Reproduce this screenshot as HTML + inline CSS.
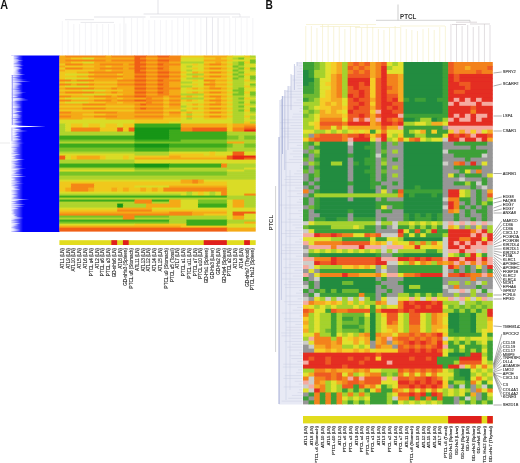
<!DOCTYPE html>
<html><head><meta charset="utf-8"><title>Heatmap figure</title>
<style>html,body{margin:0;padding:0;background:#fff;width:520px;height:463px;overflow:hidden}
svg{display:block;font-family:"Liberation Sans",sans-serif;will-change:transform}</style></head>
<body>
<svg width="520" height="463" viewBox="0 0 520 463" font-family="Liberation Sans, sans-serif">
<text transform="translate(0.2,8.7) scale(0.9,1)" font-size="12" font-weight="bold" fill="#111">A</text>
<text transform="translate(265.6,8.7) scale(0.85,1)" font-size="12" font-weight="bold" fill="#111">B</text>
<line x1="62.29" y1="21.00" x2="62.29" y2="55.50" stroke="#e8e8ee" stroke-width="0.50"/><line x1="68.06" y1="21.00" x2="68.06" y2="55.50" stroke="#e8e8ee" stroke-width="0.50"/><line x1="73.83" y1="24.00" x2="73.83" y2="55.50" stroke="#e8e8ee" stroke-width="0.50"/><line x1="79.61" y1="24.00" x2="79.61" y2="55.50" stroke="#e8e8ee" stroke-width="0.50"/><line x1="85.38" y1="23.00" x2="85.38" y2="55.50" stroke="#e8e8ee" stroke-width="0.50"/><line x1="91.15" y1="23.00" x2="91.15" y2="55.50" stroke="#e8e8ee" stroke-width="0.50"/><line x1="96.93" y1="24.00" x2="96.93" y2="55.50" stroke="#e8e8ee" stroke-width="0.50"/><line x1="102.70" y1="24.00" x2="102.70" y2="55.50" stroke="#e8e8ee" stroke-width="0.50"/><line x1="108.47" y1="24.00" x2="108.47" y2="55.50" stroke="#e8e8ee" stroke-width="0.50"/><line x1="114.25" y1="24.00" x2="114.25" y2="55.50" stroke="#e8e8ee" stroke-width="0.50"/><line x1="120.02" y1="23.50" x2="120.02" y2="55.50" stroke="#e8e8ee" stroke-width="0.50"/><line x1="125.80" y1="23.50" x2="125.80" y2="55.50" stroke="#e8e8ee" stroke-width="0.50"/><line x1="131.57" y1="18.00" x2="131.57" y2="55.50" stroke="#e8e8ee" stroke-width="0.50"/><line x1="137.34" y1="18.00" x2="137.34" y2="55.50" stroke="#e8e8ee" stroke-width="0.50"/><line x1="143.12" y1="18.00" x2="143.12" y2="55.50" stroke="#e8e8ee" stroke-width="0.50"/><line x1="148.89" y1="20.00" x2="148.89" y2="55.50" stroke="#e8e8ee" stroke-width="0.50"/><line x1="154.66" y1="20.00" x2="154.66" y2="55.50" stroke="#e8e8ee" stroke-width="0.50"/><line x1="160.44" y1="20.00" x2="160.44" y2="55.50" stroke="#e8e8ee" stroke-width="0.50"/><line x1="166.21" y1="20.00" x2="166.21" y2="55.50" stroke="#e8e8ee" stroke-width="0.50"/><line x1="171.98" y1="20.00" x2="171.98" y2="55.50" stroke="#e8e8ee" stroke-width="0.50"/><line x1="177.76" y1="18.00" x2="177.76" y2="55.50" stroke="#e8e8ee" stroke-width="0.50"/><line x1="183.53" y1="18.00" x2="183.53" y2="55.50" stroke="#e8e8ee" stroke-width="0.50"/><line x1="189.30" y1="18.00" x2="189.30" y2="55.50" stroke="#e8e8ee" stroke-width="0.50"/><line x1="195.08" y1="18.00" x2="195.08" y2="55.50" stroke="#e8e8ee" stroke-width="0.50"/><line x1="200.85" y1="18.00" x2="200.85" y2="55.50" stroke="#e8e8ee" stroke-width="0.50"/><line x1="206.62" y1="18.00" x2="206.62" y2="55.50" stroke="#e8e8ee" stroke-width="0.50"/><line x1="212.40" y1="18.00" x2="212.40" y2="55.50" stroke="#e8e8ee" stroke-width="0.50"/><line x1="218.17" y1="18.00" x2="218.17" y2="55.50" stroke="#e8e8ee" stroke-width="0.50"/><line x1="223.95" y1="18.00" x2="223.95" y2="55.50" stroke="#e8e8ee" stroke-width="0.50"/><line x1="229.72" y1="18.00" x2="229.72" y2="55.50" stroke="#e8e8ee" stroke-width="0.50"/><line x1="235.49" y1="18.00" x2="235.49" y2="55.50" stroke="#e8e8ee" stroke-width="0.50"/><line x1="241.27" y1="18.00" x2="241.27" y2="55.50" stroke="#e8e8ee" stroke-width="0.50"/><line x1="247.04" y1="18.00" x2="247.04" y2="55.50" stroke="#e8e8ee" stroke-width="0.50"/><line x1="252.81" y1="18.00" x2="252.81" y2="55.50" stroke="#e8e8ee" stroke-width="0.50"/><line x1="158.00" y1="0.00" x2="158.00" y2="14.00" stroke="#d0d0d8" stroke-width="0.60"/><line x1="143.60" y1="14.00" x2="240.00" y2="14.00" stroke="#d0d0d8" stroke-width="0.60"/><line x1="94.00" y1="17.00" x2="145.50" y2="17.00" stroke="#d0d0d8" stroke-width="0.60"/><line x1="65.00" y1="19.70" x2="94.00" y2="19.70" stroke="#d0d0d8" stroke-width="0.50"/><line x1="80.60" y1="22.40" x2="114.00" y2="22.40" stroke="#d0d0d8" stroke-width="0.50"/><line x1="150.00" y1="17.00" x2="230.00" y2="17.00" stroke="#d0d0d8" stroke-width="0.50"/><line x1="232.00" y1="17.00" x2="250.00" y2="17.00" stroke="#d0d0d8" stroke-width="0.50"/><line x1="124.00" y1="17.00" x2="124.00" y2="55.00" stroke="#dcdce2" stroke-width="0.50"/><line x1="206.60" y1="17.00" x2="206.60" y2="55.00" stroke="#dcdce2" stroke-width="0.50"/><line x1="212.50" y1="17.00" x2="212.50" y2="55.00" stroke="#dcdce2" stroke-width="0.50"/><line x1="218.00" y1="18.00" x2="218.00" y2="55.00" stroke="#dcdce2" stroke-width="0.50"/><line x1="240.00" y1="14.00" x2="240.00" y2="17.00" stroke="#d0d0d8" stroke-width="0.50"/>
<rect x="11.2" y="55.5" width="48.4" height="176.5" fill="#0000fa"/>
<defs><linearGradient id="fg" x1="0" x2="1" y1="0" y2="0"><stop offset="0" stop-color="#fff" stop-opacity="0.85"/><stop offset="1" stop-color="#fff" stop-opacity="0"/></linearGradient></defs>
<rect x="11" y="55.5" width="12" height="176.5" fill="url(#fg)"/>
<polygon points="13.10,55.24 19.81,56.00 13.10,56.76" fill="#ffffff" opacity="0.58"/><polygon points="13.10,56.85 19.06,57.64 13.10,58.44" fill="#ffffff" opacity="0.56"/><polygon points="13.10,58.61 19.33,59.16 13.10,59.72" fill="#ffffff" opacity="0.84"/><polygon points="13.10,59.63 23.62,60.31 13.10,60.99" fill="#ffffff" opacity="0.75"/><polygon points="13.10,60.51 18.97,61.79 13.10,63.07" fill="#ffffff" opacity="0.65"/><polygon points="13.10,62.37 21.07,62.96 13.10,63.56" fill="#ffffff" opacity="0.61"/><polygon points="13.10,63.65 21.58,64.66 13.10,65.67" fill="#ffffff" opacity="0.57"/><polygon points="13.10,65.07 24.04,65.73 13.10,66.40" fill="#ffffff" opacity="0.66"/><polygon points="13.10,66.57 21.00,67.43 13.10,68.30" fill="#ffffff" opacity="0.79"/><polygon points="13.10,67.77 22.80,68.73 13.10,69.69" fill="#ffffff" opacity="0.81"/><polygon points="13.10,68.79 19.54,70.07 13.10,71.36" fill="#ffffff" opacity="0.81"/><polygon points="13.10,70.36 18.91,71.25 13.10,72.15" fill="#ffffff" opacity="0.82"/><polygon points="13.10,71.74 21.11,72.94 13.10,74.14" fill="#ffffff" opacity="0.76"/><polygon points="13.10,73.77 25.32,74.64 13.10,75.50" fill="#ffffff" opacity="0.72"/><polygon points="11.30,75.89 20.71,76.43 11.30,76.98" fill="#ffffff" opacity="0.90"/><polygon points="11.30,77.69 18.50,78.42 11.30,79.15" fill="#ffffff" opacity="0.56"/><polygon points="11.30,79.34 27.23,79.97 11.30,80.61" fill="#ffffff" opacity="0.60"/><polygon points="11.30,80.46 30.60,81.27 11.30,82.08" fill="#ffffff" opacity="0.74"/><polygon points="11.30,82.18 21.85,83.33 11.30,84.49" fill="#ffffff" opacity="0.70"/><polygon points="11.30,83.56 22.50,84.76 11.30,85.97" fill="#ffffff" opacity="0.61"/><polygon points="11.30,85.35 19.19,86.04 11.30,86.73" fill="#ffffff" opacity="0.64"/><polygon points="11.30,86.21 18.38,87.05 11.30,87.88" fill="#ffffff" opacity="0.88"/><polygon points="11.30,87.96 20.12,88.87 11.30,89.79" fill="#ffffff" opacity="0.57"/><polygon points="11.30,89.83 21.92,90.95 11.30,92.08" fill="#ffffff" opacity="0.69"/><polygon points="11.30,91.85 26.64,92.43 11.30,93.02" fill="#ffffff" opacity="0.62"/><polygon points="11.30,92.86 23.08,93.63 11.30,94.40" fill="#ffffff" opacity="0.59"/><polygon points="11.30,94.54 21.92,95.06 11.30,95.58" fill="#ffffff" opacity="0.60"/><polygon points="11.30,95.59 18.35,96.37 11.30,97.14" fill="#ffffff" opacity="0.85"/><polygon points="11.30,97.69 25.80,98.56 11.30,99.43" fill="#ffffff" opacity="0.67"/><polygon points="11.30,98.71 28.64,99.88 11.30,101.04" fill="#ffffff" opacity="0.73"/><polygon points="11.30,100.12 15.99,101.05 11.30,101.99" fill="#ffffff" opacity="0.89"/><polygon points="11.30,102.03 17.63,103.09 11.30,104.14" fill="#ffffff" opacity="0.61"/><polygon points="11.30,104.09 21.25,105.01 11.30,105.94" fill="#ffffff" opacity="0.63"/><polygon points="11.30,105.70 21.77,106.99 11.30,108.28" fill="#ffffff" opacity="0.84"/><polygon points="11.30,108.19 19.42,108.88 11.30,109.56" fill="#ffffff" opacity="0.56"/><polygon points="11.30,109.19 17.61,109.91 11.30,110.63" fill="#ffffff" opacity="0.88"/><polygon points="11.30,110.20 22.72,111.45 11.30,112.70" fill="#ffffff" opacity="0.68"/><polygon points="11.30,112.03 17.18,112.71 11.30,113.39" fill="#ffffff" opacity="0.77"/><polygon points="11.30,113.62 19.16,114.79 11.30,115.96" fill="#ffffff" opacity="0.83"/><polygon points="11.30,114.86 22.17,115.89 11.30,116.92" fill="#ffffff" opacity="0.81"/><polygon points="11.30,116.82 21.32,117.47 11.30,118.11" fill="#ffffff" opacity="0.83"/><polygon points="11.30,118.82 18.61,119.63 11.30,120.45" fill="#ffffff" opacity="0.80"/><polygon points="11.30,120.23 16.86,120.84 11.30,121.44" fill="#ffffff" opacity="0.83"/><polygon points="11.30,120.85 22.66,122.01 11.30,123.17" fill="#ffffff" opacity="0.67"/><polygon points="11.30,123.07 15.90,123.67 11.30,124.27" fill="#ffffff" opacity="0.78"/><polygon points="11.30,124.06 18.84,125.30 11.30,126.55" fill="#ffffff" opacity="0.84"/><polygon points="12.50,125.85 17.76,126.56 12.50,127.26" fill="#ffffff" opacity="0.76"/><polygon points="12.50,127.03 16.79,127.87 12.50,128.70" fill="#ffffff" opacity="0.67"/><polygon points="12.50,128.45 21.43,129.42 12.50,130.38" fill="#ffffff" opacity="0.87"/><polygon points="12.50,130.09 27.78,131.02 12.50,131.94" fill="#ffffff" opacity="0.61"/><polygon points="12.50,130.88 17.03,132.02 12.50,133.16" fill="#ffffff" opacity="0.80"/><polygon points="12.50,132.93 19.11,133.69 12.50,134.45" fill="#ffffff" opacity="0.82"/><polygon points="12.50,133.87 17.49,134.82 12.50,135.77" fill="#ffffff" opacity="0.82"/><polygon points="12.50,135.48 20.56,136.43 12.50,137.38" fill="#ffffff" opacity="0.71"/><polygon points="12.50,137.26 19.07,138.16 12.50,139.07" fill="#ffffff" opacity="0.71"/><polygon points="12.50,138.92 21.65,139.80 12.50,140.68" fill="#ffffff" opacity="0.86"/><polygon points="10.70,141.23 18.12,141.93 10.70,142.64" fill="#ffffff" opacity="0.84"/><polygon points="10.70,142.50 24.74,143.10 10.70,143.69" fill="#ffffff" opacity="0.58"/><polygon points="10.70,143.77 20.48,144.90 10.70,146.03" fill="#ffffff" opacity="0.80"/><polygon points="10.70,146.08 20.38,146.69 10.70,147.31" fill="#ffffff" opacity="0.63"/><polygon points="10.70,148.02 17.61,148.84 10.70,149.65" fill="#ffffff" opacity="0.84"/><polygon points="10.70,149.18 17.81,150.03 10.70,150.88" fill="#ffffff" opacity="0.62"/><polygon points="10.70,150.33 14.34,151.41 10.70,152.49" fill="#ffffff" opacity="0.70"/><polygon points="10.70,151.67 18.57,152.43 10.70,153.20" fill="#ffffff" opacity="0.57"/><polygon points="10.70,153.49 21.00,154.62 10.70,155.75" fill="#ffffff" opacity="0.64"/><polygon points="10.70,154.54 16.09,155.66 10.70,156.79" fill="#ffffff" opacity="0.70"/><polygon points="10.70,156.60 16.01,157.76 10.70,158.91" fill="#ffffff" opacity="0.87"/><polygon points="10.70,158.38 24.96,159.44 10.70,160.50" fill="#ffffff" opacity="0.70"/><polygon points="10.70,159.28 18.64,160.53 10.70,161.78" fill="#ffffff" opacity="0.58"/><polygon points="10.70,162.00 20.24,162.56 10.70,163.11" fill="#ffffff" opacity="0.67"/><polygon points="10.70,162.98 16.08,164.22 10.70,165.46" fill="#ffffff" opacity="0.73"/><polygon points="10.70,164.92 22.54,165.51 10.70,166.09" fill="#ffffff" opacity="0.66"/><polygon points="10.70,165.76 16.23,166.87 10.70,167.98" fill="#ffffff" opacity="0.61"/><polygon points="10.70,167.77 26.35,168.29 10.70,168.80" fill="#ffffff" opacity="0.74"/><polygon points="10.70,168.64 20.74,169.52 10.70,170.40" fill="#ffffff" opacity="0.84"/><polygon points="10.70,170.14 20.04,171.03 10.70,171.93" fill="#ffffff" opacity="0.73"/><polygon points="10.70,171.57 16.60,172.86 10.70,174.15" fill="#ffffff" opacity="0.80"/><polygon points="10.70,173.80 23.41,174.62 10.70,175.45" fill="#ffffff" opacity="0.57"/><polygon points="10.70,175.81 26.39,176.51 10.70,177.22" fill="#ffffff" opacity="0.85"/><polygon points="10.70,177.59 15.90,178.32 10.70,179.04" fill="#ffffff" opacity="0.71"/><polygon points="10.70,178.65 16.04,179.51 10.70,180.36" fill="#ffffff" opacity="0.89"/><polygon points="10.70,180.47 20.96,181.16 10.70,181.86" fill="#ffffff" opacity="0.67"/><polygon points="10.70,181.36 17.52,182.16 10.70,182.97" fill="#ffffff" opacity="0.62"/><polygon points="10.70,183.27 24.45,183.77 10.70,184.27" fill="#ffffff" opacity="0.56"/><polygon points="10.70,184.05 15.83,184.80 10.70,185.54" fill="#ffffff" opacity="0.74"/><polygon points="10.70,185.67 19.21,186.70 10.70,187.72" fill="#ffffff" opacity="0.69"/><polygon points="10.70,186.80 15.25,188.09 10.70,189.38" fill="#ffffff" opacity="0.78"/><polygon points="10.70,187.97 20.44,189.14 10.70,190.31" fill="#ffffff" opacity="0.81"/><polygon points="10.70,190.50 17.87,191.12 10.70,191.73" fill="#ffffff" opacity="0.84"/><polygon points="10.70,191.92 18.29,193.08 10.70,194.24" fill="#ffffff" opacity="0.79"/><polygon points="10.70,194.23 14.42,194.91 10.70,195.60" fill="#ffffff" opacity="0.68"/><polygon points="10.70,194.87 18.11,196.04 10.70,197.21" fill="#ffffff" opacity="0.77"/><polygon points="10.70,196.96 14.22,197.86 10.70,198.75" fill="#ffffff" opacity="0.81"/><polygon points="10.70,198.53 29.24,199.46 10.70,200.39" fill="#ffffff" opacity="0.64"/><polygon points="10.70,199.84 19.31,200.55 10.70,201.26" fill="#ffffff" opacity="0.81"/><polygon points="10.70,201.82 16.88,202.72 10.70,203.61" fill="#ffffff" opacity="0.79"/><polygon points="10.70,203.65 25.58,204.64 10.70,205.63" fill="#ffffff" opacity="0.64"/><polygon points="10.70,205.79 24.54,206.53 10.70,207.28" fill="#ffffff" opacity="0.64"/><polygon points="10.70,207.28 18.93,208.34 10.70,209.39" fill="#ffffff" opacity="0.73"/><polygon points="10.70,209.02 15.03,209.90 10.70,210.77" fill="#ffffff" opacity="0.62"/><polygon points="10.70,210.82 14.32,212.07 10.70,213.32" fill="#ffffff" opacity="0.84"/><polygon points="10.70,213.37 16.08,214.23 10.70,215.09" fill="#ffffff" opacity="0.88"/><polygon points="10.70,214.52 15.19,215.48 10.70,216.45" fill="#ffffff" opacity="0.88"/><polygon points="10.70,215.49 17.76,216.64 10.70,217.80" fill="#ffffff" opacity="0.80"/><polygon points="10.70,216.70 23.62,217.92 10.70,219.14" fill="#ffffff" opacity="0.72"/><polygon points="10.70,218.72 15.18,219.46 10.70,220.20" fill="#ffffff" opacity="0.66"/><polygon points="10.70,220.97 19.46,221.47 10.70,221.97" fill="#ffffff" opacity="0.59"/><polygon points="10.70,222.51 20.51,223.58 10.70,224.65" fill="#ffffff" opacity="0.68"/><polygon points="10.70,223.75 18.32,225.05 10.70,226.35" fill="#ffffff" opacity="0.70"/><polygon points="10.70,225.84 14.91,226.38 10.70,226.92" fill="#ffffff" opacity="0.65"/><polygon points="10.70,227.81 16.06,228.51 10.70,229.21" fill="#ffffff" opacity="0.62"/><polygon points="10.70,228.69 20.39,229.95 10.70,231.22" fill="#ffffff" opacity="0.77"/>
<rect x="0" y="55" width="10.8" height="178" fill="#fff"/>
<rect x="10.8" y="55.5" width="2.8" height="19.5" fill="#fff"/>
<polygon points="11,125.6 46,126.5 11,127.5" fill="#fff"/>
<line x1="12.4" y1="75" x2="12.4" y2="125" stroke="#8a8af5" stroke-width="0.8"/>
<line x1="0" y1="143" x2="10" y2="143" stroke="#ddd" stroke-width="0.6"/>
<defs><filter id="bl" x="-2%" y="-2%" width="104%" height="104%"><feGaussianBlur stdDeviation="0.55"/></filter></defs>
<g filter="url(#bl)"><rect x="59.40" y="55.50" width="6.37" height="2.60" fill="#f5aa19"/>
<rect x="65.17" y="55.50" width="41.01" height="2.60" fill="#f58714"/>
<rect x="105.59" y="55.50" width="6.37" height="2.60" fill="#f5aa19"/>
<rect x="111.36" y="55.50" width="23.69" height="2.60" fill="#f58714"/>
<rect x="134.46" y="55.50" width="12.15" height="2.60" fill="#f05f14"/>
<rect x="146.00" y="55.50" width="12.15" height="2.60" fill="#f58714"/>
<rect x="157.55" y="55.50" width="12.15" height="2.60" fill="#f05f14"/>
<rect x="169.10" y="55.50" width="12.15" height="2.60" fill="#f58714"/>
<rect x="180.64" y="55.50" width="23.69" height="2.60" fill="#f0c81e"/>
<rect x="203.74" y="55.50" width="23.69" height="2.60" fill="#f5aa19"/>
<rect x="226.83" y="55.50" width="6.37" height="2.60" fill="#f0c81e"/>
<rect x="232.61" y="55.50" width="12.15" height="2.60" fill="#dadc28"/>
<rect x="244.15" y="55.50" width="6.37" height="2.60" fill="#f0c81e"/>
<rect x="249.93" y="55.50" width="5.77" height="2.60" fill="#afd42d"/>
<rect x="59.40" y="57.50" width="12.15" height="2.60" fill="#f5aa19"/>
<rect x="70.95" y="57.50" width="12.15" height="2.60" fill="#f0c81e"/>
<rect x="82.49" y="57.50" width="12.15" height="2.60" fill="#dadc28"/>
<rect x="94.04" y="57.50" width="41.01" height="2.60" fill="#f5aa19"/>
<rect x="134.46" y="57.50" width="6.37" height="2.60" fill="#f05f14"/>
<rect x="140.23" y="57.50" width="6.37" height="2.60" fill="#f58714"/>
<rect x="146.00" y="57.50" width="12.15" height="2.60" fill="#f5aa19"/>
<rect x="157.55" y="57.50" width="23.69" height="2.60" fill="#f58714"/>
<rect x="180.64" y="57.50" width="23.69" height="2.60" fill="#dadc28"/>
<rect x="203.74" y="57.50" width="12.15" height="2.60" fill="#f0c81e"/>
<rect x="215.29" y="57.50" width="6.37" height="2.60" fill="#f5aa19"/>
<rect x="221.06" y="57.50" width="6.37" height="2.60" fill="#f0c81e"/>
<rect x="226.83" y="57.50" width="6.37" height="2.60" fill="#dadc28"/>
<rect x="232.61" y="57.50" width="6.37" height="2.60" fill="#afd42d"/>
<rect x="238.38" y="57.50" width="6.37" height="2.60" fill="#78c328"/>
<rect x="244.15" y="57.50" width="11.55" height="2.60" fill="#dadc28"/>
<rect x="59.40" y="59.50" width="6.37" height="2.60" fill="#f5aa19"/>
<rect x="65.17" y="59.50" width="41.01" height="2.60" fill="#f58714"/>
<rect x="105.59" y="59.50" width="6.37" height="2.60" fill="#f5aa19"/>
<rect x="111.36" y="59.50" width="23.69" height="2.60" fill="#f58714"/>
<rect x="134.46" y="59.50" width="12.15" height="2.60" fill="#f05f14"/>
<rect x="146.00" y="59.50" width="12.15" height="2.60" fill="#f58714"/>
<rect x="157.55" y="59.50" width="12.15" height="2.60" fill="#f05f14"/>
<rect x="169.10" y="59.50" width="12.15" height="2.60" fill="#f58714"/>
<rect x="180.64" y="59.50" width="23.69" height="2.60" fill="#dadc28"/>
<rect x="203.74" y="59.50" width="23.69" height="2.60" fill="#f5aa19"/>
<rect x="226.83" y="59.50" width="6.37" height="2.60" fill="#f0c81e"/>
<rect x="232.61" y="59.50" width="17.92" height="2.60" fill="#dadc28"/>
<rect x="249.93" y="59.50" width="5.77" height="2.60" fill="#78c328"/>
<rect x="59.40" y="61.50" width="12.15" height="2.60" fill="#f5aa19"/>
<rect x="70.95" y="61.50" width="12.15" height="2.60" fill="#f0c81e"/>
<rect x="82.49" y="61.50" width="12.15" height="2.60" fill="#dadc28"/>
<rect x="94.04" y="61.50" width="41.01" height="2.60" fill="#f5aa19"/>
<rect x="134.46" y="61.50" width="6.37" height="2.60" fill="#f05f14"/>
<rect x="140.23" y="61.50" width="6.37" height="2.60" fill="#f58714"/>
<rect x="146.00" y="61.50" width="12.15" height="2.60" fill="#f5aa19"/>
<rect x="157.55" y="61.50" width="12.15" height="2.60" fill="#f58714"/>
<rect x="169.10" y="61.50" width="12.15" height="2.60" fill="#f5aa19"/>
<rect x="180.64" y="61.50" width="23.69" height="2.60" fill="#afd42d"/>
<rect x="203.74" y="61.50" width="12.15" height="2.60" fill="#f0c81e"/>
<rect x="215.29" y="61.50" width="6.37" height="2.60" fill="#f5aa19"/>
<rect x="221.06" y="61.50" width="6.37" height="2.60" fill="#f0c81e"/>
<rect x="226.83" y="61.50" width="6.37" height="2.60" fill="#dadc28"/>
<rect x="232.61" y="61.50" width="6.37" height="2.60" fill="#afd42d"/>
<rect x="238.38" y="61.50" width="6.37" height="2.60" fill="#78c328"/>
<rect x="244.15" y="61.50" width="6.37" height="2.60" fill="#f0c81e"/>
<rect x="249.93" y="61.50" width="5.77" height="2.60" fill="#78c328"/>
<rect x="59.40" y="63.50" width="6.37" height="2.60" fill="#f0c81e"/>
<rect x="65.17" y="63.50" width="17.92" height="2.60" fill="#f58714"/>
<rect x="82.49" y="63.50" width="17.92" height="2.60" fill="#f5aa19"/>
<rect x="99.81" y="63.50" width="23.69" height="2.60" fill="#f58714"/>
<rect x="122.91" y="63.50" width="6.37" height="2.60" fill="#f5aa19"/>
<rect x="128.68" y="63.50" width="6.37" height="2.60" fill="#f58714"/>
<rect x="134.46" y="63.50" width="12.15" height="2.60" fill="#f05f14"/>
<rect x="146.00" y="63.50" width="12.15" height="2.60" fill="#f58714"/>
<rect x="157.55" y="63.50" width="6.37" height="2.60" fill="#f05f14"/>
<rect x="163.32" y="63.50" width="17.92" height="2.60" fill="#f58714"/>
<rect x="180.64" y="63.50" width="12.15" height="2.60" fill="#dadc28"/>
<rect x="192.19" y="63.50" width="6.37" height="2.60" fill="#f0c81e"/>
<rect x="197.96" y="63.50" width="6.37" height="2.60" fill="#dadc28"/>
<rect x="203.74" y="63.50" width="6.37" height="2.60" fill="#f5aa19"/>
<rect x="209.51" y="63.50" width="12.15" height="2.60" fill="#f58714"/>
<rect x="221.06" y="63.50" width="6.37" height="2.60" fill="#f5aa19"/>
<rect x="226.83" y="63.50" width="6.37" height="2.60" fill="#f0c81e"/>
<rect x="232.61" y="63.50" width="6.37" height="2.60" fill="#afd42d"/>
<rect x="238.38" y="63.50" width="6.37" height="2.60" fill="#78c328"/>
<rect x="244.15" y="63.50" width="11.55" height="2.60" fill="#dadc28"/>
<rect x="59.40" y="65.51" width="6.37" height="2.60" fill="#f5aa19"/>
<rect x="65.17" y="65.51" width="29.47" height="2.60" fill="#f0c81e"/>
<rect x="94.04" y="65.51" width="12.15" height="2.60" fill="#f5aa19"/>
<rect x="105.59" y="65.51" width="6.37" height="2.60" fill="#f0c81e"/>
<rect x="111.36" y="65.51" width="23.69" height="2.60" fill="#f5aa19"/>
<rect x="134.46" y="65.51" width="6.37" height="2.60" fill="#f05f14"/>
<rect x="140.23" y="65.51" width="6.37" height="2.60" fill="#f58714"/>
<rect x="146.00" y="65.51" width="12.15" height="2.60" fill="#f5aa19"/>
<rect x="157.55" y="65.51" width="12.15" height="2.60" fill="#f58714"/>
<rect x="169.10" y="65.51" width="12.15" height="2.60" fill="#f5aa19"/>
<rect x="180.64" y="65.51" width="6.37" height="2.60" fill="#dadc28"/>
<rect x="186.42" y="65.51" width="6.37" height="2.60" fill="#afd42d"/>
<rect x="192.19" y="65.51" width="12.15" height="2.60" fill="#dadc28"/>
<rect x="203.74" y="65.51" width="23.69" height="2.60" fill="#f0c81e"/>
<rect x="226.83" y="65.51" width="6.37" height="2.60" fill="#dadc28"/>
<rect x="232.61" y="65.51" width="6.37" height="2.60" fill="#78c328"/>
<rect x="238.38" y="65.51" width="6.37" height="2.60" fill="#afd42d"/>
<rect x="244.15" y="65.51" width="11.55" height="2.60" fill="#dadc28"/>
<rect x="59.40" y="67.51" width="6.37" height="2.60" fill="#f0c81e"/>
<rect x="65.17" y="67.51" width="17.92" height="2.60" fill="#f58714"/>
<rect x="82.49" y="67.51" width="17.92" height="2.60" fill="#f5aa19"/>
<rect x="99.81" y="67.51" width="23.69" height="2.60" fill="#f58714"/>
<rect x="122.91" y="67.51" width="6.37" height="2.60" fill="#f5aa19"/>
<rect x="128.68" y="67.51" width="6.37" height="2.60" fill="#f58714"/>
<rect x="134.46" y="67.51" width="12.15" height="2.60" fill="#f05f14"/>
<rect x="146.00" y="67.51" width="12.15" height="2.60" fill="#f58714"/>
<rect x="157.55" y="67.51" width="6.37" height="2.60" fill="#f05f14"/>
<rect x="163.32" y="67.51" width="6.37" height="2.60" fill="#f58714"/>
<rect x="169.10" y="67.51" width="12.15" height="2.60" fill="#f5aa19"/>
<rect x="180.64" y="67.51" width="12.15" height="2.60" fill="#dadc28"/>
<rect x="192.19" y="67.51" width="6.37" height="2.60" fill="#f0c81e"/>
<rect x="197.96" y="67.51" width="6.37" height="2.60" fill="#dadc28"/>
<rect x="203.74" y="67.51" width="6.37" height="2.60" fill="#f5aa19"/>
<rect x="209.51" y="67.51" width="12.15" height="2.60" fill="#f58714"/>
<rect x="221.06" y="67.51" width="6.37" height="2.60" fill="#f5aa19"/>
<rect x="226.83" y="67.51" width="6.37" height="2.60" fill="#f0c81e"/>
<rect x="232.61" y="67.51" width="6.37" height="2.60" fill="#afd42d"/>
<rect x="238.38" y="67.51" width="6.37" height="2.60" fill="#78c328"/>
<rect x="244.15" y="67.51" width="6.37" height="2.60" fill="#f0c81e"/>
<rect x="249.93" y="67.51" width="5.77" height="2.60" fill="#78c328"/>
<rect x="59.40" y="69.51" width="6.37" height="2.60" fill="#f5aa19"/>
<rect x="65.17" y="69.51" width="29.47" height="2.60" fill="#f0c81e"/>
<rect x="94.04" y="69.51" width="12.15" height="2.60" fill="#f5aa19"/>
<rect x="105.59" y="69.51" width="6.37" height="2.60" fill="#f0c81e"/>
<rect x="111.36" y="69.51" width="23.69" height="2.60" fill="#f5aa19"/>
<rect x="134.46" y="69.51" width="6.37" height="2.60" fill="#f05f14"/>
<rect x="140.23" y="69.51" width="6.37" height="2.60" fill="#f58714"/>
<rect x="146.00" y="69.51" width="12.15" height="2.60" fill="#f5aa19"/>
<rect x="157.55" y="69.51" width="12.15" height="2.60" fill="#f58714"/>
<rect x="169.10" y="69.51" width="12.15" height="2.60" fill="#f5aa19"/>
<rect x="180.64" y="69.51" width="6.37" height="2.60" fill="#dadc28"/>
<rect x="186.42" y="69.51" width="6.37" height="2.60" fill="#afd42d"/>
<rect x="192.19" y="69.51" width="12.15" height="2.60" fill="#dadc28"/>
<rect x="203.74" y="69.51" width="23.69" height="2.60" fill="#f0c81e"/>
<rect x="226.83" y="69.51" width="6.37" height="2.60" fill="#dadc28"/>
<rect x="232.61" y="69.51" width="6.37" height="2.60" fill="#78c328"/>
<rect x="238.38" y="69.51" width="6.37" height="2.60" fill="#afd42d"/>
<rect x="244.15" y="69.51" width="6.37" height="2.60" fill="#dadc28"/>
<rect x="249.93" y="69.51" width="5.77" height="2.60" fill="#afd42d"/>
<rect x="59.40" y="71.51" width="17.92" height="2.60" fill="#f0c81e"/>
<rect x="76.72" y="71.51" width="12.15" height="2.60" fill="#f5aa19"/>
<rect x="88.27" y="71.51" width="35.24" height="2.60" fill="#f58714"/>
<rect x="122.91" y="71.51" width="12.15" height="2.60" fill="#f5aa19"/>
<rect x="134.46" y="71.51" width="12.15" height="2.60" fill="#f05f14"/>
<rect x="146.00" y="71.51" width="12.15" height="2.60" fill="#f58714"/>
<rect x="157.55" y="71.51" width="12.15" height="2.60" fill="#f05f14"/>
<rect x="169.10" y="71.51" width="12.15" height="2.60" fill="#f58714"/>
<rect x="180.64" y="71.51" width="6.37" height="2.60" fill="#f0c81e"/>
<rect x="186.42" y="71.51" width="6.37" height="2.60" fill="#dadc28"/>
<rect x="192.19" y="71.51" width="6.37" height="2.60" fill="#f5aa19"/>
<rect x="197.96" y="71.51" width="6.37" height="2.60" fill="#f0c81e"/>
<rect x="203.74" y="71.51" width="6.37" height="2.60" fill="#f5aa19"/>
<rect x="209.51" y="71.51" width="12.15" height="2.60" fill="#f58714"/>
<rect x="221.06" y="71.51" width="6.37" height="2.60" fill="#f5aa19"/>
<rect x="226.83" y="71.51" width="6.37" height="2.60" fill="#f0c81e"/>
<rect x="232.61" y="71.51" width="6.37" height="2.60" fill="#afd42d"/>
<rect x="238.38" y="71.51" width="6.37" height="2.60" fill="#78c328"/>
<rect x="244.15" y="71.51" width="11.55" height="2.60" fill="#dadc28"/>
<rect x="59.40" y="73.51" width="6.37" height="2.60" fill="#f0c81e"/>
<rect x="65.17" y="73.51" width="23.69" height="2.60" fill="#dadc28"/>
<rect x="88.27" y="73.51" width="6.37" height="2.60" fill="#f0c81e"/>
<rect x="94.04" y="73.51" width="23.69" height="2.60" fill="#f5aa19"/>
<rect x="117.14" y="73.51" width="6.37" height="2.60" fill="#f0c81e"/>
<rect x="122.91" y="73.51" width="12.15" height="2.60" fill="#f5aa19"/>
<rect x="134.46" y="73.51" width="12.15" height="2.60" fill="#f58714"/>
<rect x="146.00" y="73.51" width="12.15" height="2.60" fill="#f5aa19"/>
<rect x="157.55" y="73.51" width="12.15" height="2.60" fill="#f58714"/>
<rect x="169.10" y="73.51" width="12.15" height="2.60" fill="#f5aa19"/>
<rect x="180.64" y="73.51" width="6.37" height="2.60" fill="#dadc28"/>
<rect x="186.42" y="73.51" width="17.92" height="2.60" fill="#afd42d"/>
<rect x="203.74" y="73.51" width="23.69" height="2.60" fill="#f0c81e"/>
<rect x="226.83" y="73.51" width="6.37" height="2.60" fill="#dadc28"/>
<rect x="232.61" y="73.51" width="6.37" height="2.60" fill="#78c328"/>
<rect x="238.38" y="73.51" width="6.37" height="2.60" fill="#afd42d"/>
<rect x="244.15" y="73.51" width="6.37" height="2.60" fill="#f0c81e"/>
<rect x="249.93" y="73.51" width="5.77" height="2.60" fill="#dadc28"/>
<rect x="59.40" y="75.51" width="17.92" height="2.60" fill="#f0c81e"/>
<rect x="76.72" y="75.51" width="12.15" height="2.60" fill="#f5aa19"/>
<rect x="88.27" y="75.51" width="35.24" height="2.60" fill="#f58714"/>
<rect x="122.91" y="75.51" width="12.15" height="2.60" fill="#f5aa19"/>
<rect x="134.46" y="75.51" width="12.15" height="2.60" fill="#f05f14"/>
<rect x="146.00" y="75.51" width="12.15" height="2.60" fill="#f58714"/>
<rect x="157.55" y="75.51" width="12.15" height="2.60" fill="#f05f14"/>
<rect x="169.10" y="75.51" width="12.15" height="2.60" fill="#f58714"/>
<rect x="180.64" y="75.51" width="6.37" height="2.60" fill="#f0c81e"/>
<rect x="186.42" y="75.51" width="6.37" height="2.60" fill="#dadc28"/>
<rect x="192.19" y="75.51" width="6.37" height="2.60" fill="#f5aa19"/>
<rect x="197.96" y="75.51" width="6.37" height="2.60" fill="#f0c81e"/>
<rect x="203.74" y="75.51" width="6.37" height="2.60" fill="#f5aa19"/>
<rect x="209.51" y="75.51" width="12.15" height="2.60" fill="#f58714"/>
<rect x="221.06" y="75.51" width="6.37" height="2.60" fill="#f5aa19"/>
<rect x="226.83" y="75.51" width="6.37" height="2.60" fill="#f0c81e"/>
<rect x="232.61" y="75.51" width="6.37" height="2.60" fill="#afd42d"/>
<rect x="238.38" y="75.51" width="6.37" height="2.60" fill="#78c328"/>
<rect x="244.15" y="75.51" width="6.37" height="2.60" fill="#dadc28"/>
<rect x="249.93" y="75.51" width="5.77" height="2.60" fill="#78c328"/>
<rect x="59.40" y="77.51" width="6.37" height="2.60" fill="#f0c81e"/>
<rect x="65.17" y="77.51" width="23.69" height="2.60" fill="#dadc28"/>
<rect x="88.27" y="77.51" width="6.37" height="2.60" fill="#f0c81e"/>
<rect x="94.04" y="77.51" width="23.69" height="2.60" fill="#f5aa19"/>
<rect x="117.14" y="77.51" width="6.37" height="2.60" fill="#f0c81e"/>
<rect x="122.91" y="77.51" width="12.15" height="2.60" fill="#f5aa19"/>
<rect x="134.46" y="77.51" width="12.15" height="2.60" fill="#f58714"/>
<rect x="146.00" y="77.51" width="12.15" height="2.60" fill="#f5aa19"/>
<rect x="157.55" y="77.51" width="12.15" height="2.60" fill="#f58714"/>
<rect x="169.10" y="77.51" width="12.15" height="2.60" fill="#f5aa19"/>
<rect x="180.64" y="77.51" width="6.37" height="2.60" fill="#dadc28"/>
<rect x="186.42" y="77.51" width="17.92" height="2.60" fill="#afd42d"/>
<rect x="203.74" y="77.51" width="23.69" height="2.60" fill="#f0c81e"/>
<rect x="226.83" y="77.51" width="6.37" height="2.60" fill="#dadc28"/>
<rect x="232.61" y="77.51" width="6.37" height="2.60" fill="#78c328"/>
<rect x="238.38" y="77.51" width="6.37" height="2.60" fill="#afd42d"/>
<rect x="244.15" y="77.51" width="6.37" height="2.60" fill="#dadc28"/>
<rect x="249.93" y="77.51" width="5.77" height="2.60" fill="#78c328"/>
<rect x="59.40" y="79.51" width="12.15" height="2.60" fill="#f58714"/>
<rect x="70.95" y="79.51" width="6.37" height="2.60" fill="#f5aa19"/>
<rect x="76.72" y="79.51" width="17.92" height="2.60" fill="#f58714"/>
<rect x="94.04" y="79.51" width="23.69" height="2.60" fill="#f5aa19"/>
<rect x="117.14" y="79.51" width="17.92" height="2.60" fill="#f58714"/>
<rect x="134.46" y="79.51" width="12.15" height="2.60" fill="#f05f14"/>
<rect x="146.00" y="79.51" width="12.15" height="2.60" fill="#f58714"/>
<rect x="157.55" y="79.51" width="6.37" height="2.60" fill="#f05f14"/>
<rect x="163.32" y="79.51" width="17.92" height="2.60" fill="#f58714"/>
<rect x="180.64" y="79.51" width="12.15" height="2.60" fill="#dadc28"/>
<rect x="192.19" y="79.51" width="6.37" height="2.60" fill="#f0c81e"/>
<rect x="197.96" y="79.51" width="6.37" height="2.60" fill="#dadc28"/>
<rect x="203.74" y="79.51" width="12.15" height="2.60" fill="#f58714"/>
<rect x="215.29" y="79.51" width="12.15" height="2.60" fill="#f5aa19"/>
<rect x="226.83" y="79.51" width="6.37" height="2.60" fill="#f0c81e"/>
<rect x="232.61" y="79.51" width="12.15" height="2.60" fill="#afd42d"/>
<rect x="244.15" y="79.51" width="6.37" height="2.60" fill="#f0c81e"/>
<rect x="249.93" y="79.51" width="5.77" height="2.60" fill="#afd42d"/>
<rect x="59.40" y="81.51" width="6.37" height="2.60" fill="#f0c81e"/>
<rect x="65.17" y="81.51" width="23.69" height="2.60" fill="#dadc28"/>
<rect x="88.27" y="81.51" width="29.47" height="2.60" fill="#f0c81e"/>
<rect x="117.14" y="81.51" width="17.92" height="2.60" fill="#f5aa19"/>
<rect x="134.46" y="81.51" width="12.15" height="2.60" fill="#f58714"/>
<rect x="146.00" y="81.51" width="12.15" height="2.60" fill="#f5aa19"/>
<rect x="157.55" y="81.51" width="12.15" height="2.60" fill="#f58714"/>
<rect x="169.10" y="81.51" width="12.15" height="2.60" fill="#f5aa19"/>
<rect x="180.64" y="81.51" width="12.15" height="2.60" fill="#afd42d"/>
<rect x="192.19" y="81.51" width="12.15" height="2.60" fill="#dadc28"/>
<rect x="203.74" y="81.51" width="6.37" height="2.60" fill="#f0c81e"/>
<rect x="209.51" y="81.51" width="6.37" height="2.60" fill="#f5aa19"/>
<rect x="215.29" y="81.51" width="12.15" height="2.60" fill="#f0c81e"/>
<rect x="226.83" y="81.51" width="6.37" height="2.60" fill="#dadc28"/>
<rect x="232.61" y="81.51" width="12.15" height="2.60" fill="#afd42d"/>
<rect x="244.15" y="81.51" width="11.55" height="2.60" fill="#dadc28"/>
<rect x="59.40" y="83.52" width="12.15" height="2.60" fill="#f58714"/>
<rect x="70.95" y="83.52" width="6.37" height="2.60" fill="#f5aa19"/>
<rect x="76.72" y="83.52" width="17.92" height="2.60" fill="#f58714"/>
<rect x="94.04" y="83.52" width="23.69" height="2.60" fill="#f5aa19"/>
<rect x="117.14" y="83.52" width="17.92" height="2.60" fill="#f58714"/>
<rect x="134.46" y="83.52" width="12.15" height="2.60" fill="#f05f14"/>
<rect x="146.00" y="83.52" width="12.15" height="2.60" fill="#f58714"/>
<rect x="157.55" y="83.52" width="6.37" height="2.60" fill="#f05f14"/>
<rect x="163.32" y="83.52" width="6.37" height="2.60" fill="#f58714"/>
<rect x="169.10" y="83.52" width="12.15" height="2.60" fill="#f5aa19"/>
<rect x="180.64" y="83.52" width="12.15" height="2.60" fill="#dadc28"/>
<rect x="192.19" y="83.52" width="6.37" height="2.60" fill="#f0c81e"/>
<rect x="197.96" y="83.52" width="6.37" height="2.60" fill="#dadc28"/>
<rect x="203.74" y="83.52" width="12.15" height="2.60" fill="#f58714"/>
<rect x="215.29" y="83.52" width="12.15" height="2.60" fill="#f5aa19"/>
<rect x="226.83" y="83.52" width="6.37" height="2.60" fill="#f0c81e"/>
<rect x="232.61" y="83.52" width="12.15" height="2.60" fill="#afd42d"/>
<rect x="244.15" y="83.52" width="6.37" height="2.60" fill="#dadc28"/>
<rect x="249.93" y="83.52" width="5.77" height="2.60" fill="#78c328"/>
<rect x="59.40" y="85.52" width="6.37" height="2.60" fill="#f0c81e"/>
<rect x="65.17" y="85.52" width="23.69" height="2.60" fill="#dadc28"/>
<rect x="88.27" y="85.52" width="29.47" height="2.60" fill="#f0c81e"/>
<rect x="117.14" y="85.52" width="17.92" height="2.60" fill="#f5aa19"/>
<rect x="134.46" y="85.52" width="12.15" height="2.60" fill="#f58714"/>
<rect x="146.00" y="85.52" width="12.15" height="2.60" fill="#f5aa19"/>
<rect x="157.55" y="85.52" width="12.15" height="2.60" fill="#f58714"/>
<rect x="169.10" y="85.52" width="12.15" height="2.60" fill="#f5aa19"/>
<rect x="180.64" y="85.52" width="12.15" height="2.60" fill="#afd42d"/>
<rect x="192.19" y="85.52" width="12.15" height="2.60" fill="#dadc28"/>
<rect x="203.74" y="85.52" width="6.37" height="2.60" fill="#f0c81e"/>
<rect x="209.51" y="85.52" width="6.37" height="2.60" fill="#f5aa19"/>
<rect x="215.29" y="85.52" width="12.15" height="2.60" fill="#f0c81e"/>
<rect x="226.83" y="85.52" width="6.37" height="2.60" fill="#dadc28"/>
<rect x="232.61" y="85.52" width="12.15" height="2.60" fill="#afd42d"/>
<rect x="244.15" y="85.52" width="6.37" height="2.60" fill="#f0c81e"/>
<rect x="249.93" y="85.52" width="5.77" height="2.60" fill="#afd42d"/>
<rect x="59.40" y="87.52" width="6.37" height="2.60" fill="#f5aa19"/>
<rect x="65.17" y="87.52" width="29.47" height="2.60" fill="#f58714"/>
<rect x="94.04" y="87.52" width="17.92" height="2.60" fill="#f5aa19"/>
<rect x="111.36" y="87.52" width="6.37" height="2.60" fill="#f58714"/>
<rect x="117.14" y="87.52" width="17.92" height="2.60" fill="#f5aa19"/>
<rect x="134.46" y="87.52" width="12.15" height="2.60" fill="#f05f14"/>
<rect x="146.00" y="87.52" width="12.15" height="2.60" fill="#f58714"/>
<rect x="157.55" y="87.52" width="6.37" height="2.60" fill="#f05f14"/>
<rect x="163.32" y="87.52" width="17.92" height="2.60" fill="#f58714"/>
<rect x="180.64" y="87.52" width="6.37" height="2.60" fill="#dadc28"/>
<rect x="186.42" y="87.52" width="6.37" height="2.60" fill="#f0c81e"/>
<rect x="192.19" y="87.52" width="6.37" height="2.60" fill="#f5aa19"/>
<rect x="197.96" y="87.52" width="6.37" height="2.60" fill="#f0c81e"/>
<rect x="203.74" y="87.52" width="6.37" height="2.60" fill="#f5aa19"/>
<rect x="209.51" y="87.52" width="12.15" height="2.60" fill="#f58714"/>
<rect x="221.06" y="87.52" width="6.37" height="2.60" fill="#f5aa19"/>
<rect x="226.83" y="87.52" width="6.37" height="2.60" fill="#f0c81e"/>
<rect x="232.61" y="87.52" width="6.37" height="2.60" fill="#afd42d"/>
<rect x="238.38" y="87.52" width="6.37" height="2.60" fill="#78c328"/>
<rect x="244.15" y="87.52" width="11.55" height="2.60" fill="#dadc28"/>
<rect x="59.40" y="89.52" width="23.69" height="2.60" fill="#f0c81e"/>
<rect x="82.49" y="89.52" width="23.69" height="2.60" fill="#dadc28"/>
<rect x="105.59" y="89.52" width="17.92" height="2.60" fill="#f0c81e"/>
<rect x="122.91" y="89.52" width="12.15" height="2.60" fill="#f5aa19"/>
<rect x="134.46" y="89.52" width="12.15" height="2.60" fill="#f58714"/>
<rect x="146.00" y="89.52" width="12.15" height="2.60" fill="#f5aa19"/>
<rect x="157.55" y="89.52" width="12.15" height="2.60" fill="#f58714"/>
<rect x="169.10" y="89.52" width="12.15" height="2.60" fill="#f5aa19"/>
<rect x="180.64" y="89.52" width="23.69" height="2.60" fill="#dadc28"/>
<rect x="203.74" y="89.52" width="23.69" height="2.60" fill="#f0c81e"/>
<rect x="226.83" y="89.52" width="6.37" height="2.60" fill="#dadc28"/>
<rect x="232.61" y="89.52" width="12.15" height="2.60" fill="#78c328"/>
<rect x="244.15" y="89.52" width="11.55" height="2.60" fill="#dadc28"/>
<rect x="59.40" y="91.52" width="6.37" height="2.60" fill="#f5aa19"/>
<rect x="65.17" y="91.52" width="29.47" height="2.60" fill="#f58714"/>
<rect x="94.04" y="91.52" width="17.92" height="2.60" fill="#f5aa19"/>
<rect x="111.36" y="91.52" width="6.37" height="2.60" fill="#f58714"/>
<rect x="117.14" y="91.52" width="17.92" height="2.60" fill="#f5aa19"/>
<rect x="134.46" y="91.52" width="12.15" height="2.60" fill="#f05f14"/>
<rect x="146.00" y="91.52" width="12.15" height="2.60" fill="#f58714"/>
<rect x="157.55" y="91.52" width="6.37" height="2.60" fill="#f05f14"/>
<rect x="163.32" y="91.52" width="6.37" height="2.60" fill="#f58714"/>
<rect x="169.10" y="91.52" width="12.15" height="2.60" fill="#f5aa19"/>
<rect x="180.64" y="91.52" width="6.37" height="2.60" fill="#dadc28"/>
<rect x="186.42" y="91.52" width="6.37" height="2.60" fill="#f0c81e"/>
<rect x="192.19" y="91.52" width="6.37" height="2.60" fill="#f5aa19"/>
<rect x="197.96" y="91.52" width="6.37" height="2.60" fill="#f0c81e"/>
<rect x="203.74" y="91.52" width="6.37" height="2.60" fill="#f5aa19"/>
<rect x="209.51" y="91.52" width="12.15" height="2.60" fill="#f58714"/>
<rect x="221.06" y="91.52" width="6.37" height="2.60" fill="#f5aa19"/>
<rect x="226.83" y="91.52" width="6.37" height="2.60" fill="#f0c81e"/>
<rect x="232.61" y="91.52" width="6.37" height="2.60" fill="#afd42d"/>
<rect x="238.38" y="91.52" width="6.37" height="2.60" fill="#78c328"/>
<rect x="244.15" y="91.52" width="6.37" height="2.60" fill="#f0c81e"/>
<rect x="249.93" y="91.52" width="5.77" height="2.60" fill="#78c328"/>
<rect x="59.40" y="93.52" width="23.69" height="2.60" fill="#f0c81e"/>
<rect x="82.49" y="93.52" width="23.69" height="2.60" fill="#dadc28"/>
<rect x="105.59" y="93.52" width="17.92" height="2.60" fill="#f0c81e"/>
<rect x="122.91" y="93.52" width="12.15" height="2.60" fill="#f5aa19"/>
<rect x="134.46" y="93.52" width="12.15" height="2.60" fill="#f58714"/>
<rect x="146.00" y="93.52" width="12.15" height="2.60" fill="#f5aa19"/>
<rect x="157.55" y="93.52" width="12.15" height="2.60" fill="#f58714"/>
<rect x="169.10" y="93.52" width="12.15" height="2.60" fill="#f5aa19"/>
<rect x="180.64" y="93.52" width="23.69" height="2.60" fill="#afd42d"/>
<rect x="203.74" y="93.52" width="23.69" height="2.60" fill="#f0c81e"/>
<rect x="226.83" y="93.52" width="6.37" height="2.60" fill="#dadc28"/>
<rect x="232.61" y="93.52" width="12.15" height="2.60" fill="#78c328"/>
<rect x="244.15" y="93.52" width="6.37" height="2.60" fill="#dadc28"/>
<rect x="249.93" y="93.52" width="5.77" height="2.60" fill="#78c328"/>
<rect x="59.40" y="95.52" width="12.15" height="2.60" fill="#f58714"/>
<rect x="70.95" y="95.52" width="23.69" height="2.60" fill="#f5aa19"/>
<rect x="94.04" y="95.52" width="17.92" height="2.60" fill="#f58714"/>
<rect x="111.36" y="95.52" width="6.37" height="2.60" fill="#f5aa19"/>
<rect x="117.14" y="95.52" width="17.92" height="2.60" fill="#f58714"/>
<rect x="134.46" y="95.52" width="12.15" height="2.60" fill="#f05f14"/>
<rect x="146.00" y="95.52" width="17.92" height="2.60" fill="#f58714"/>
<rect x="163.32" y="95.52" width="6.37" height="2.60" fill="#f5aa19"/>
<rect x="169.10" y="95.52" width="12.15" height="2.60" fill="#f58714"/>
<rect x="180.64" y="95.52" width="6.37" height="2.60" fill="#f0c81e"/>
<rect x="186.42" y="95.52" width="6.37" height="2.60" fill="#f5aa19"/>
<rect x="192.19" y="95.52" width="6.37" height="2.60" fill="#f0c81e"/>
<rect x="197.96" y="95.52" width="6.37" height="2.60" fill="#dadc28"/>
<rect x="203.74" y="95.52" width="6.37" height="2.60" fill="#f5aa19"/>
<rect x="209.51" y="95.52" width="12.15" height="2.60" fill="#f58714"/>
<rect x="221.06" y="95.52" width="6.37" height="2.60" fill="#f5aa19"/>
<rect x="226.83" y="95.52" width="6.37" height="2.60" fill="#f0c81e"/>
<rect x="232.61" y="95.52" width="12.15" height="2.60" fill="#afd42d"/>
<rect x="244.15" y="95.52" width="6.37" height="2.60" fill="#dadc28"/>
<rect x="249.93" y="95.52" width="5.77" height="2.60" fill="#afd42d"/>
<rect x="59.40" y="97.52" width="6.37" height="2.60" fill="#f0c81e"/>
<rect x="65.17" y="97.52" width="23.69" height="2.60" fill="#dadc28"/>
<rect x="88.27" y="97.52" width="17.92" height="2.60" fill="#f0c81e"/>
<rect x="105.59" y="97.52" width="12.15" height="2.60" fill="#f5aa19"/>
<rect x="117.14" y="97.52" width="6.37" height="2.60" fill="#f0c81e"/>
<rect x="122.91" y="97.52" width="23.69" height="2.60" fill="#f5aa19"/>
<rect x="146.00" y="97.52" width="6.37" height="2.60" fill="#f58714"/>
<rect x="151.78" y="97.52" width="12.15" height="2.60" fill="#f5aa19"/>
<rect x="163.32" y="97.52" width="6.37" height="2.60" fill="#f0c81e"/>
<rect x="169.10" y="97.52" width="12.15" height="2.60" fill="#f5aa19"/>
<rect x="180.64" y="97.52" width="23.69" height="2.60" fill="#afd42d"/>
<rect x="203.74" y="97.52" width="12.15" height="2.60" fill="#f0c81e"/>
<rect x="215.29" y="97.52" width="6.37" height="2.60" fill="#f5aa19"/>
<rect x="221.06" y="97.52" width="6.37" height="2.60" fill="#f0c81e"/>
<rect x="226.83" y="97.52" width="6.37" height="2.60" fill="#dadc28"/>
<rect x="232.61" y="97.52" width="6.37" height="2.60" fill="#afd42d"/>
<rect x="238.38" y="97.52" width="6.37" height="2.60" fill="#78c328"/>
<rect x="244.15" y="97.52" width="6.37" height="2.60" fill="#f0c81e"/>
<rect x="249.93" y="97.52" width="5.77" height="2.60" fill="#dadc28"/>
<rect x="59.40" y="99.53" width="12.15" height="2.60" fill="#f58714"/>
<rect x="70.95" y="99.53" width="23.69" height="2.60" fill="#f5aa19"/>
<rect x="94.04" y="99.53" width="17.92" height="2.60" fill="#f58714"/>
<rect x="111.36" y="99.53" width="6.37" height="2.60" fill="#f5aa19"/>
<rect x="117.14" y="99.53" width="17.92" height="2.60" fill="#f58714"/>
<rect x="134.46" y="99.53" width="12.15" height="2.60" fill="#f05f14"/>
<rect x="146.00" y="99.53" width="17.92" height="2.60" fill="#f58714"/>
<rect x="163.32" y="99.53" width="6.37" height="2.60" fill="#f5aa19"/>
<rect x="169.10" y="99.53" width="12.15" height="2.60" fill="#f58714"/>
<rect x="180.64" y="99.53" width="6.37" height="2.60" fill="#f0c81e"/>
<rect x="186.42" y="99.53" width="6.37" height="2.60" fill="#f5aa19"/>
<rect x="192.19" y="99.53" width="6.37" height="2.60" fill="#f0c81e"/>
<rect x="197.96" y="99.53" width="6.37" height="2.60" fill="#dadc28"/>
<rect x="203.74" y="99.53" width="6.37" height="2.60" fill="#f5aa19"/>
<rect x="209.51" y="99.53" width="12.15" height="2.60" fill="#f58714"/>
<rect x="221.06" y="99.53" width="6.37" height="2.60" fill="#f5aa19"/>
<rect x="226.83" y="99.53" width="6.37" height="2.60" fill="#f0c81e"/>
<rect x="232.61" y="99.53" width="12.15" height="2.60" fill="#afd42d"/>
<rect x="244.15" y="99.53" width="6.37" height="2.60" fill="#dadc28"/>
<rect x="249.93" y="99.53" width="5.77" height="2.60" fill="#afd42d"/>
<rect x="59.40" y="101.53" width="6.37" height="2.60" fill="#f0c81e"/>
<rect x="65.17" y="101.53" width="23.69" height="2.60" fill="#dadc28"/>
<rect x="88.27" y="101.53" width="17.92" height="2.60" fill="#f0c81e"/>
<rect x="105.59" y="101.53" width="12.15" height="2.60" fill="#f5aa19"/>
<rect x="117.14" y="101.53" width="6.37" height="2.60" fill="#f0c81e"/>
<rect x="122.91" y="101.53" width="23.69" height="2.60" fill="#f5aa19"/>
<rect x="146.00" y="101.53" width="6.37" height="2.60" fill="#f58714"/>
<rect x="151.78" y="101.53" width="12.15" height="2.60" fill="#f5aa19"/>
<rect x="163.32" y="101.53" width="6.37" height="2.60" fill="#f0c81e"/>
<rect x="169.10" y="101.53" width="12.15" height="2.60" fill="#f5aa19"/>
<rect x="180.64" y="101.53" width="23.69" height="2.60" fill="#dadc28"/>
<rect x="203.74" y="101.53" width="12.15" height="2.60" fill="#f0c81e"/>
<rect x="215.29" y="101.53" width="6.37" height="2.60" fill="#f5aa19"/>
<rect x="221.06" y="101.53" width="6.37" height="2.60" fill="#f0c81e"/>
<rect x="226.83" y="101.53" width="6.37" height="2.60" fill="#dadc28"/>
<rect x="232.61" y="101.53" width="6.37" height="2.60" fill="#afd42d"/>
<rect x="238.38" y="101.53" width="6.37" height="2.60" fill="#78c328"/>
<rect x="244.15" y="101.53" width="6.37" height="2.60" fill="#dadc28"/>
<rect x="249.93" y="101.53" width="5.77" height="2.60" fill="#78c328"/>
<rect x="59.40" y="103.53" width="23.69" height="2.60" fill="#f5aa19"/>
<rect x="82.49" y="103.53" width="23.69" height="2.60" fill="#f58714"/>
<rect x="105.59" y="103.53" width="29.47" height="2.60" fill="#f5aa19"/>
<rect x="134.46" y="103.53" width="6.37" height="2.60" fill="#f58714"/>
<rect x="140.23" y="103.53" width="6.37" height="2.60" fill="#f05f14"/>
<rect x="146.00" y="103.53" width="17.92" height="2.60" fill="#f58714"/>
<rect x="163.32" y="103.53" width="6.37" height="2.60" fill="#f5aa19"/>
<rect x="169.10" y="103.53" width="12.15" height="2.60" fill="#f58714"/>
<rect x="180.64" y="103.53" width="6.37" height="2.60" fill="#dadc28"/>
<rect x="186.42" y="103.53" width="6.37" height="2.60" fill="#f0c81e"/>
<rect x="192.19" y="103.53" width="6.37" height="2.60" fill="#f5aa19"/>
<rect x="197.96" y="103.53" width="6.37" height="2.60" fill="#f0c81e"/>
<rect x="203.74" y="103.53" width="6.37" height="2.60" fill="#f5aa19"/>
<rect x="209.51" y="103.53" width="12.15" height="2.60" fill="#f58714"/>
<rect x="221.06" y="103.53" width="6.37" height="2.60" fill="#f5aa19"/>
<rect x="226.83" y="103.53" width="6.37" height="2.60" fill="#f0c81e"/>
<rect x="232.61" y="103.53" width="12.15" height="2.60" fill="#afd42d"/>
<rect x="244.15" y="103.53" width="6.37" height="2.60" fill="#f0c81e"/>
<rect x="249.93" y="103.53" width="5.77" height="2.60" fill="#afd42d"/>
<rect x="59.40" y="105.53" width="75.66" height="2.60" fill="#f0c81e"/>
<rect x="134.46" y="105.53" width="29.47" height="2.60" fill="#f5aa19"/>
<rect x="163.32" y="105.53" width="6.37" height="2.60" fill="#f0c81e"/>
<rect x="169.10" y="105.53" width="12.15" height="2.60" fill="#f5aa19"/>
<rect x="180.64" y="105.53" width="6.37" height="2.60" fill="#afd42d"/>
<rect x="186.42" y="105.53" width="17.92" height="2.60" fill="#dadc28"/>
<rect x="203.74" y="105.53" width="23.69" height="2.60" fill="#f0c81e"/>
<rect x="226.83" y="105.53" width="6.37" height="2.60" fill="#dadc28"/>
<rect x="232.61" y="105.53" width="6.37" height="2.60" fill="#afd42d"/>
<rect x="238.38" y="105.53" width="6.37" height="2.60" fill="#78c328"/>
<rect x="244.15" y="105.53" width="11.55" height="2.60" fill="#dadc28"/>
<rect x="59.40" y="107.53" width="23.69" height="2.60" fill="#f5aa19"/>
<rect x="82.49" y="107.53" width="23.69" height="2.60" fill="#f58714"/>
<rect x="105.59" y="107.53" width="29.47" height="2.60" fill="#f5aa19"/>
<rect x="134.46" y="107.53" width="6.37" height="2.60" fill="#f58714"/>
<rect x="140.23" y="107.53" width="6.37" height="2.60" fill="#f05f14"/>
<rect x="146.00" y="107.53" width="17.92" height="2.60" fill="#f58714"/>
<rect x="163.32" y="107.53" width="17.92" height="2.60" fill="#f5aa19"/>
<rect x="180.64" y="107.53" width="6.37" height="2.60" fill="#dadc28"/>
<rect x="186.42" y="107.53" width="6.37" height="2.60" fill="#f0c81e"/>
<rect x="192.19" y="107.53" width="6.37" height="2.60" fill="#f5aa19"/>
<rect x="197.96" y="107.53" width="6.37" height="2.60" fill="#f0c81e"/>
<rect x="203.74" y="107.53" width="6.37" height="2.60" fill="#f5aa19"/>
<rect x="209.51" y="107.53" width="12.15" height="2.60" fill="#f58714"/>
<rect x="221.06" y="107.53" width="6.37" height="2.60" fill="#f5aa19"/>
<rect x="226.83" y="107.53" width="6.37" height="2.60" fill="#f0c81e"/>
<rect x="232.61" y="107.53" width="12.15" height="2.60" fill="#afd42d"/>
<rect x="244.15" y="107.53" width="6.37" height="2.60" fill="#dadc28"/>
<rect x="249.93" y="107.53" width="5.77" height="2.60" fill="#78c328"/>
<rect x="59.40" y="109.53" width="75.66" height="2.60" fill="#f0c81e"/>
<rect x="134.46" y="109.53" width="29.47" height="2.60" fill="#f5aa19"/>
<rect x="163.32" y="109.53" width="17.92" height="2.60" fill="#f0c81e"/>
<rect x="180.64" y="109.53" width="6.37" height="2.60" fill="#afd42d"/>
<rect x="186.42" y="109.53" width="17.92" height="2.60" fill="#dadc28"/>
<rect x="203.74" y="109.53" width="23.69" height="2.60" fill="#f0c81e"/>
<rect x="226.83" y="109.53" width="6.37" height="2.60" fill="#dadc28"/>
<rect x="232.61" y="109.53" width="6.37" height="2.60" fill="#afd42d"/>
<rect x="238.38" y="109.53" width="6.37" height="2.60" fill="#78c328"/>
<rect x="244.15" y="109.53" width="6.37" height="2.60" fill="#f0c81e"/>
<rect x="249.93" y="109.53" width="5.77" height="2.60" fill="#78c328"/>
<rect x="59.40" y="111.53" width="12.15" height="2.60" fill="#f58714"/>
<rect x="70.95" y="111.53" width="23.69" height="2.60" fill="#f5aa19"/>
<rect x="94.04" y="111.53" width="23.69" height="2.60" fill="#f58714"/>
<rect x="117.14" y="111.53" width="17.92" height="2.60" fill="#f5aa19"/>
<rect x="134.46" y="111.53" width="29.47" height="2.60" fill="#f58714"/>
<rect x="163.32" y="111.53" width="6.37" height="2.60" fill="#f5aa19"/>
<rect x="169.10" y="111.53" width="12.15" height="2.60" fill="#f58714"/>
<rect x="180.64" y="111.53" width="6.37" height="2.60" fill="#f0c81e"/>
<rect x="186.42" y="111.53" width="6.37" height="2.60" fill="#f5aa19"/>
<rect x="192.19" y="111.53" width="12.15" height="2.60" fill="#f0c81e"/>
<rect x="203.74" y="111.53" width="6.37" height="2.60" fill="#f5aa19"/>
<rect x="209.51" y="111.53" width="12.15" height="2.60" fill="#f58714"/>
<rect x="221.06" y="111.53" width="6.37" height="2.60" fill="#f5aa19"/>
<rect x="226.83" y="111.53" width="6.37" height="2.60" fill="#f0c81e"/>
<rect x="232.61" y="111.53" width="12.15" height="2.60" fill="#afd42d"/>
<rect x="244.15" y="111.53" width="6.37" height="2.60" fill="#dadc28"/>
<rect x="249.93" y="111.53" width="5.77" height="2.60" fill="#afd42d"/>
<rect x="59.40" y="113.53" width="23.69" height="2.60" fill="#f5aa19"/>
<rect x="82.49" y="113.53" width="23.69" height="2.60" fill="#f0c81e"/>
<rect x="105.59" y="113.53" width="58.34" height="2.60" fill="#f5aa19"/>
<rect x="163.32" y="113.53" width="6.37" height="2.60" fill="#f0c81e"/>
<rect x="169.10" y="113.53" width="12.15" height="2.60" fill="#f5aa19"/>
<rect x="180.64" y="113.53" width="6.37" height="2.60" fill="#dadc28"/>
<rect x="186.42" y="113.53" width="6.37" height="2.60" fill="#afd42d"/>
<rect x="192.19" y="113.53" width="12.15" height="2.60" fill="#dadc28"/>
<rect x="203.74" y="113.53" width="23.69" height="2.60" fill="#f0c81e"/>
<rect x="226.83" y="113.53" width="6.37" height="2.60" fill="#dadc28"/>
<rect x="232.61" y="113.53" width="12.15" height="2.60" fill="#afd42d"/>
<rect x="244.15" y="113.53" width="11.55" height="2.60" fill="#dadc28"/>
<rect x="59.40" y="115.53" width="12.15" height="2.60" fill="#f58714"/>
<rect x="70.95" y="115.53" width="23.69" height="2.60" fill="#f5aa19"/>
<rect x="94.04" y="115.53" width="23.69" height="2.60" fill="#f58714"/>
<rect x="117.14" y="115.53" width="17.92" height="2.60" fill="#f5aa19"/>
<rect x="134.46" y="115.53" width="29.47" height="2.60" fill="#f58714"/>
<rect x="163.32" y="115.53" width="17.92" height="2.60" fill="#f5aa19"/>
<rect x="180.64" y="115.53" width="6.37" height="2.60" fill="#f0c81e"/>
<rect x="186.42" y="115.53" width="6.37" height="2.60" fill="#f5aa19"/>
<rect x="192.19" y="115.53" width="12.15" height="2.60" fill="#f0c81e"/>
<rect x="203.74" y="115.53" width="6.37" height="2.60" fill="#f5aa19"/>
<rect x="209.51" y="115.53" width="12.15" height="2.60" fill="#f58714"/>
<rect x="221.06" y="115.53" width="6.37" height="2.60" fill="#f5aa19"/>
<rect x="226.83" y="115.53" width="6.37" height="2.60" fill="#f0c81e"/>
<rect x="232.61" y="115.53" width="12.15" height="2.60" fill="#afd42d"/>
<rect x="244.15" y="115.53" width="6.37" height="2.60" fill="#f0c81e"/>
<rect x="249.93" y="115.53" width="5.77" height="2.60" fill="#afd42d"/>
<rect x="59.40" y="117.54" width="23.69" height="2.60" fill="#f5aa19"/>
<rect x="82.49" y="117.54" width="23.69" height="2.60" fill="#f0c81e"/>
<rect x="105.59" y="117.54" width="58.34" height="2.60" fill="#f5aa19"/>
<rect x="163.32" y="117.54" width="17.92" height="2.60" fill="#f0c81e"/>
<rect x="180.64" y="117.54" width="6.37" height="2.60" fill="#dadc28"/>
<rect x="186.42" y="117.54" width="6.37" height="2.60" fill="#afd42d"/>
<rect x="192.19" y="117.54" width="12.15" height="2.60" fill="#dadc28"/>
<rect x="203.74" y="117.54" width="23.69" height="2.60" fill="#f0c81e"/>
<rect x="226.83" y="117.54" width="6.37" height="2.60" fill="#dadc28"/>
<rect x="232.61" y="117.54" width="12.15" height="2.60" fill="#afd42d"/>
<rect x="244.15" y="117.54" width="6.37" height="2.60" fill="#dadc28"/>
<rect x="249.93" y="117.54" width="5.77" height="2.60" fill="#afd42d"/>
<rect x="59.40" y="119.54" width="75.66" height="2.60" fill="#dadc28"/>
<rect x="134.46" y="119.54" width="46.79" height="2.60" fill="#f0c81e"/>
<rect x="180.64" y="119.54" width="52.56" height="2.60" fill="#dadc28"/>
<rect x="232.61" y="119.54" width="12.15" height="2.60" fill="#afd42d"/>
<rect x="244.15" y="119.54" width="11.55" height="2.60" fill="#dadc28"/>
<rect x="59.40" y="121.54" width="75.66" height="2.60" fill="#dadc28"/>
<rect x="134.46" y="121.54" width="35.24" height="2.60" fill="#f0c81e"/>
<rect x="169.10" y="121.54" width="64.11" height="2.60" fill="#dadc28"/>
<rect x="232.61" y="121.54" width="12.15" height="2.60" fill="#afd42d"/>
<rect x="244.15" y="121.54" width="6.37" height="2.60" fill="#f0c81e"/>
<rect x="249.93" y="121.54" width="5.77" height="2.60" fill="#afd42d"/>
<rect x="59.40" y="123.54" width="6.37" height="2.60" fill="#afd42d"/>
<rect x="65.17" y="123.54" width="6.37" height="2.60" fill="#dadc28"/>
<rect x="70.95" y="123.54" width="12.15" height="2.60" fill="#f0c81e"/>
<rect x="82.49" y="123.54" width="6.37" height="2.60" fill="#dadc28"/>
<rect x="88.27" y="123.54" width="12.15" height="2.60" fill="#f0c81e"/>
<rect x="99.81" y="123.54" width="6.37" height="2.60" fill="#dadc28"/>
<rect x="105.59" y="123.54" width="12.15" height="2.60" fill="#f0c81e"/>
<rect x="117.14" y="123.54" width="6.37" height="2.60" fill="#dadc28"/>
<rect x="122.91" y="123.54" width="12.15" height="2.60" fill="#f0c81e"/>
<rect x="134.46" y="123.54" width="46.79" height="2.60" fill="#3caa1e"/>
<rect x="180.64" y="123.54" width="46.79" height="2.60" fill="#f5aa19"/>
<rect x="226.83" y="123.54" width="6.37" height="2.60" fill="#f0c81e"/>
<rect x="232.61" y="123.54" width="23.09" height="2.60" fill="#f5aa19"/>
<rect x="59.40" y="125.54" width="6.37" height="2.60" fill="#afd42d"/>
<rect x="65.17" y="125.54" width="6.37" height="2.60" fill="#dadc28"/>
<rect x="70.95" y="125.54" width="12.15" height="2.60" fill="#f0c81e"/>
<rect x="82.49" y="125.54" width="6.37" height="2.60" fill="#dadc28"/>
<rect x="88.27" y="125.54" width="12.15" height="2.60" fill="#f0c81e"/>
<rect x="99.81" y="125.54" width="6.37" height="2.60" fill="#dadc28"/>
<rect x="105.59" y="125.54" width="12.15" height="2.60" fill="#f0c81e"/>
<rect x="117.14" y="125.54" width="6.37" height="2.60" fill="#dadc28"/>
<rect x="122.91" y="125.54" width="12.15" height="2.60" fill="#f0c81e"/>
<rect x="134.46" y="125.54" width="46.79" height="2.60" fill="#3caa1e"/>
<rect x="180.64" y="125.54" width="46.79" height="2.60" fill="#f5aa19"/>
<rect x="226.83" y="125.54" width="6.37" height="2.60" fill="#f0c81e"/>
<rect x="232.61" y="125.54" width="12.15" height="2.60" fill="#f5aa19"/>
<rect x="244.15" y="125.54" width="11.55" height="2.60" fill="#f58714"/>
<rect x="59.40" y="127.54" width="6.37" height="2.60" fill="#afd42d"/>
<rect x="65.17" y="127.54" width="6.37" height="2.60" fill="#dadc28"/>
<rect x="70.95" y="127.54" width="29.47" height="2.60" fill="#f58714"/>
<rect x="99.81" y="127.54" width="17.92" height="2.60" fill="#f0c81e"/>
<rect x="117.14" y="127.54" width="6.37" height="2.60" fill="#f05f14"/>
<rect x="122.91" y="127.54" width="6.37" height="2.60" fill="#f0c81e"/>
<rect x="128.68" y="127.54" width="6.37" height="2.60" fill="#f05f14"/>
<rect x="134.46" y="127.54" width="46.79" height="2.60" fill="#199619"/>
<rect x="180.64" y="127.54" width="12.15" height="2.60" fill="#f58714"/>
<rect x="192.19" y="127.54" width="35.24" height="2.60" fill="#f05f14"/>
<rect x="226.83" y="127.54" width="6.37" height="2.60" fill="#f0c81e"/>
<rect x="232.61" y="127.54" width="12.15" height="2.60" fill="#f58714"/>
<rect x="244.15" y="127.54" width="11.55" height="2.60" fill="#f05f14"/>
<rect x="59.40" y="129.54" width="6.37" height="2.60" fill="#afd42d"/>
<rect x="65.17" y="129.54" width="6.37" height="2.60" fill="#dadc28"/>
<rect x="70.95" y="129.54" width="29.47" height="2.60" fill="#f58714"/>
<rect x="99.81" y="129.54" width="17.92" height="2.60" fill="#f0c81e"/>
<rect x="117.14" y="129.54" width="6.37" height="2.60" fill="#f05f14"/>
<rect x="122.91" y="129.54" width="6.37" height="2.60" fill="#f0c81e"/>
<rect x="128.68" y="129.54" width="6.37" height="2.60" fill="#f05f14"/>
<rect x="134.46" y="129.54" width="35.24" height="2.60" fill="#199619"/>
<rect x="169.10" y="129.54" width="12.15" height="2.60" fill="#3caa1e"/>
<rect x="180.64" y="129.54" width="12.15" height="2.60" fill="#f58714"/>
<rect x="192.19" y="129.54" width="35.24" height="2.60" fill="#f05f14"/>
<rect x="226.83" y="129.54" width="6.37" height="2.60" fill="#f0c81e"/>
<rect x="232.61" y="129.54" width="12.15" height="2.60" fill="#f58714"/>
<rect x="244.15" y="129.54" width="11.55" height="2.60" fill="#e62819"/>
<rect x="59.40" y="131.54" width="75.66" height="2.60" fill="#afd42d"/>
<rect x="134.46" y="131.54" width="35.24" height="2.60" fill="#199619"/>
<rect x="169.10" y="131.54" width="58.34" height="2.60" fill="#3caa1e"/>
<rect x="226.83" y="131.54" width="28.87" height="2.60" fill="#afd42d"/>
<rect x="59.40" y="133.54" width="75.66" height="2.60" fill="#afd42d"/>
<rect x="134.46" y="133.54" width="35.24" height="2.60" fill="#199619"/>
<rect x="169.10" y="133.54" width="58.34" height="2.60" fill="#3caa1e"/>
<rect x="226.83" y="133.54" width="28.87" height="2.60" fill="#afd42d"/>
<rect x="59.40" y="135.55" width="75.66" height="2.60" fill="#3caa1e"/>
<rect x="134.46" y="135.55" width="35.24" height="2.60" fill="#199619"/>
<rect x="169.10" y="135.55" width="58.34" height="2.60" fill="#3caa1e"/>
<rect x="226.83" y="135.55" width="12.15" height="2.60" fill="#78c328"/>
<rect x="238.38" y="135.55" width="6.37" height="2.60" fill="#afd42d"/>
<rect x="244.15" y="135.55" width="11.55" height="2.60" fill="#78c328"/>
<rect x="59.40" y="137.55" width="75.66" height="2.60" fill="#3caa1e"/>
<rect x="134.46" y="137.55" width="35.24" height="2.60" fill="#199619"/>
<rect x="169.10" y="137.55" width="58.34" height="2.60" fill="#3caa1e"/>
<rect x="226.83" y="137.55" width="12.15" height="2.60" fill="#78c328"/>
<rect x="238.38" y="137.55" width="6.37" height="2.60" fill="#afd42d"/>
<rect x="244.15" y="137.55" width="11.55" height="2.60" fill="#78c328"/>
<rect x="59.40" y="139.55" width="75.66" height="2.60" fill="#78c328"/>
<rect x="134.46" y="139.55" width="46.79" height="2.60" fill="#3caa1e"/>
<rect x="180.64" y="139.55" width="46.79" height="2.60" fill="#78c328"/>
<rect x="226.83" y="139.55" width="28.87" height="2.60" fill="#afd42d"/>
<rect x="59.40" y="141.55" width="75.66" height="2.60" fill="#afd42d"/>
<rect x="134.46" y="141.55" width="92.98" height="2.60" fill="#78c328"/>
<rect x="226.83" y="141.55" width="17.92" height="2.60" fill="#f5aa19"/>
<rect x="244.15" y="141.55" width="11.55" height="2.60" fill="#afd42d"/>
<rect x="59.40" y="143.55" width="75.66" height="2.60" fill="#3caa1e"/>
<rect x="134.46" y="143.55" width="35.24" height="2.60" fill="#199619"/>
<rect x="169.10" y="143.55" width="58.34" height="2.60" fill="#3caa1e"/>
<rect x="226.83" y="143.55" width="6.37" height="2.60" fill="#78c328"/>
<rect x="232.61" y="143.55" width="12.15" height="2.60" fill="#afd42d"/>
<rect x="244.15" y="143.55" width="11.55" height="2.60" fill="#78c328"/>
<rect x="59.40" y="145.55" width="75.66" height="2.60" fill="#3caa1e"/>
<rect x="134.46" y="145.55" width="35.24" height="2.60" fill="#199619"/>
<rect x="169.10" y="145.55" width="58.34" height="2.60" fill="#3caa1e"/>
<rect x="226.83" y="145.55" width="6.37" height="2.60" fill="#78c328"/>
<rect x="232.61" y="145.55" width="12.15" height="2.60" fill="#afd42d"/>
<rect x="244.15" y="145.55" width="11.55" height="2.60" fill="#78c328"/>
<rect x="59.40" y="147.55" width="75.66" height="2.60" fill="#78c328"/>
<rect x="134.46" y="147.55" width="35.24" height="2.60" fill="#3caa1e"/>
<rect x="169.10" y="147.55" width="58.34" height="2.60" fill="#78c328"/>
<rect x="226.83" y="147.55" width="28.87" height="2.60" fill="#afd42d"/>
<rect x="59.40" y="149.55" width="75.66" height="2.60" fill="#78c328"/>
<rect x="134.46" y="149.55" width="35.24" height="2.60" fill="#3caa1e"/>
<rect x="169.10" y="149.55" width="58.34" height="2.60" fill="#78c328"/>
<rect x="226.83" y="149.55" width="28.87" height="2.60" fill="#afd42d"/>
<rect x="59.40" y="151.55" width="110.30" height="2.60" fill="#afd42d"/>
<rect x="169.10" y="151.55" width="41.01" height="2.60" fill="#dadc28"/>
<rect x="209.51" y="151.55" width="6.37" height="2.60" fill="#f0c81e"/>
<rect x="215.29" y="151.55" width="17.92" height="2.60" fill="#dadc28"/>
<rect x="232.61" y="151.55" width="12.15" height="2.60" fill="#f05f14"/>
<rect x="244.15" y="151.55" width="11.55" height="2.60" fill="#dadc28"/>
<rect x="59.40" y="153.56" width="75.66" height="2.60" fill="#dadc28"/>
<rect x="134.46" y="153.56" width="35.24" height="2.60" fill="#afd42d"/>
<rect x="169.10" y="153.56" width="35.24" height="2.60" fill="#f0c81e"/>
<rect x="203.74" y="153.56" width="6.37" height="2.60" fill="#dadc28"/>
<rect x="209.51" y="153.56" width="6.37" height="2.60" fill="#f0c81e"/>
<rect x="215.29" y="153.56" width="17.92" height="2.60" fill="#dadc28"/>
<rect x="232.61" y="153.56" width="12.15" height="2.60" fill="#f05f14"/>
<rect x="244.15" y="153.56" width="11.55" height="2.60" fill="#dadc28"/>
<rect x="59.40" y="155.56" width="6.37" height="2.60" fill="#f05f14"/>
<rect x="65.17" y="155.56" width="6.37" height="2.60" fill="#dadc28"/>
<rect x="70.95" y="155.56" width="6.37" height="2.60" fill="#f0c81e"/>
<rect x="76.72" y="155.56" width="23.69" height="2.60" fill="#f5aa19"/>
<rect x="99.81" y="155.56" width="6.37" height="2.60" fill="#f0c81e"/>
<rect x="105.59" y="155.56" width="17.92" height="2.60" fill="#dadc28"/>
<rect x="122.91" y="155.56" width="6.37" height="2.60" fill="#f0c81e"/>
<rect x="128.68" y="155.56" width="6.37" height="2.60" fill="#dadc28"/>
<rect x="134.46" y="155.56" width="35.24" height="2.60" fill="#f0c81e"/>
<rect x="169.10" y="155.56" width="12.15" height="2.60" fill="#f5aa19"/>
<rect x="180.64" y="155.56" width="46.79" height="2.60" fill="#f0c81e"/>
<rect x="226.83" y="155.56" width="6.37" height="2.60" fill="#f05f14"/>
<rect x="232.61" y="155.56" width="23.09" height="2.60" fill="#e62819"/>
<rect x="59.40" y="157.56" width="6.37" height="2.60" fill="#f05f14"/>
<rect x="65.17" y="157.56" width="6.37" height="2.60" fill="#dadc28"/>
<rect x="70.95" y="157.56" width="6.37" height="2.60" fill="#f0c81e"/>
<rect x="76.72" y="157.56" width="23.69" height="2.60" fill="#f5aa19"/>
<rect x="99.81" y="157.56" width="6.37" height="2.60" fill="#f0c81e"/>
<rect x="105.59" y="157.56" width="17.92" height="2.60" fill="#dadc28"/>
<rect x="122.91" y="157.56" width="6.37" height="2.60" fill="#f0c81e"/>
<rect x="128.68" y="157.56" width="6.37" height="2.60" fill="#dadc28"/>
<rect x="134.46" y="157.56" width="92.98" height="2.60" fill="#f5aa19"/>
<rect x="226.83" y="157.56" width="6.37" height="2.60" fill="#f05f14"/>
<rect x="232.61" y="157.56" width="12.15" height="2.60" fill="#e62819"/>
<rect x="244.15" y="157.56" width="11.55" height="2.60" fill="#f05f14"/>
<rect x="59.40" y="159.56" width="75.66" height="2.60" fill="#afd42d"/>
<rect x="134.46" y="159.56" width="121.24" height="2.60" fill="#dadc28"/>
<rect x="59.40" y="161.56" width="75.66" height="2.60" fill="#afd42d"/>
<rect x="134.46" y="161.56" width="121.24" height="2.60" fill="#dadc28"/>
<rect x="59.40" y="163.56" width="75.66" height="2.60" fill="#3caa1e"/>
<rect x="134.46" y="163.56" width="35.24" height="2.60" fill="#199619"/>
<rect x="169.10" y="163.56" width="52.56" height="2.60" fill="#3caa1e"/>
<rect x="221.06" y="163.56" width="6.37" height="2.60" fill="#f58714"/>
<rect x="226.83" y="163.56" width="28.87" height="2.60" fill="#afd42d"/>
<rect x="59.40" y="165.56" width="75.66" height="2.60" fill="#3caa1e"/>
<rect x="134.46" y="165.56" width="35.24" height="2.60" fill="#199619"/>
<rect x="169.10" y="165.56" width="52.56" height="2.60" fill="#3caa1e"/>
<rect x="221.06" y="165.56" width="6.37" height="2.60" fill="#f58714"/>
<rect x="226.83" y="165.56" width="28.87" height="2.60" fill="#afd42d"/>
<rect x="59.40" y="167.56" width="75.66" height="2.60" fill="#afd42d"/>
<rect x="134.46" y="167.56" width="35.24" height="2.60" fill="#78c328"/>
<rect x="169.10" y="167.56" width="75.66" height="2.60" fill="#afd42d"/>
<rect x="244.15" y="167.56" width="11.55" height="2.60" fill="#dadc28"/>
<rect x="59.40" y="169.56" width="75.66" height="2.60" fill="#dadc28"/>
<rect x="134.46" y="169.56" width="92.98" height="2.60" fill="#afd42d"/>
<rect x="226.83" y="169.56" width="17.92" height="2.60" fill="#dadc28"/>
<rect x="244.15" y="169.56" width="11.55" height="2.60" fill="#afd42d"/>
<rect x="59.40" y="171.57" width="168.03" height="2.60" fill="#78c328"/>
<rect x="226.83" y="171.57" width="28.87" height="2.60" fill="#afd42d"/>
<rect x="59.40" y="173.57" width="168.03" height="2.60" fill="#78c328"/>
<rect x="226.83" y="173.57" width="28.87" height="2.60" fill="#afd42d"/>
<rect x="59.40" y="175.57" width="196.30" height="2.60" fill="#afd42d"/>
<rect x="59.40" y="177.57" width="196.30" height="2.60" fill="#afd42d"/>
<rect x="59.40" y="179.57" width="121.84" height="2.60" fill="#dadc28"/>
<rect x="180.64" y="179.57" width="12.15" height="2.60" fill="#f5aa19"/>
<rect x="192.19" y="179.57" width="6.37" height="2.60" fill="#f58714"/>
<rect x="197.96" y="179.57" width="6.37" height="2.60" fill="#f5aa19"/>
<rect x="203.74" y="179.57" width="51.96" height="2.60" fill="#dadc28"/>
<rect x="59.40" y="181.57" width="121.84" height="2.60" fill="#f0c81e"/>
<rect x="180.64" y="181.57" width="12.15" height="2.60" fill="#f5aa19"/>
<rect x="192.19" y="181.57" width="6.37" height="2.60" fill="#f58714"/>
<rect x="197.96" y="181.57" width="6.37" height="2.60" fill="#f5aa19"/>
<rect x="203.74" y="181.57" width="23.69" height="2.60" fill="#f0c81e"/>
<rect x="226.83" y="181.57" width="28.87" height="2.60" fill="#dadc28"/>
<rect x="59.40" y="183.57" width="12.15" height="2.60" fill="#f0c81e"/>
<rect x="70.95" y="183.57" width="23.69" height="2.60" fill="#f58714"/>
<rect x="94.04" y="183.57" width="133.39" height="2.60" fill="#f0c81e"/>
<rect x="226.83" y="183.57" width="28.87" height="2.60" fill="#dadc28"/>
<rect x="59.40" y="185.57" width="12.15" height="2.60" fill="#f0c81e"/>
<rect x="70.95" y="185.57" width="23.69" height="2.60" fill="#f58714"/>
<rect x="94.04" y="185.57" width="41.01" height="2.60" fill="#f0c81e"/>
<rect x="134.46" y="185.57" width="35.24" height="2.60" fill="#dadc28"/>
<rect x="169.10" y="185.57" width="58.34" height="2.60" fill="#f5aa19"/>
<rect x="226.83" y="185.57" width="28.87" height="2.60" fill="#dadc28"/>
<rect x="59.40" y="187.57" width="6.37" height="2.60" fill="#f0c81e"/>
<rect x="65.17" y="187.57" width="6.37" height="2.60" fill="#f5aa19"/>
<rect x="70.95" y="187.57" width="17.92" height="2.60" fill="#f58714"/>
<rect x="88.27" y="187.57" width="6.37" height="2.60" fill="#f5aa19"/>
<rect x="94.04" y="187.57" width="17.92" height="2.60" fill="#f0c81e"/>
<rect x="111.36" y="187.57" width="6.37" height="2.60" fill="#f5aa19"/>
<rect x="117.14" y="187.57" width="6.37" height="2.60" fill="#f0c81e"/>
<rect x="122.91" y="187.57" width="6.37" height="2.60" fill="#f5aa19"/>
<rect x="128.68" y="187.57" width="12.15" height="2.60" fill="#f0c81e"/>
<rect x="140.23" y="187.57" width="6.37" height="2.60" fill="#f5aa19"/>
<rect x="146.00" y="187.57" width="6.37" height="2.60" fill="#f0c81e"/>
<rect x="151.78" y="187.57" width="6.37" height="2.60" fill="#f5aa19"/>
<rect x="157.55" y="187.57" width="6.37" height="2.60" fill="#f0c81e"/>
<rect x="163.32" y="187.57" width="64.11" height="2.60" fill="#f58714"/>
<rect x="226.83" y="187.57" width="28.87" height="2.60" fill="#dadc28"/>
<rect x="59.40" y="189.58" width="6.37" height="2.60" fill="#f0c81e"/>
<rect x="65.17" y="189.58" width="6.37" height="2.60" fill="#f5aa19"/>
<rect x="70.95" y="189.58" width="17.92" height="2.60" fill="#f58714"/>
<rect x="88.27" y="189.58" width="6.37" height="2.60" fill="#f5aa19"/>
<rect x="94.04" y="189.58" width="17.92" height="2.60" fill="#f0c81e"/>
<rect x="111.36" y="189.58" width="6.37" height="2.60" fill="#f5aa19"/>
<rect x="117.14" y="189.58" width="6.37" height="2.60" fill="#f0c81e"/>
<rect x="122.91" y="189.58" width="6.37" height="2.60" fill="#f5aa19"/>
<rect x="128.68" y="189.58" width="12.15" height="2.60" fill="#f0c81e"/>
<rect x="140.23" y="189.58" width="6.37" height="2.60" fill="#f5aa19"/>
<rect x="146.00" y="189.58" width="6.37" height="2.60" fill="#f0c81e"/>
<rect x="151.78" y="189.58" width="6.37" height="2.60" fill="#f5aa19"/>
<rect x="157.55" y="189.58" width="6.37" height="2.60" fill="#f0c81e"/>
<rect x="163.32" y="189.58" width="64.11" height="2.60" fill="#f58714"/>
<rect x="226.83" y="189.58" width="28.87" height="2.60" fill="#dadc28"/>
<rect x="59.40" y="191.58" width="127.62" height="2.60" fill="#dadc28"/>
<rect x="186.42" y="191.58" width="6.37" height="2.60" fill="#afd42d"/>
<rect x="192.19" y="191.58" width="6.37" height="2.60" fill="#dadc28"/>
<rect x="197.96" y="191.58" width="6.37" height="2.60" fill="#f0c81e"/>
<rect x="203.74" y="191.58" width="6.37" height="2.60" fill="#dadc28"/>
<rect x="209.51" y="191.58" width="6.37" height="2.60" fill="#afd42d"/>
<rect x="215.29" y="191.58" width="6.37" height="2.60" fill="#dadc28"/>
<rect x="221.06" y="191.58" width="6.37" height="2.60" fill="#f58714"/>
<rect x="226.83" y="191.58" width="28.87" height="2.60" fill="#dadc28"/>
<rect x="59.40" y="193.58" width="121.84" height="2.60" fill="#afd42d"/>
<rect x="180.64" y="193.58" width="6.37" height="2.60" fill="#dadc28"/>
<rect x="186.42" y="193.58" width="6.37" height="2.60" fill="#afd42d"/>
<rect x="192.19" y="193.58" width="6.37" height="2.60" fill="#dadc28"/>
<rect x="197.96" y="193.58" width="6.37" height="2.60" fill="#f0c81e"/>
<rect x="203.74" y="193.58" width="6.37" height="2.60" fill="#dadc28"/>
<rect x="209.51" y="193.58" width="6.37" height="2.60" fill="#afd42d"/>
<rect x="215.29" y="193.58" width="6.37" height="2.60" fill="#dadc28"/>
<rect x="221.06" y="193.58" width="6.37" height="2.60" fill="#f58714"/>
<rect x="226.83" y="193.58" width="17.92" height="2.60" fill="#dadc28"/>
<rect x="244.15" y="193.58" width="11.55" height="2.60" fill="#f58714"/>
<rect x="59.40" y="195.58" width="168.03" height="2.60" fill="#3caa1e"/>
<rect x="226.83" y="195.58" width="28.87" height="2.60" fill="#afd42d"/>
<rect x="59.40" y="197.58" width="196.30" height="2.60" fill="#afd42d"/>
<rect x="59.40" y="199.58" width="75.66" height="2.60" fill="#3caa1e"/>
<rect x="134.46" y="199.58" width="17.92" height="2.60" fill="#f58714"/>
<rect x="151.78" y="199.58" width="17.92" height="2.60" fill="#3caa1e"/>
<rect x="169.10" y="199.58" width="12.15" height="2.60" fill="#f5aa19"/>
<rect x="180.64" y="199.58" width="17.92" height="2.60" fill="#dadc28"/>
<rect x="197.96" y="199.58" width="29.47" height="2.60" fill="#78c328"/>
<rect x="226.83" y="199.58" width="6.37" height="2.60" fill="#dadc28"/>
<rect x="232.61" y="199.58" width="12.15" height="2.60" fill="#f5aa19"/>
<rect x="244.15" y="199.58" width="11.55" height="2.60" fill="#afd42d"/>
<rect x="59.40" y="201.58" width="75.66" height="2.60" fill="#afd42d"/>
<rect x="134.46" y="201.58" width="17.92" height="2.60" fill="#f58714"/>
<rect x="151.78" y="201.58" width="17.92" height="2.60" fill="#afd42d"/>
<rect x="169.10" y="201.58" width="12.15" height="2.60" fill="#f5aa19"/>
<rect x="180.64" y="201.58" width="17.92" height="2.60" fill="#dadc28"/>
<rect x="197.96" y="201.58" width="29.47" height="2.60" fill="#78c328"/>
<rect x="226.83" y="201.58" width="6.37" height="2.60" fill="#dadc28"/>
<rect x="232.61" y="201.58" width="12.15" height="2.60" fill="#f5aa19"/>
<rect x="244.15" y="201.58" width="11.55" height="2.60" fill="#afd42d"/>
<rect x="59.40" y="203.58" width="58.34" height="2.60" fill="#afd42d"/>
<rect x="117.14" y="203.58" width="6.37" height="2.60" fill="#199619"/>
<rect x="122.91" y="203.58" width="23.69" height="2.60" fill="#afd42d"/>
<rect x="146.00" y="203.58" width="35.24" height="2.60" fill="#f5aa19"/>
<rect x="180.64" y="203.58" width="17.92" height="2.60" fill="#dadc28"/>
<rect x="197.96" y="203.58" width="29.47" height="2.60" fill="#3caa1e"/>
<rect x="226.83" y="203.58" width="6.37" height="2.60" fill="#dadc28"/>
<rect x="232.61" y="203.58" width="12.15" height="2.60" fill="#f5aa19"/>
<rect x="244.15" y="203.58" width="11.55" height="2.60" fill="#afd42d"/>
<rect x="59.40" y="205.59" width="58.34" height="2.60" fill="#afd42d"/>
<rect x="117.14" y="205.59" width="6.37" height="2.60" fill="#199619"/>
<rect x="122.91" y="205.59" width="23.69" height="2.60" fill="#afd42d"/>
<rect x="146.00" y="205.59" width="35.24" height="2.60" fill="#f5aa19"/>
<rect x="180.64" y="205.59" width="17.92" height="2.60" fill="#dadc28"/>
<rect x="197.96" y="205.59" width="29.47" height="2.60" fill="#3caa1e"/>
<rect x="226.83" y="205.59" width="6.37" height="2.60" fill="#dadc28"/>
<rect x="232.61" y="205.59" width="12.15" height="2.60" fill="#f5aa19"/>
<rect x="244.15" y="205.59" width="11.55" height="2.60" fill="#afd42d"/>
<rect x="59.40" y="207.59" width="58.34" height="2.60" fill="#dadc28"/>
<rect x="117.14" y="207.59" width="35.24" height="2.60" fill="#f5aa19"/>
<rect x="151.78" y="207.59" width="103.92" height="2.60" fill="#dadc28"/>
<rect x="59.40" y="209.59" width="58.34" height="2.60" fill="#f0c81e"/>
<rect x="117.14" y="209.59" width="35.24" height="2.60" fill="#f58714"/>
<rect x="151.78" y="209.59" width="75.66" height="2.60" fill="#f0c81e"/>
<rect x="226.83" y="209.59" width="28.87" height="2.60" fill="#dadc28"/>
<rect x="59.40" y="211.59" width="110.30" height="2.60" fill="#f5aa19"/>
<rect x="169.10" y="211.59" width="23.69" height="2.60" fill="#f58714"/>
<rect x="192.19" y="211.59" width="35.24" height="2.60" fill="#f5aa19"/>
<rect x="226.83" y="211.59" width="6.37" height="2.60" fill="#dadc28"/>
<rect x="232.61" y="211.59" width="23.09" height="2.60" fill="#f05f14"/>
<rect x="59.40" y="213.59" width="133.39" height="2.60" fill="#f58714"/>
<rect x="192.19" y="213.59" width="12.15" height="2.60" fill="#f5aa19"/>
<rect x="203.74" y="213.59" width="23.69" height="2.60" fill="#f0c81e"/>
<rect x="226.83" y="213.59" width="6.37" height="2.60" fill="#dadc28"/>
<rect x="232.61" y="213.59" width="12.15" height="2.60" fill="#f05f14"/>
<rect x="244.15" y="213.59" width="11.55" height="2.60" fill="#dadc28"/>
<rect x="59.40" y="215.59" width="64.11" height="2.60" fill="#78c328"/>
<rect x="122.91" y="215.59" width="12.15" height="2.60" fill="#f58714"/>
<rect x="134.46" y="215.59" width="35.24" height="2.60" fill="#78c328"/>
<rect x="169.10" y="215.59" width="58.34" height="2.60" fill="#afd42d"/>
<rect x="226.83" y="215.59" width="6.37" height="2.60" fill="#dadc28"/>
<rect x="232.61" y="215.59" width="12.15" height="2.60" fill="#f5aa19"/>
<rect x="244.15" y="215.59" width="11.55" height="2.60" fill="#dadc28"/>
<rect x="59.40" y="217.59" width="64.11" height="2.60" fill="#afd42d"/>
<rect x="122.91" y="217.59" width="12.15" height="2.60" fill="#f58714"/>
<rect x="134.46" y="217.59" width="92.98" height="2.60" fill="#afd42d"/>
<rect x="226.83" y="217.59" width="6.37" height="2.60" fill="#dadc28"/>
<rect x="232.61" y="217.59" width="12.15" height="2.60" fill="#f5aa19"/>
<rect x="244.15" y="217.59" width="11.55" height="2.60" fill="#dadc28"/>
<rect x="59.40" y="219.59" width="110.30" height="2.60" fill="#3caa1e"/>
<rect x="169.10" y="219.59" width="17.92" height="2.60" fill="#afd42d"/>
<rect x="186.42" y="219.59" width="41.01" height="2.60" fill="#3caa1e"/>
<rect x="226.83" y="219.59" width="28.87" height="2.60" fill="#afd42d"/>
<rect x="59.40" y="221.59" width="110.30" height="2.60" fill="#78c328"/>
<rect x="169.10" y="221.59" width="17.92" height="2.60" fill="#afd42d"/>
<rect x="186.42" y="221.59" width="41.01" height="2.60" fill="#3caa1e"/>
<rect x="226.83" y="221.59" width="17.92" height="2.60" fill="#afd42d"/>
<rect x="244.15" y="221.59" width="11.55" height="2.60" fill="#f5aa19"/>
<rect x="59.40" y="223.60" width="75.66" height="2.60" fill="#dadc28"/>
<rect x="134.46" y="223.60" width="52.56" height="2.60" fill="#f0c81e"/>
<rect x="186.42" y="223.60" width="41.01" height="2.60" fill="#3caa1e"/>
<rect x="226.83" y="223.60" width="28.87" height="2.60" fill="#dadc28"/>
<rect x="59.40" y="225.60" width="121.84" height="2.60" fill="#f5aa19"/>
<rect x="180.64" y="225.60" width="46.79" height="2.60" fill="#f0c81e"/>
<rect x="226.83" y="225.60" width="28.87" height="2.60" fill="#dadc28"/>
<rect x="59.40" y="227.60" width="168.03" height="2.60" fill="#f05f14"/>
<rect x="226.83" y="227.60" width="28.87" height="2.60" fill="#f5aa19"/>
<rect x="59.40" y="229.60" width="168.03" height="2.00" fill="#f05f14"/>
<rect x="226.83" y="229.60" width="28.87" height="2.00" fill="#f5aa19"/></g>
<rect x="59.40" y="240.2" width="196.30" height="4.8" fill="#e2dc1e"/>
<rect x="111.36" y="240.2" width="5.77" height="4.8" fill="#e0201c"/>
<rect x="122.91" y="240.2" width="5.77" height="4.8" fill="#e0201c"/>
<rect x="203.74" y="240.2" width="23.09" height="4.8" fill="#e0201c"/>
<rect x="244.15" y="240.2" width="5.77" height="4.8" fill="#e0201c"/>
<text transform="translate(63.89,248) rotate(-90)" text-anchor="end" font-size="4.6" fill="#111" stroke="#333" stroke-width="0.12">ATL1 (LN)</text>
<text transform="translate(69.66,248) rotate(-90)" text-anchor="end" font-size="4.6" fill="#111" stroke="#333" stroke-width="0.12">ATL9 (LN)</text>
<text transform="translate(75.43,248) rotate(-90)" text-anchor="end" font-size="4.6" fill="#111" stroke="#333" stroke-width="0.12">ATL10 (LN)</text>
<text transform="translate(81.21,248) rotate(-90)" text-anchor="end" font-size="4.6" fill="#111" stroke="#333" stroke-width="0.12">ATL5 (LN)</text>
<text transform="translate(86.98,248) rotate(-90)" text-anchor="end" font-size="4.6" fill="#111" stroke="#333" stroke-width="0.12">ATL6 (LN)</text>
<text transform="translate(92.75,248) rotate(-90)" text-anchor="end" font-size="4.6" fill="#111" stroke="#333" stroke-width="0.12">PTCL u4 (LN)</text>
<text transform="translate(98.53,248) rotate(-90)" text-anchor="end" font-size="4.6" fill="#111" stroke="#333" stroke-width="0.12">ATL2 (LN)</text>
<text transform="translate(104.30,248) rotate(-90)" text-anchor="end" font-size="4.6" fill="#111" stroke="#333" stroke-width="0.12">PTCL u6 (LN)</text>
<text transform="translate(110.07,248) rotate(-90)" text-anchor="end" font-size="4.6" fill="#111" stroke="#333" stroke-width="0.12">PTCL u3 (LN)</text>
<text transform="translate(115.85,248) rotate(-90)" text-anchor="end" font-size="4.6" fill="#111" stroke="#333" stroke-width="0.12">GD-nHs6 (LN)</text>
<text transform="translate(121.62,248) rotate(-90)" text-anchor="end" font-size="4.6" fill="#111" stroke="#333" stroke-width="0.12">ATL8 (LN)</text>
<text transform="translate(127.40,248) rotate(-90)" text-anchor="end" font-size="4.6" fill="#111" stroke="#333" stroke-width="0.12">GD-nHs3 (Spleen)</text>
<text transform="translate(133.17,248) rotate(-90)" text-anchor="end" font-size="4.6" fill="#111" stroke="#333" stroke-width="0.12">PTCL u8 (Stomach)</text>
<text transform="translate(138.94,248) rotate(-90)" text-anchor="end" font-size="4.6" fill="#111" stroke="#333" stroke-width="0.12">ATL11 (LN)</text>
<text transform="translate(144.72,248) rotate(-90)" text-anchor="end" font-size="4.6" fill="#111" stroke="#333" stroke-width="0.12">ATL13 (LN)</text>
<text transform="translate(150.49,248) rotate(-90)" text-anchor="end" font-size="4.6" fill="#111" stroke="#333" stroke-width="0.12">ATL12 (LN)</text>
<text transform="translate(156.26,248) rotate(-90)" text-anchor="end" font-size="4.6" fill="#111" stroke="#333" stroke-width="0.12">ATL14 (LN)</text>
<text transform="translate(162.04,248) rotate(-90)" text-anchor="end" font-size="4.6" fill="#111" stroke="#333" stroke-width="0.12">ATL15 (LN)</text>
<text transform="translate(167.81,248) rotate(-90)" text-anchor="end" font-size="4.6" fill="#111" stroke="#333" stroke-width="0.12">PTCL u9 (Stomach)</text>
<text transform="translate(173.58,248) rotate(-90)" text-anchor="end" font-size="4.6" fill="#111" stroke="#333" stroke-width="0.12">PTCL u5 (Tonsil)</text>
<text transform="translate(179.36,248) rotate(-90)" text-anchor="end" font-size="4.6" fill="#111" stroke="#333" stroke-width="0.12">ATL7 (LN)</text>
<text transform="translate(185.13,248) rotate(-90)" text-anchor="end" font-size="4.6" fill="#111" stroke="#333" stroke-width="0.12">PTCL u1 (LN)</text>
<text transform="translate(190.90,248) rotate(-90)" text-anchor="end" font-size="4.6" fill="#111" stroke="#333" stroke-width="0.12">PTCL u11 (LN)</text>
<text transform="translate(196.68,248) rotate(-90)" text-anchor="end" font-size="4.6" fill="#111" stroke="#333" stroke-width="0.12">PTCL u7 (LN)</text>
<text transform="translate(202.45,248) rotate(-90)" text-anchor="end" font-size="4.6" fill="#111" stroke="#333" stroke-width="0.12">PTCL u10 (LN)</text>
<text transform="translate(208.22,248) rotate(-90)" text-anchor="end" font-size="4.6" fill="#111" stroke="#333" stroke-width="0.12">GD-Hs1 (Spleen)</text>
<text transform="translate(214.00,248) rotate(-90)" text-anchor="end" font-size="4.6" fill="#111" stroke="#333" stroke-width="0.12">GD-Hs3 (Liver)</text>
<text transform="translate(219.77,248) rotate(-90)" text-anchor="end" font-size="4.6" fill="#111" stroke="#333" stroke-width="0.12">GD-Hs2 (LN)</text>
<text transform="translate(225.55,248) rotate(-90)" text-anchor="end" font-size="4.6" fill="#111" stroke="#333" stroke-width="0.12">GD-Hs4 (Spleen)</text>
<text transform="translate(231.32,248) rotate(-90)" text-anchor="end" font-size="4.6" fill="#111" stroke="#333" stroke-width="0.12">PTCL u2 (LN)</text>
<text transform="translate(237.09,248) rotate(-90)" text-anchor="end" font-size="4.6" fill="#111" stroke="#333" stroke-width="0.12">ATL3 (LN)</text>
<text transform="translate(242.87,248) rotate(-90)" text-anchor="end" font-size="4.6" fill="#111" stroke="#333" stroke-width="0.12">ATL4 (LN)</text>
<text transform="translate(248.64,248) rotate(-90)" text-anchor="end" font-size="4.6" fill="#111" stroke="#333" stroke-width="0.12">GD-nHs7 (Thyroid)</text>
<text transform="translate(254.41,248) rotate(-90)" text-anchor="end" font-size="4.6" fill="#111" stroke="#333" stroke-width="0.12">PTCL Hs12 (Spleen)</text>
<line x1="305.79" y1="26.00" x2="305.79" y2="62.00" stroke="#f3edc0" stroke-width="0.60"/><line x1="311.37" y1="26.00" x2="311.37" y2="62.00" stroke="#f3edc0" stroke-width="0.60"/><line x1="316.96" y1="28.00" x2="316.96" y2="62.00" stroke="#f3edc0" stroke-width="0.60"/><line x1="322.54" y1="24.00" x2="322.54" y2="62.00" stroke="#f3edc0" stroke-width="0.60"/><line x1="328.12" y1="25.00" x2="328.12" y2="62.00" stroke="#f3edc0" stroke-width="0.60"/><line x1="333.70" y1="26.00" x2="333.70" y2="62.00" stroke="#f3edc0" stroke-width="0.60"/><line x1="339.29" y1="27.00" x2="339.29" y2="62.00" stroke="#f3edc0" stroke-width="0.60"/><line x1="344.87" y1="29.00" x2="344.87" y2="62.00" stroke="#f3edc0" stroke-width="0.60"/><line x1="350.45" y1="26.00" x2="350.45" y2="62.00" stroke="#f3edc0" stroke-width="0.60"/><line x1="356.03" y1="27.00" x2="356.03" y2="62.00" stroke="#f3edc0" stroke-width="0.60"/><line x1="361.61" y1="28.00" x2="361.61" y2="62.00" stroke="#f3edc0" stroke-width="0.60"/><line x1="367.20" y1="25.00" x2="367.20" y2="62.00" stroke="#f3edc0" stroke-width="0.60"/><line x1="372.78" y1="27.00" x2="372.78" y2="62.00" stroke="#f3edc0" stroke-width="0.60"/><line x1="378.36" y1="29.00" x2="378.36" y2="62.00" stroke="#f3edc0" stroke-width="0.60"/><line x1="383.94" y1="30.00" x2="383.94" y2="62.00" stroke="#f3edc0" stroke-width="0.60"/><line x1="389.53" y1="28.00" x2="389.53" y2="62.00" stroke="#f3edc0" stroke-width="0.60"/><line x1="395.11" y1="26.00" x2="395.11" y2="62.00" stroke="#f3edc0" stroke-width="0.60"/><line x1="400.69" y1="27.00" x2="400.69" y2="62.00" stroke="#f3edc0" stroke-width="0.60"/><line x1="406.27" y1="29.00" x2="406.27" y2="62.00" stroke="#f3edc0" stroke-width="0.60"/><line x1="411.86" y1="30.00" x2="411.86" y2="62.00" stroke="#f3edc0" stroke-width="0.60"/><line x1="417.44" y1="31.00" x2="417.44" y2="62.00" stroke="#f3edc0" stroke-width="0.60"/><line x1="423.02" y1="29.00" x2="423.02" y2="62.00" stroke="#f3edc0" stroke-width="0.60"/><line x1="428.60" y1="28.00" x2="428.60" y2="62.00" stroke="#f3edc0" stroke-width="0.60"/><line x1="434.19" y1="30.00" x2="434.19" y2="62.00" stroke="#f3edc0" stroke-width="0.60"/><line x1="439.77" y1="27.00" x2="439.77" y2="62.00" stroke="#f3edc0" stroke-width="0.60"/><line x1="445.35" y1="26.00" x2="445.35" y2="62.00" stroke="#f3edc0" stroke-width="0.60"/><line x1="450.93" y1="24.00" x2="450.93" y2="62.00" stroke="#cfc8cc" stroke-width="0.60"/><line x1="456.51" y1="24.00" x2="456.51" y2="62.00" stroke="#cfc8cc" stroke-width="0.60"/><line x1="462.10" y1="26.00" x2="462.10" y2="62.00" stroke="#cfc8cc" stroke-width="0.60"/><line x1="467.68" y1="25.00" x2="467.68" y2="62.00" stroke="#cfc8cc" stroke-width="0.60"/><line x1="473.26" y1="27.00" x2="473.26" y2="62.00" stroke="#cfc8cc" stroke-width="0.60"/><line x1="478.84" y1="26.00" x2="478.84" y2="62.00" stroke="#cfc8cc" stroke-width="0.60"/><line x1="484.43" y1="24.00" x2="484.43" y2="62.00" stroke="#cfc8cc" stroke-width="0.60"/><line x1="490.01" y1="25.00" x2="490.01" y2="62.00" stroke="#cfc8cc" stroke-width="0.60"/><line x1="398.00" y1="4.50" x2="398.00" y2="20.30" stroke="#b8b8b8" stroke-width="0.70"/><line x1="376.00" y1="20.30" x2="470.00" y2="20.30" stroke="#c0c0c0" stroke-width="0.70"/><line x1="306.00" y1="24.50" x2="376.00" y2="24.50" stroke="#f3edc0" stroke-width="0.60"/><line x1="456.00" y1="22.20" x2="477.00" y2="22.20" stroke="#c8c0c4" stroke-width="0.60"/><line x1="452.00" y1="24.50" x2="466.00" y2="24.50" stroke="#c8c0c4" stroke-width="0.60"/><line x1="470.00" y1="24.00" x2="490.00" y2="24.00" stroke="#c8c0c4" stroke-width="0.60"/><line x1="470.00" y1="20.30" x2="470.00" y2="22.20" stroke="#c0c0c0" stroke-width="0.60"/><line x1="320.00" y1="26.50" x2="360.00" y2="26.50" stroke="#f3edc0" stroke-width="0.60"/><line x1="355.00" y1="27.50" x2="400.00" y2="27.50" stroke="#f3edc0" stroke-width="0.60"/><line x1="400.00" y1="26.00" x2="445.00" y2="26.00" stroke="#f3edc0" stroke-width="0.60"/>
<text transform="translate(400,19.4) scale(0.9,1)" font-size="6.9" font-weight="bold" fill="#333">PTCL</text>
<polygon points="302.6,62 297,62 297,66 294.4,66 294.4,75 291,75 291,86 288,86 288,90 284.8,90 284.8,96 281.4,96 281.4,100 279.0,100 279.0,404.4 302.6,404.4" fill="#e8eaf5"/>
<line x1="298.36" y1="63.00" x2="302.50" y2="63.00" stroke="#c9cee3" stroke-width="0.45"/><line x1="298.68" y1="65.84" x2="302.50" y2="65.84" stroke="#c9cee3" stroke-width="0.45"/><line x1="299.58" y1="68.68" x2="302.50" y2="68.68" stroke="#c9cee3" stroke-width="0.45"/><line x1="297.01" y1="71.53" x2="302.50" y2="71.53" stroke="#c9cee3" stroke-width="0.45"/><line x1="297.24" y1="74.37" x2="302.50" y2="74.37" stroke="#c9cee3" stroke-width="0.45"/><line x1="296.29" y1="77.21" x2="302.50" y2="77.21" stroke="#c9cee3" stroke-width="0.45"/><line x1="292.66" y1="80.05" x2="302.50" y2="80.05" stroke="#c9cee3" stroke-width="0.45"/><line x1="295.61" y1="82.89" x2="302.50" y2="82.89" stroke="#c9cee3" stroke-width="0.45"/><line x1="296.67" y1="85.73" x2="302.50" y2="85.73" stroke="#c9cee3" stroke-width="0.45"/><line x1="297.52" y1="88.58" x2="302.50" y2="88.58" stroke="#c9cee3" stroke-width="0.45"/><line x1="286.23" y1="91.42" x2="302.50" y2="91.42" stroke="#c9cee3" stroke-width="0.45"/><line x1="289.41" y1="94.26" x2="302.50" y2="94.26" stroke="#c9cee3" stroke-width="0.45"/><line x1="283.09" y1="97.10" x2="302.50" y2="97.10" stroke="#c9cee3" stroke-width="0.45"/><line x1="296.46" y1="99.94" x2="302.50" y2="99.94" stroke="#c9cee3" stroke-width="0.45"/><line x1="293.75" y1="102.78" x2="302.50" y2="102.78" stroke="#c9cee3" stroke-width="0.45"/><line x1="280.45" y1="105.62" x2="302.50" y2="105.62" stroke="#c9cee3" stroke-width="0.45"/><line x1="299.64" y1="108.47" x2="302.50" y2="108.47" stroke="#c9cee3" stroke-width="0.45"/><line x1="299.28" y1="111.31" x2="302.50" y2="111.31" stroke="#c9cee3" stroke-width="0.45"/><line x1="292.94" y1="114.15" x2="302.50" y2="114.15" stroke="#c9cee3" stroke-width="0.45"/><line x1="292.16" y1="116.99" x2="302.50" y2="116.99" stroke="#c9cee3" stroke-width="0.45"/><line x1="282.81" y1="119.83" x2="302.50" y2="119.83" stroke="#c9cee3" stroke-width="0.45"/><line x1="279.91" y1="122.67" x2="302.50" y2="122.67" stroke="#c9cee3" stroke-width="0.45"/><line x1="290.38" y1="125.52" x2="302.50" y2="125.52" stroke="#c9cee3" stroke-width="0.45"/><line x1="280.81" y1="128.36" x2="302.50" y2="128.36" stroke="#c9cee3" stroke-width="0.45"/><line x1="283.48" y1="131.20" x2="302.50" y2="131.20" stroke="#c9cee3" stroke-width="0.45"/><line x1="284.54" y1="134.04" x2="302.50" y2="134.04" stroke="#c9cee3" stroke-width="0.45"/><line x1="280.21" y1="136.88" x2="302.50" y2="136.88" stroke="#c9cee3" stroke-width="0.45"/><line x1="289.06" y1="139.72" x2="302.50" y2="139.72" stroke="#c9cee3" stroke-width="0.45"/><line x1="288.59" y1="142.57" x2="302.50" y2="142.57" stroke="#c9cee3" stroke-width="0.45"/><line x1="296.79" y1="145.41" x2="302.50" y2="145.41" stroke="#c9cee3" stroke-width="0.45"/><line x1="290.19" y1="148.25" x2="302.50" y2="148.25" stroke="#c9cee3" stroke-width="0.45"/><line x1="292.66" y1="151.09" x2="302.50" y2="151.09" stroke="#c9cee3" stroke-width="0.45"/><line x1="289.80" y1="153.93" x2="302.50" y2="153.93" stroke="#c9cee3" stroke-width="0.45"/><line x1="293.11" y1="156.78" x2="302.50" y2="156.78" stroke="#c9cee3" stroke-width="0.45"/><line x1="288.93" y1="159.62" x2="302.50" y2="159.62" stroke="#c9cee3" stroke-width="0.45"/><line x1="285.27" y1="162.46" x2="302.50" y2="162.46" stroke="#c9cee3" stroke-width="0.45"/><line x1="299.95" y1="165.30" x2="302.50" y2="165.30" stroke="#c9cee3" stroke-width="0.45"/><line x1="299.91" y1="168.14" x2="302.50" y2="168.14" stroke="#c9cee3" stroke-width="0.45"/><line x1="296.74" y1="170.98" x2="302.50" y2="170.98" stroke="#c9cee3" stroke-width="0.45"/><line x1="294.04" y1="173.82" x2="302.50" y2="173.82" stroke="#c9cee3" stroke-width="0.45"/><line x1="286.03" y1="176.67" x2="302.50" y2="176.67" stroke="#c9cee3" stroke-width="0.45"/><line x1="284.29" y1="179.51" x2="302.50" y2="179.51" stroke="#c9cee3" stroke-width="0.45"/><line x1="285.50" y1="182.35" x2="302.50" y2="182.35" stroke="#c9cee3" stroke-width="0.45"/><line x1="281.03" y1="185.19" x2="302.50" y2="185.19" stroke="#c9cee3" stroke-width="0.45"/><line x1="295.23" y1="188.03" x2="302.50" y2="188.03" stroke="#c9cee3" stroke-width="0.45"/><line x1="287.77" y1="190.88" x2="302.50" y2="190.88" stroke="#c9cee3" stroke-width="0.45"/><line x1="296.87" y1="193.72" x2="302.50" y2="193.72" stroke="#c9cee3" stroke-width="0.45"/><line x1="287.48" y1="196.56" x2="302.50" y2="196.56" stroke="#c9cee3" stroke-width="0.45"/><line x1="299.14" y1="199.40" x2="302.50" y2="199.40" stroke="#c9cee3" stroke-width="0.45"/><line x1="296.89" y1="202.24" x2="302.50" y2="202.24" stroke="#c9cee3" stroke-width="0.45"/><line x1="279.61" y1="205.08" x2="302.50" y2="205.08" stroke="#c9cee3" stroke-width="0.45"/><line x1="283.88" y1="207.93" x2="302.50" y2="207.93" stroke="#c9cee3" stroke-width="0.45"/><line x1="298.17" y1="210.77" x2="302.50" y2="210.77" stroke="#c9cee3" stroke-width="0.45"/><line x1="289.19" y1="213.61" x2="302.50" y2="213.61" stroke="#c9cee3" stroke-width="0.45"/><line x1="299.60" y1="216.45" x2="302.50" y2="216.45" stroke="#c9cee3" stroke-width="0.45"/><line x1="287.71" y1="219.29" x2="302.50" y2="219.29" stroke="#c9cee3" stroke-width="0.45"/><line x1="281.09" y1="222.13" x2="302.50" y2="222.13" stroke="#c9cee3" stroke-width="0.45"/><line x1="292.44" y1="224.97" x2="302.50" y2="224.97" stroke="#c9cee3" stroke-width="0.45"/><line x1="295.48" y1="227.82" x2="302.50" y2="227.82" stroke="#c9cee3" stroke-width="0.45"/><line x1="285.10" y1="230.66" x2="302.50" y2="230.66" stroke="#c9cee3" stroke-width="0.45"/><line x1="281.38" y1="233.50" x2="302.50" y2="233.50" stroke="#c9cee3" stroke-width="0.45"/><line x1="286.38" y1="236.34" x2="302.50" y2="236.34" stroke="#c9cee3" stroke-width="0.45"/><line x1="299.27" y1="239.18" x2="302.50" y2="239.18" stroke="#c9cee3" stroke-width="0.45"/><line x1="295.06" y1="242.03" x2="302.50" y2="242.03" stroke="#c9cee3" stroke-width="0.45"/><line x1="282.01" y1="244.87" x2="302.50" y2="244.87" stroke="#c9cee3" stroke-width="0.45"/><line x1="284.63" y1="247.71" x2="302.50" y2="247.71" stroke="#c9cee3" stroke-width="0.45"/><line x1="281.66" y1="250.55" x2="302.50" y2="250.55" stroke="#c9cee3" stroke-width="0.45"/><line x1="280.82" y1="253.39" x2="302.50" y2="253.39" stroke="#c9cee3" stroke-width="0.45"/><line x1="295.86" y1="256.23" x2="302.50" y2="256.23" stroke="#c9cee3" stroke-width="0.45"/><line x1="283.22" y1="259.07" x2="302.50" y2="259.07" stroke="#c9cee3" stroke-width="0.45"/><line x1="291.01" y1="261.92" x2="302.50" y2="261.92" stroke="#c9cee3" stroke-width="0.45"/><line x1="288.73" y1="264.76" x2="302.50" y2="264.76" stroke="#c9cee3" stroke-width="0.45"/><line x1="283.49" y1="267.60" x2="302.50" y2="267.60" stroke="#c9cee3" stroke-width="0.45"/><line x1="294.53" y1="270.44" x2="302.50" y2="270.44" stroke="#c9cee3" stroke-width="0.45"/><line x1="282.27" y1="273.28" x2="302.50" y2="273.28" stroke="#c9cee3" stroke-width="0.45"/><line x1="292.73" y1="276.12" x2="302.50" y2="276.12" stroke="#c9cee3" stroke-width="0.45"/><line x1="281.98" y1="278.97" x2="302.50" y2="278.97" stroke="#c9cee3" stroke-width="0.45"/><line x1="288.18" y1="281.81" x2="302.50" y2="281.81" stroke="#c9cee3" stroke-width="0.45"/><line x1="283.94" y1="284.65" x2="302.50" y2="284.65" stroke="#c9cee3" stroke-width="0.45"/><line x1="285.10" y1="287.49" x2="302.50" y2="287.49" stroke="#c9cee3" stroke-width="0.45"/><line x1="299.41" y1="290.33" x2="302.50" y2="290.33" stroke="#c9cee3" stroke-width="0.45"/><line x1="295.99" y1="293.18" x2="302.50" y2="293.18" stroke="#c9cee3" stroke-width="0.45"/><line x1="285.80" y1="296.02" x2="302.50" y2="296.02" stroke="#c9cee3" stroke-width="0.45"/><line x1="297.65" y1="298.86" x2="302.50" y2="298.86" stroke="#c9cee3" stroke-width="0.45"/><line x1="283.90" y1="301.70" x2="302.50" y2="301.70" stroke="#c9cee3" stroke-width="0.45"/><line x1="287.64" y1="304.54" x2="302.50" y2="304.54" stroke="#c9cee3" stroke-width="0.45"/><line x1="297.03" y1="307.38" x2="302.50" y2="307.38" stroke="#c9cee3" stroke-width="0.45"/><line x1="292.69" y1="310.23" x2="302.50" y2="310.23" stroke="#c9cee3" stroke-width="0.45"/><line x1="281.65" y1="313.07" x2="302.50" y2="313.07" stroke="#c9cee3" stroke-width="0.45"/><line x1="299.78" y1="315.91" x2="302.50" y2="315.91" stroke="#c9cee3" stroke-width="0.45"/><line x1="283.95" y1="318.75" x2="302.50" y2="318.75" stroke="#c9cee3" stroke-width="0.45"/><line x1="284.87" y1="321.59" x2="302.50" y2="321.59" stroke="#c9cee3" stroke-width="0.45"/><line x1="295.36" y1="324.43" x2="302.50" y2="324.43" stroke="#c9cee3" stroke-width="0.45"/><line x1="286.31" y1="327.27" x2="302.50" y2="327.27" stroke="#c9cee3" stroke-width="0.45"/><line x1="285.65" y1="330.12" x2="302.50" y2="330.12" stroke="#c9cee3" stroke-width="0.45"/><line x1="281.10" y1="332.96" x2="302.50" y2="332.96" stroke="#c9cee3" stroke-width="0.45"/><line x1="281.44" y1="335.80" x2="302.50" y2="335.80" stroke="#c9cee3" stroke-width="0.45"/><line x1="291.49" y1="338.64" x2="302.50" y2="338.64" stroke="#c9cee3" stroke-width="0.45"/><line x1="284.56" y1="341.48" x2="302.50" y2="341.48" stroke="#c9cee3" stroke-width="0.45"/><line x1="291.87" y1="344.32" x2="302.50" y2="344.32" stroke="#c9cee3" stroke-width="0.45"/><line x1="287.18" y1="347.17" x2="302.50" y2="347.17" stroke="#c9cee3" stroke-width="0.45"/><line x1="288.85" y1="350.01" x2="302.50" y2="350.01" stroke="#c9cee3" stroke-width="0.45"/><line x1="299.17" y1="352.85" x2="302.50" y2="352.85" stroke="#c9cee3" stroke-width="0.45"/><line x1="289.47" y1="355.69" x2="302.50" y2="355.69" stroke="#c9cee3" stroke-width="0.45"/><line x1="291.32" y1="358.53" x2="302.50" y2="358.53" stroke="#c9cee3" stroke-width="0.45"/><line x1="297.28" y1="361.38" x2="302.50" y2="361.38" stroke="#c9cee3" stroke-width="0.45"/><line x1="283.33" y1="364.22" x2="302.50" y2="364.22" stroke="#c9cee3" stroke-width="0.45"/><line x1="282.74" y1="367.06" x2="302.50" y2="367.06" stroke="#c9cee3" stroke-width="0.45"/><line x1="298.13" y1="369.90" x2="302.50" y2="369.90" stroke="#c9cee3" stroke-width="0.45"/><line x1="296.28" y1="372.74" x2="302.50" y2="372.74" stroke="#c9cee3" stroke-width="0.45"/><line x1="284.69" y1="375.58" x2="302.50" y2="375.58" stroke="#c9cee3" stroke-width="0.45"/><line x1="283.47" y1="378.43" x2="302.50" y2="378.43" stroke="#c9cee3" stroke-width="0.45"/><line x1="294.68" y1="381.27" x2="302.50" y2="381.27" stroke="#c9cee3" stroke-width="0.45"/><line x1="298.78" y1="384.11" x2="302.50" y2="384.11" stroke="#c9cee3" stroke-width="0.45"/><line x1="283.61" y1="386.95" x2="302.50" y2="386.95" stroke="#c9cee3" stroke-width="0.45"/><line x1="298.98" y1="389.79" x2="302.50" y2="389.79" stroke="#c9cee3" stroke-width="0.45"/><line x1="297.60" y1="392.63" x2="302.50" y2="392.63" stroke="#c9cee3" stroke-width="0.45"/><line x1="291.91" y1="395.48" x2="302.50" y2="395.48" stroke="#c9cee3" stroke-width="0.45"/><line x1="288.20" y1="398.32" x2="302.50" y2="398.32" stroke="#c9cee3" stroke-width="0.45"/><line x1="281.72" y1="401.16" x2="302.50" y2="401.16" stroke="#c9cee3" stroke-width="0.45"/><line x1="297.00" y1="62.00" x2="297.00" y2="66.00" stroke="#aab2d6" stroke-width="0.60"/><line x1="294.40" y1="64.00" x2="294.40" y2="90.00" stroke="#aab2d6" stroke-width="0.60"/><line x1="291.00" y1="74.00" x2="291.00" y2="110.00" stroke="#b3bad9" stroke-width="0.60"/><line x1="288.00" y1="86.00" x2="288.00" y2="150.00" stroke="#b3bad9" stroke-width="0.60"/><line x1="284.80" y1="90.00" x2="284.80" y2="170.00" stroke="#aab2d6" stroke-width="0.60"/><line x1="282.50" y1="96.00" x2="282.50" y2="154.00" stroke="#9ea7d2" stroke-width="0.70"/><line x1="281.40" y1="99.00" x2="281.40" y2="300.00" stroke="#b3bad9" stroke-width="0.60"/><line x1="279.00" y1="137.00" x2="279.00" y2="404.00" stroke="#8f9bcb" stroke-width="0.80"/><line x1="286.00" y1="150.00" x2="286.00" y2="400.00" stroke="#c3c8e0" stroke-width="0.50"/><line x1="290.00" y1="170.00" x2="290.00" y2="390.00" stroke="#c8cde3" stroke-width="0.50"/>
<line x1="275.6" y1="186" x2="275.6" y2="352" stroke="#b5b5b5" stroke-width="0.6"/>
<text transform="translate(273.2,230.6) rotate(-90)" font-size="6" font-weight="bold" fill="#444">PTCL</text>
<g filter="url(#bl)"><rect x="303.00" y="62.00" width="11.76" height="4.58" fill="#3ca037"/>
<rect x="314.16" y="62.00" width="6.18" height="4.58" fill="#6eb932"/>
<rect x="319.75" y="62.00" width="6.18" height="4.58" fill="#a5d22d"/>
<rect x="325.33" y="62.00" width="6.18" height="4.58" fill="#e1e12d"/>
<rect x="330.91" y="62.00" width="6.18" height="4.58" fill="#f5cd28"/>
<rect x="336.49" y="62.00" width="6.18" height="4.58" fill="#f5aa23"/>
<rect x="342.08" y="62.00" width="6.18" height="4.58" fill="#a5d22d"/>
<rect x="347.66" y="62.00" width="6.18" height="4.58" fill="#f3821e"/>
<rect x="353.24" y="62.00" width="6.18" height="4.58" fill="#ee5a23"/>
<rect x="358.82" y="62.00" width="6.18" height="4.58" fill="#f3821e"/>
<rect x="364.41" y="62.00" width="6.18" height="4.58" fill="#ee5a23"/>
<rect x="369.99" y="62.00" width="6.18" height="4.58" fill="#f5aa23"/>
<rect x="375.57" y="62.00" width="6.18" height="4.58" fill="#f3821e"/>
<rect x="381.15" y="62.00" width="6.18" height="4.58" fill="#ee5a23"/>
<rect x="386.74" y="62.00" width="6.18" height="4.58" fill="#e1e12d"/>
<rect x="392.32" y="62.00" width="6.18" height="4.58" fill="#a5d22d"/>
<rect x="397.90" y="62.00" width="6.18" height="4.58" fill="#e1e12d"/>
<rect x="403.48" y="62.00" width="39.68" height="4.58" fill="#238c41"/>
<rect x="442.56" y="62.00" width="6.18" height="4.58" fill="#3ca037"/>
<rect x="448.14" y="62.00" width="6.18" height="4.58" fill="#ee5a23"/>
<rect x="453.72" y="62.00" width="39.08" height="4.58" fill="#f3821e"/>
<rect x="303.00" y="65.98" width="11.76" height="4.58" fill="#3ca037"/>
<rect x="314.16" y="65.98" width="6.18" height="4.58" fill="#6eb932"/>
<rect x="319.75" y="65.98" width="6.18" height="4.58" fill="#a5d22d"/>
<rect x="325.33" y="65.98" width="6.18" height="4.58" fill="#e1e12d"/>
<rect x="330.91" y="65.98" width="6.18" height="4.58" fill="#f5cd28"/>
<rect x="336.49" y="65.98" width="6.18" height="4.58" fill="#f5aa23"/>
<rect x="342.08" y="65.98" width="6.18" height="4.58" fill="#a5d22d"/>
<rect x="347.66" y="65.98" width="6.18" height="4.58" fill="#ee5a23"/>
<rect x="353.24" y="65.98" width="6.18" height="4.58" fill="#f3821e"/>
<rect x="358.82" y="65.98" width="6.18" height="4.58" fill="#ee5a23"/>
<rect x="364.41" y="65.98" width="6.18" height="4.58" fill="#f3821e"/>
<rect x="369.99" y="65.98" width="6.18" height="4.58" fill="#f5aa23"/>
<rect x="375.57" y="65.98" width="6.18" height="4.58" fill="#f3821e"/>
<rect x="381.15" y="65.98" width="6.18" height="4.58" fill="#e42d23"/>
<rect x="386.74" y="65.98" width="6.18" height="4.58" fill="#a5d22d"/>
<rect x="392.32" y="65.98" width="11.76" height="4.58" fill="#e1e12d"/>
<rect x="403.48" y="65.98" width="39.68" height="4.58" fill="#238c41"/>
<rect x="442.56" y="65.98" width="6.18" height="4.58" fill="#3ca037"/>
<rect x="448.14" y="65.98" width="6.18" height="4.58" fill="#ee5a23"/>
<rect x="453.72" y="65.98" width="11.76" height="4.58" fill="#f3821e"/>
<rect x="464.89" y="65.98" width="6.18" height="4.58" fill="#f5aa23"/>
<rect x="470.47" y="65.98" width="17.35" height="4.58" fill="#f3821e"/>
<rect x="487.22" y="65.98" width="5.58" height="4.58" fill="#ee5a23"/>
<rect x="303.00" y="69.96" width="6.18" height="4.58" fill="#238c41"/>
<rect x="308.58" y="69.96" width="6.18" height="4.58" fill="#3ca037"/>
<rect x="314.16" y="69.96" width="11.76" height="4.58" fill="#a5d22d"/>
<rect x="325.33" y="69.96" width="6.18" height="4.58" fill="#e1e12d"/>
<rect x="330.91" y="69.96" width="6.18" height="4.58" fill="#f5cd28"/>
<rect x="336.49" y="69.96" width="6.18" height="4.58" fill="#f5aa23"/>
<rect x="342.08" y="69.96" width="6.18" height="4.58" fill="#a5d22d"/>
<rect x="347.66" y="69.96" width="6.18" height="4.58" fill="#f3821e"/>
<rect x="353.24" y="69.96" width="6.18" height="4.58" fill="#ee5a23"/>
<rect x="358.82" y="69.96" width="6.18" height="4.58" fill="#f3821e"/>
<rect x="364.41" y="69.96" width="6.18" height="4.58" fill="#ee5a23"/>
<rect x="369.99" y="69.96" width="6.18" height="4.58" fill="#f5aa23"/>
<rect x="375.57" y="69.96" width="6.18" height="4.58" fill="#f3821e"/>
<rect x="381.15" y="69.96" width="6.18" height="4.58" fill="#e42d23"/>
<rect x="386.74" y="69.96" width="17.35" height="4.58" fill="#e1e12d"/>
<rect x="403.48" y="69.96" width="39.68" height="4.58" fill="#238c41"/>
<rect x="442.56" y="69.96" width="6.18" height="4.58" fill="#3ca037"/>
<rect x="448.14" y="69.96" width="6.18" height="4.58" fill="#ee5a23"/>
<rect x="453.72" y="69.96" width="22.93" height="4.58" fill="#f3821e"/>
<rect x="476.05" y="69.96" width="6.18" height="4.58" fill="#ee5a23"/>
<rect x="481.64" y="69.96" width="11.16" height="4.58" fill="#f3821e"/>
<rect x="303.00" y="73.94" width="6.18" height="4.58" fill="#238c41"/>
<rect x="308.58" y="73.94" width="6.18" height="4.58" fill="#3ca037"/>
<rect x="314.16" y="73.94" width="11.76" height="4.58" fill="#a5d22d"/>
<rect x="325.33" y="73.94" width="6.18" height="4.58" fill="#e1e12d"/>
<rect x="330.91" y="73.94" width="6.18" height="4.58" fill="#f5aa23"/>
<rect x="336.49" y="73.94" width="6.18" height="4.58" fill="#f3821e"/>
<rect x="342.08" y="73.94" width="6.18" height="4.58" fill="#a5d22d"/>
<rect x="347.66" y="73.94" width="22.93" height="4.58" fill="#ee5a23"/>
<rect x="369.99" y="73.94" width="6.18" height="4.58" fill="#f5aa23"/>
<rect x="375.57" y="73.94" width="6.18" height="4.58" fill="#f3821e"/>
<rect x="381.15" y="73.94" width="6.18" height="4.58" fill="#e42d23"/>
<rect x="386.74" y="73.94" width="11.76" height="4.58" fill="#f3821e"/>
<rect x="397.90" y="73.94" width="6.18" height="4.58" fill="#f5aa23"/>
<rect x="403.48" y="73.94" width="39.68" height="4.58" fill="#238c41"/>
<rect x="442.56" y="73.94" width="6.18" height="4.58" fill="#3ca037"/>
<rect x="448.14" y="73.94" width="6.18" height="4.58" fill="#e42d23"/>
<rect x="453.72" y="73.94" width="6.18" height="4.58" fill="#ee5a23"/>
<rect x="459.31" y="73.94" width="33.49" height="4.58" fill="#e42d23"/>
<rect x="303.00" y="77.93" width="11.76" height="4.58" fill="#238c41"/>
<rect x="314.16" y="77.93" width="6.18" height="4.58" fill="#6eb932"/>
<rect x="319.75" y="77.93" width="11.76" height="4.58" fill="#e1e12d"/>
<rect x="330.91" y="77.93" width="6.18" height="4.58" fill="#f5aa23"/>
<rect x="336.49" y="77.93" width="6.18" height="4.58" fill="#f3821e"/>
<rect x="342.08" y="77.93" width="6.18" height="4.58" fill="#a5d22d"/>
<rect x="347.66" y="77.93" width="22.93" height="4.58" fill="#e42d23"/>
<rect x="369.99" y="77.93" width="6.18" height="4.58" fill="#f5cd28"/>
<rect x="375.57" y="77.93" width="6.18" height="4.58" fill="#ee5a23"/>
<rect x="381.15" y="77.93" width="6.18" height="4.58" fill="#e42d23"/>
<rect x="386.74" y="77.93" width="11.76" height="4.58" fill="#f3821e"/>
<rect x="397.90" y="77.93" width="6.18" height="4.58" fill="#f5aa23"/>
<rect x="403.48" y="77.93" width="39.68" height="4.58" fill="#238c41"/>
<rect x="442.56" y="77.93" width="6.18" height="4.58" fill="#3ca037"/>
<rect x="448.14" y="77.93" width="6.18" height="4.58" fill="#e42d23"/>
<rect x="453.72" y="77.93" width="6.18" height="4.58" fill="#ee5a23"/>
<rect x="459.31" y="77.93" width="33.49" height="4.58" fill="#e42d23"/>
<rect x="303.00" y="81.91" width="6.18" height="4.58" fill="#238c41"/>
<rect x="308.58" y="81.91" width="6.18" height="4.58" fill="#3ca037"/>
<rect x="314.16" y="81.91" width="6.18" height="4.58" fill="#6eb932"/>
<rect x="319.75" y="81.91" width="6.18" height="4.58" fill="#e1e12d"/>
<rect x="325.33" y="81.91" width="6.18" height="4.58" fill="#f5cd28"/>
<rect x="330.91" y="81.91" width="6.18" height="4.58" fill="#f5aa23"/>
<rect x="336.49" y="81.91" width="6.18" height="4.58" fill="#f3821e"/>
<rect x="342.08" y="81.91" width="6.18" height="4.58" fill="#a5d22d"/>
<rect x="347.66" y="81.91" width="11.76" height="4.58" fill="#e42d23"/>
<rect x="358.82" y="81.91" width="6.18" height="4.58" fill="#ee5a23"/>
<rect x="364.41" y="81.91" width="6.18" height="4.58" fill="#e42d23"/>
<rect x="369.99" y="81.91" width="6.18" height="4.58" fill="#f5cd28"/>
<rect x="375.57" y="81.91" width="6.18" height="4.58" fill="#ee5a23"/>
<rect x="381.15" y="81.91" width="6.18" height="4.58" fill="#e42d23"/>
<rect x="386.74" y="81.91" width="11.76" height="4.58" fill="#f3821e"/>
<rect x="397.90" y="81.91" width="6.18" height="4.58" fill="#f5aa23"/>
<rect x="403.48" y="81.91" width="39.68" height="4.58" fill="#238c41"/>
<rect x="442.56" y="81.91" width="6.18" height="4.58" fill="#3ca037"/>
<rect x="448.14" y="81.91" width="11.76" height="4.58" fill="#e42d23"/>
<rect x="459.31" y="81.91" width="11.76" height="4.58" fill="#ee5a23"/>
<rect x="470.47" y="81.91" width="22.33" height="4.58" fill="#e42d23"/>
<rect x="303.00" y="85.89" width="11.76" height="4.58" fill="#3ca037"/>
<rect x="314.16" y="85.89" width="6.18" height="4.58" fill="#6eb932"/>
<rect x="319.75" y="85.89" width="11.76" height="4.58" fill="#e1e12d"/>
<rect x="330.91" y="85.89" width="6.18" height="4.58" fill="#f5aa23"/>
<rect x="336.49" y="85.89" width="6.18" height="4.58" fill="#f3821e"/>
<rect x="342.08" y="85.89" width="6.18" height="4.58" fill="#a5d22d"/>
<rect x="347.66" y="85.89" width="6.18" height="4.58" fill="#ee5a23"/>
<rect x="353.24" y="85.89" width="6.18" height="4.58" fill="#e42d23"/>
<rect x="358.82" y="85.89" width="11.76" height="4.58" fill="#ee5a23"/>
<rect x="369.99" y="85.89" width="6.18" height="4.58" fill="#f5cd28"/>
<rect x="375.57" y="85.89" width="6.18" height="4.58" fill="#ee5a23"/>
<rect x="381.15" y="85.89" width="6.18" height="4.58" fill="#e42d23"/>
<rect x="386.74" y="85.89" width="6.18" height="4.58" fill="#ee5a23"/>
<rect x="392.32" y="85.89" width="6.18" height="4.58" fill="#f3821e"/>
<rect x="397.90" y="85.89" width="6.18" height="4.58" fill="#f5aa23"/>
<rect x="403.48" y="85.89" width="39.68" height="4.58" fill="#238c41"/>
<rect x="442.56" y="85.89" width="6.18" height="4.58" fill="#3ca037"/>
<rect x="448.14" y="85.89" width="17.35" height="4.58" fill="#e42d23"/>
<rect x="464.89" y="85.89" width="6.18" height="4.58" fill="#ee5a23"/>
<rect x="470.47" y="85.89" width="22.33" height="4.58" fill="#e42d23"/>
<rect x="303.00" y="89.87" width="11.76" height="4.58" fill="#3ca037"/>
<rect x="314.16" y="89.87" width="6.18" height="4.58" fill="#6eb932"/>
<rect x="319.75" y="89.87" width="6.18" height="4.58" fill="#e1e12d"/>
<rect x="325.33" y="89.87" width="6.18" height="4.58" fill="#f5cd28"/>
<rect x="330.91" y="89.87" width="6.18" height="4.58" fill="#f5aa23"/>
<rect x="336.49" y="89.87" width="6.18" height="4.58" fill="#f3821e"/>
<rect x="342.08" y="89.87" width="6.18" height="4.58" fill="#a5d22d"/>
<rect x="347.66" y="89.87" width="11.76" height="4.58" fill="#ee5a23"/>
<rect x="358.82" y="89.87" width="6.18" height="4.58" fill="#e42d23"/>
<rect x="364.41" y="89.87" width="6.18" height="4.58" fill="#ee5a23"/>
<rect x="369.99" y="89.87" width="6.18" height="4.58" fill="#f5cd28"/>
<rect x="375.57" y="89.87" width="6.18" height="4.58" fill="#ee5a23"/>
<rect x="381.15" y="89.87" width="6.18" height="4.58" fill="#e42d23"/>
<rect x="386.74" y="89.87" width="11.76" height="4.58" fill="#f3821e"/>
<rect x="397.90" y="89.87" width="6.18" height="4.58" fill="#f5aa23"/>
<rect x="403.48" y="89.87" width="39.68" height="4.58" fill="#238c41"/>
<rect x="442.56" y="89.87" width="6.18" height="4.58" fill="#3ca037"/>
<rect x="448.14" y="89.87" width="6.18" height="4.58" fill="#e42d23"/>
<rect x="453.72" y="89.87" width="11.76" height="4.58" fill="#ee5a23"/>
<rect x="464.89" y="89.87" width="27.91" height="4.58" fill="#e42d23"/>
<rect x="303.00" y="93.85" width="17.35" height="4.58" fill="#6eb932"/>
<rect x="319.75" y="93.85" width="6.18" height="4.58" fill="#e1e12d"/>
<rect x="325.33" y="93.85" width="6.18" height="4.58" fill="#f5cd28"/>
<rect x="330.91" y="93.85" width="6.18" height="4.58" fill="#f5aa23"/>
<rect x="336.49" y="93.85" width="6.18" height="4.58" fill="#f3821e"/>
<rect x="342.08" y="93.85" width="6.18" height="4.58" fill="#a5d22d"/>
<rect x="347.66" y="93.85" width="6.18" height="4.58" fill="#e42d23"/>
<rect x="353.24" y="93.85" width="6.18" height="4.58" fill="#ee5a23"/>
<rect x="358.82" y="93.85" width="6.18" height="4.58" fill="#e42d23"/>
<rect x="364.41" y="93.85" width="6.18" height="4.58" fill="#ee5a23"/>
<rect x="369.99" y="93.85" width="6.18" height="4.58" fill="#f5cd28"/>
<rect x="375.57" y="93.85" width="6.18" height="4.58" fill="#ee5a23"/>
<rect x="381.15" y="93.85" width="6.18" height="4.58" fill="#e42d23"/>
<rect x="386.74" y="93.85" width="11.76" height="4.58" fill="#ee5a23"/>
<rect x="397.90" y="93.85" width="6.18" height="4.58" fill="#f5aa23"/>
<rect x="403.48" y="93.85" width="39.68" height="4.58" fill="#238c41"/>
<rect x="442.56" y="93.85" width="6.18" height="4.58" fill="#3ca037"/>
<rect x="448.14" y="93.85" width="44.66" height="4.58" fill="#e42d23"/>
<rect x="303.00" y="97.83" width="6.18" height="4.58" fill="#3ca037"/>
<rect x="308.58" y="97.83" width="6.18" height="4.58" fill="#6eb932"/>
<rect x="314.16" y="97.83" width="6.18" height="4.58" fill="#a5d22d"/>
<rect x="319.75" y="97.83" width="11.76" height="4.58" fill="#f5cd28"/>
<rect x="330.91" y="97.83" width="11.76" height="4.58" fill="#f5aa23"/>
<rect x="342.08" y="97.83" width="6.18" height="4.58" fill="#e1e12d"/>
<rect x="347.66" y="97.83" width="6.18" height="4.58" fill="#ee5a23"/>
<rect x="353.24" y="97.83" width="6.18" height="4.58" fill="#e42d23"/>
<rect x="358.82" y="97.83" width="11.76" height="4.58" fill="#ee5a23"/>
<rect x="369.99" y="97.83" width="6.18" height="4.58" fill="#f5aa23"/>
<rect x="375.57" y="97.83" width="6.18" height="4.58" fill="#ee5a23"/>
<rect x="381.15" y="97.83" width="6.18" height="4.58" fill="#e42d23"/>
<rect x="386.74" y="97.83" width="6.18" height="4.58" fill="#ee5a23"/>
<rect x="392.32" y="97.83" width="6.18" height="4.58" fill="#e42d23"/>
<rect x="397.90" y="97.83" width="6.18" height="4.58" fill="#f5aa23"/>
<rect x="403.48" y="97.83" width="6.18" height="4.58" fill="#3ca037"/>
<rect x="409.06" y="97.83" width="6.18" height="4.58" fill="#238c41"/>
<rect x="414.65" y="97.83" width="11.76" height="4.58" fill="#3ca037"/>
<rect x="425.81" y="97.83" width="11.76" height="4.58" fill="#238c41"/>
<rect x="436.98" y="97.83" width="11.76" height="4.58" fill="#3ca037"/>
<rect x="448.14" y="97.83" width="6.18" height="4.58" fill="#e42d23"/>
<rect x="453.72" y="97.83" width="6.18" height="4.58" fill="#f5aaa0"/>
<rect x="459.31" y="97.83" width="6.18" height="4.58" fill="#e42d23"/>
<rect x="464.89" y="97.83" width="6.18" height="4.58" fill="#f5aaa0"/>
<rect x="470.47" y="97.83" width="6.18" height="4.58" fill="#e42d23"/>
<rect x="476.05" y="97.83" width="6.18" height="4.58" fill="#f5aaa0"/>
<rect x="481.64" y="97.83" width="11.16" height="4.58" fill="#e42d23"/>
<rect x="303.00" y="101.81" width="17.35" height="4.58" fill="#a5d22d"/>
<rect x="319.75" y="101.81" width="6.18" height="4.58" fill="#f5cd28"/>
<rect x="325.33" y="101.81" width="6.18" height="4.58" fill="#f5aa23"/>
<rect x="330.91" y="101.81" width="6.18" height="4.58" fill="#f5cd28"/>
<rect x="336.49" y="101.81" width="6.18" height="4.58" fill="#f5aa23"/>
<rect x="342.08" y="101.81" width="6.18" height="4.58" fill="#e1e12d"/>
<rect x="347.66" y="101.81" width="11.76" height="4.58" fill="#ee5a23"/>
<rect x="358.82" y="101.81" width="6.18" height="4.58" fill="#e42d23"/>
<rect x="364.41" y="101.81" width="6.18" height="4.58" fill="#ee5a23"/>
<rect x="369.99" y="101.81" width="6.18" height="4.58" fill="#f5cd28"/>
<rect x="375.57" y="101.81" width="6.18" height="4.58" fill="#ee5a23"/>
<rect x="381.15" y="101.81" width="11.76" height="4.58" fill="#e42d23"/>
<rect x="392.32" y="101.81" width="11.76" height="4.58" fill="#ee5a23"/>
<rect x="403.48" y="101.81" width="39.68" height="4.58" fill="#238c41"/>
<rect x="442.56" y="101.81" width="6.18" height="4.58" fill="#3ca037"/>
<rect x="448.14" y="101.81" width="6.18" height="4.58" fill="#f5aaa0"/>
<rect x="453.72" y="101.81" width="6.18" height="4.58" fill="#e42d23"/>
<rect x="459.31" y="101.81" width="17.35" height="4.58" fill="#f5aaa0"/>
<rect x="476.05" y="101.81" width="6.18" height="4.58" fill="#e42d23"/>
<rect x="481.64" y="101.81" width="11.16" height="4.58" fill="#f5aaa0"/>
<rect x="303.00" y="105.80" width="6.18" height="4.58" fill="#6eb932"/>
<rect x="308.58" y="105.80" width="6.18" height="4.58" fill="#a5d22d"/>
<rect x="314.16" y="105.80" width="6.18" height="4.58" fill="#e1e12d"/>
<rect x="319.75" y="105.80" width="11.76" height="4.58" fill="#f5cd28"/>
<rect x="330.91" y="105.80" width="11.76" height="4.58" fill="#f5aa23"/>
<rect x="342.08" y="105.80" width="6.18" height="4.58" fill="#f5cd28"/>
<rect x="347.66" y="105.80" width="6.18" height="4.58" fill="#ee5a23"/>
<rect x="353.24" y="105.80" width="6.18" height="4.58" fill="#e42d23"/>
<rect x="358.82" y="105.80" width="11.76" height="4.58" fill="#ee5a23"/>
<rect x="369.99" y="105.80" width="6.18" height="4.58" fill="#f5aa23"/>
<rect x="375.57" y="105.80" width="6.18" height="4.58" fill="#ee5a23"/>
<rect x="381.15" y="105.80" width="6.18" height="4.58" fill="#e42d23"/>
<rect x="386.74" y="105.80" width="6.18" height="4.58" fill="#ee5a23"/>
<rect x="392.32" y="105.80" width="6.18" height="4.58" fill="#e42d23"/>
<rect x="397.90" y="105.80" width="6.18" height="4.58" fill="#ee5a23"/>
<rect x="403.48" y="105.80" width="39.68" height="4.58" fill="#238c41"/>
<rect x="442.56" y="105.80" width="6.18" height="4.58" fill="#3ca037"/>
<rect x="448.14" y="105.80" width="22.93" height="4.58" fill="#e42d23"/>
<rect x="470.47" y="105.80" width="6.18" height="4.58" fill="#ee5a23"/>
<rect x="476.05" y="105.80" width="16.75" height="4.58" fill="#e42d23"/>
<rect x="303.00" y="109.78" width="6.18" height="4.58" fill="#a5d22d"/>
<rect x="308.58" y="109.78" width="6.18" height="4.58" fill="#6eb932"/>
<rect x="314.16" y="109.78" width="6.18" height="4.58" fill="#a5d22d"/>
<rect x="319.75" y="109.78" width="6.18" height="4.58" fill="#f5aa23"/>
<rect x="325.33" y="109.78" width="6.18" height="4.58" fill="#f5cd28"/>
<rect x="330.91" y="109.78" width="6.18" height="4.58" fill="#f5aa23"/>
<rect x="336.49" y="109.78" width="6.18" height="4.58" fill="#f5cd28"/>
<rect x="342.08" y="109.78" width="6.18" height="4.58" fill="#e1e12d"/>
<rect x="347.66" y="109.78" width="6.18" height="4.58" fill="#e42d23"/>
<rect x="353.24" y="109.78" width="17.35" height="4.58" fill="#ee5a23"/>
<rect x="369.99" y="109.78" width="6.18" height="4.58" fill="#f5cd28"/>
<rect x="375.57" y="109.78" width="6.18" height="4.58" fill="#f5aaa0"/>
<rect x="381.15" y="109.78" width="11.76" height="4.58" fill="#e42d23"/>
<rect x="392.32" y="109.78" width="11.76" height="4.58" fill="#ee5a23"/>
<rect x="403.48" y="109.78" width="39.68" height="4.58" fill="#238c41"/>
<rect x="442.56" y="109.78" width="6.18" height="4.58" fill="#3ca037"/>
<rect x="448.14" y="109.78" width="22.93" height="4.58" fill="#e42d23"/>
<rect x="470.47" y="109.78" width="6.18" height="4.58" fill="#f3821e"/>
<rect x="476.05" y="109.78" width="16.75" height="4.58" fill="#e42d23"/>
<rect x="303.00" y="113.76" width="6.18" height="4.58" fill="#6eb932"/>
<rect x="308.58" y="113.76" width="6.18" height="4.58" fill="#a5d22d"/>
<rect x="314.16" y="113.76" width="6.18" height="4.58" fill="#e1e12d"/>
<rect x="319.75" y="113.76" width="22.93" height="4.58" fill="#f5aa23"/>
<rect x="342.08" y="113.76" width="6.18" height="4.58" fill="#f5cd28"/>
<rect x="347.66" y="113.76" width="11.76" height="4.58" fill="#ee5a23"/>
<rect x="358.82" y="113.76" width="6.18" height="4.58" fill="#e42d23"/>
<rect x="364.41" y="113.76" width="6.18" height="4.58" fill="#ee5a23"/>
<rect x="369.99" y="113.76" width="6.18" height="4.58" fill="#f5aa23"/>
<rect x="375.57" y="113.76" width="6.18" height="4.58" fill="#ee5a23"/>
<rect x="381.15" y="113.76" width="17.35" height="4.58" fill="#e42d23"/>
<rect x="397.90" y="113.76" width="6.18" height="4.58" fill="#f5aaa0"/>
<rect x="403.48" y="113.76" width="45.26" height="4.58" fill="#3ca037"/>
<rect x="448.14" y="113.76" width="6.18" height="4.58" fill="#e42d23"/>
<rect x="453.72" y="113.76" width="6.18" height="4.58" fill="#f5aaa0"/>
<rect x="459.31" y="113.76" width="6.18" height="4.58" fill="#e42d23"/>
<rect x="464.89" y="113.76" width="6.18" height="4.58" fill="#f5aaa0"/>
<rect x="470.47" y="113.76" width="6.18" height="4.58" fill="#e42d23"/>
<rect x="476.05" y="113.76" width="11.76" height="4.58" fill="#f5aaa0"/>
<rect x="487.22" y="113.76" width="5.58" height="4.58" fill="#e42d23"/>
<rect x="303.00" y="117.74" width="11.76" height="4.58" fill="#a5d22d"/>
<rect x="314.16" y="117.74" width="6.18" height="4.58" fill="#e1e12d"/>
<rect x="319.75" y="117.74" width="22.93" height="4.58" fill="#f3821e"/>
<rect x="342.08" y="117.74" width="6.18" height="4.58" fill="#e1e12d"/>
<rect x="347.66" y="117.74" width="6.18" height="4.58" fill="#ee5a23"/>
<rect x="353.24" y="117.74" width="6.18" height="4.58" fill="#f5aaa0"/>
<rect x="358.82" y="117.74" width="6.18" height="4.58" fill="#ee5a23"/>
<rect x="364.41" y="117.74" width="6.18" height="4.58" fill="#f5aaa0"/>
<rect x="369.99" y="117.74" width="6.18" height="4.58" fill="#f5aa23"/>
<rect x="375.57" y="117.74" width="6.18" height="4.58" fill="#f5aaa0"/>
<rect x="381.15" y="117.74" width="6.18" height="4.58" fill="#e42d23"/>
<rect x="386.74" y="117.74" width="6.18" height="4.58" fill="#ee5a23"/>
<rect x="392.32" y="117.74" width="6.18" height="4.58" fill="#f3821e"/>
<rect x="397.90" y="117.74" width="6.18" height="4.58" fill="#ee5a23"/>
<rect x="403.48" y="117.74" width="11.76" height="4.58" fill="#238c41"/>
<rect x="414.65" y="117.74" width="6.18" height="4.58" fill="#3ca037"/>
<rect x="420.23" y="117.74" width="11.76" height="4.58" fill="#a5d22d"/>
<rect x="431.39" y="117.74" width="6.18" height="4.58" fill="#238c41"/>
<rect x="436.98" y="117.74" width="6.18" height="4.58" fill="#3ca037"/>
<rect x="442.56" y="117.74" width="6.18" height="4.58" fill="#a5d22d"/>
<rect x="448.14" y="117.74" width="6.18" height="4.58" fill="#f5aaa0"/>
<rect x="453.72" y="117.74" width="6.18" height="4.58" fill="#e42d23"/>
<rect x="459.31" y="117.74" width="11.76" height="4.58" fill="#f5aaa0"/>
<rect x="470.47" y="117.74" width="6.18" height="4.58" fill="#e42d23"/>
<rect x="476.05" y="117.74" width="6.18" height="4.58" fill="#f5aaa0"/>
<rect x="481.64" y="117.74" width="11.16" height="4.58" fill="#e42d23"/>
<rect x="303.00" y="121.72" width="6.18" height="4.58" fill="#a5d22d"/>
<rect x="308.58" y="121.72" width="6.18" height="4.58" fill="#e1e12d"/>
<rect x="314.16" y="121.72" width="6.18" height="4.58" fill="#f5cd28"/>
<rect x="319.75" y="121.72" width="22.93" height="4.58" fill="#ee5a23"/>
<rect x="342.08" y="121.72" width="6.18" height="4.58" fill="#f3821e"/>
<rect x="347.66" y="121.72" width="22.93" height="4.58" fill="#e42d23"/>
<rect x="369.99" y="121.72" width="6.18" height="4.58" fill="#f5aa23"/>
<rect x="375.57" y="121.72" width="6.18" height="4.58" fill="#f3821e"/>
<rect x="381.15" y="121.72" width="11.76" height="4.58" fill="#e42d23"/>
<rect x="392.32" y="121.72" width="6.18" height="4.58" fill="#ee5a23"/>
<rect x="397.90" y="121.72" width="6.18" height="4.58" fill="#e42d23"/>
<rect x="403.48" y="121.72" width="11.76" height="4.58" fill="#a5d22d"/>
<rect x="414.65" y="121.72" width="11.76" height="4.58" fill="#e1e12d"/>
<rect x="425.81" y="121.72" width="6.18" height="4.58" fill="#a5d22d"/>
<rect x="431.39" y="121.72" width="11.76" height="4.58" fill="#f5aa23"/>
<rect x="442.56" y="121.72" width="6.18" height="4.58" fill="#e1e12d"/>
<rect x="448.14" y="121.72" width="44.66" height="4.58" fill="#e42d23"/>
<rect x="303.00" y="125.70" width="11.76" height="4.58" fill="#a5d22d"/>
<rect x="314.16" y="125.70" width="6.18" height="4.58" fill="#f5cd28"/>
<rect x="319.75" y="125.70" width="11.76" height="4.58" fill="#f3821e"/>
<rect x="330.91" y="125.70" width="6.18" height="4.58" fill="#e1e12d"/>
<rect x="336.49" y="125.70" width="6.18" height="4.58" fill="#f3821e"/>
<rect x="342.08" y="125.70" width="6.18" height="4.58" fill="#e1e12d"/>
<rect x="347.66" y="125.70" width="34.09" height="4.58" fill="#f5aa23"/>
<rect x="381.15" y="125.70" width="6.18" height="4.58" fill="#ee5a23"/>
<rect x="386.74" y="125.70" width="11.76" height="4.58" fill="#f5aa23"/>
<rect x="397.90" y="125.70" width="6.18" height="4.58" fill="#f5aaa0"/>
<rect x="403.48" y="125.70" width="39.68" height="4.58" fill="#3ca037"/>
<rect x="442.56" y="125.70" width="6.18" height="4.58" fill="#969696"/>
<rect x="448.14" y="125.70" width="44.66" height="4.58" fill="#f5aaa0"/>
<rect x="303.00" y="129.68" width="11.76" height="4.58" fill="#e1e12d"/>
<rect x="314.16" y="129.68" width="11.76" height="4.58" fill="#a5d22d"/>
<rect x="325.33" y="129.68" width="6.18" height="4.58" fill="#e1e12d"/>
<rect x="330.91" y="129.68" width="6.18" height="4.58" fill="#a5d22d"/>
<rect x="336.49" y="129.68" width="6.18" height="4.58" fill="#e1e12d"/>
<rect x="342.08" y="129.68" width="6.18" height="4.58" fill="#a5d22d"/>
<rect x="347.66" y="129.68" width="6.18" height="4.58" fill="#e1e12d"/>
<rect x="353.24" y="129.68" width="6.18" height="4.58" fill="#f5cd28"/>
<rect x="358.82" y="129.68" width="6.18" height="4.58" fill="#e1e12d"/>
<rect x="364.41" y="129.68" width="6.18" height="4.58" fill="#f5cd28"/>
<rect x="369.99" y="129.68" width="6.18" height="4.58" fill="#3ca037"/>
<rect x="375.57" y="129.68" width="6.18" height="4.58" fill="#e1e12d"/>
<rect x="381.15" y="129.68" width="6.18" height="4.58" fill="#f3821e"/>
<rect x="386.74" y="129.68" width="17.35" height="4.58" fill="#e1e12d"/>
<rect x="403.48" y="129.68" width="6.18" height="4.58" fill="#3ca037"/>
<rect x="409.06" y="129.68" width="6.18" height="4.58" fill="#a5d22d"/>
<rect x="414.65" y="129.68" width="6.18" height="4.58" fill="#e1e12d"/>
<rect x="420.23" y="129.68" width="6.18" height="4.58" fill="#f5aa23"/>
<rect x="425.81" y="129.68" width="6.18" height="4.58" fill="#3ca037"/>
<rect x="431.39" y="129.68" width="6.18" height="4.58" fill="#f5cd28"/>
<rect x="436.98" y="129.68" width="11.76" height="4.58" fill="#3ca037"/>
<rect x="448.14" y="129.68" width="6.18" height="4.58" fill="#f5cd28"/>
<rect x="453.72" y="129.68" width="6.18" height="4.58" fill="#f5aaa0"/>
<rect x="459.31" y="129.68" width="6.18" height="4.58" fill="#f5aa23"/>
<rect x="464.89" y="129.68" width="6.18" height="4.58" fill="#f5aaa0"/>
<rect x="470.47" y="129.68" width="6.18" height="4.58" fill="#f5cd28"/>
<rect x="476.05" y="129.68" width="6.18" height="4.58" fill="#f5aaa0"/>
<rect x="481.64" y="129.68" width="6.18" height="4.58" fill="#e1e12d"/>
<rect x="487.22" y="129.68" width="5.58" height="4.58" fill="#f5aa23"/>
<rect x="303.00" y="133.67" width="6.18" height="4.58" fill="#a5d22d"/>
<rect x="308.58" y="133.67" width="6.18" height="4.58" fill="#969696"/>
<rect x="314.16" y="133.67" width="6.18" height="4.58" fill="#f3821e"/>
<rect x="319.75" y="133.67" width="22.93" height="4.58" fill="#ee5a23"/>
<rect x="342.08" y="133.67" width="6.18" height="4.58" fill="#f3821e"/>
<rect x="347.66" y="133.67" width="11.76" height="4.58" fill="#ee5a23"/>
<rect x="358.82" y="133.67" width="6.18" height="4.58" fill="#e42d23"/>
<rect x="364.41" y="133.67" width="6.18" height="4.58" fill="#ee5a23"/>
<rect x="369.99" y="133.67" width="6.18" height="4.58" fill="#f5cd28"/>
<rect x="375.57" y="133.67" width="6.18" height="4.58" fill="#f3821e"/>
<rect x="381.15" y="133.67" width="6.18" height="4.58" fill="#e42d23"/>
<rect x="386.74" y="133.67" width="6.18" height="4.58" fill="#e1e12d"/>
<rect x="392.32" y="133.67" width="6.18" height="4.58" fill="#a5d22d"/>
<rect x="397.90" y="133.67" width="6.18" height="4.58" fill="#f5cd28"/>
<rect x="403.48" y="133.67" width="11.76" height="4.58" fill="#3ca037"/>
<rect x="414.65" y="133.67" width="11.76" height="4.58" fill="#a5d22d"/>
<rect x="425.81" y="133.67" width="17.35" height="4.58" fill="#3ca037"/>
<rect x="442.56" y="133.67" width="6.18" height="4.58" fill="#e1e12d"/>
<rect x="448.14" y="133.67" width="6.18" height="4.58" fill="#e42d23"/>
<rect x="453.72" y="133.67" width="6.18" height="4.58" fill="#ee5a23"/>
<rect x="459.31" y="133.67" width="6.18" height="4.58" fill="#e42d23"/>
<rect x="464.89" y="133.67" width="6.18" height="4.58" fill="#ee5a23"/>
<rect x="470.47" y="133.67" width="6.18" height="4.58" fill="#f5aaa0"/>
<rect x="476.05" y="133.67" width="11.76" height="4.58" fill="#e42d23"/>
<rect x="487.22" y="133.67" width="5.58" height="4.58" fill="#ee5a23"/>
<rect x="303.00" y="137.65" width="6.18" height="4.58" fill="#f5cd28"/>
<rect x="308.58" y="137.65" width="6.18" height="4.58" fill="#f3821e"/>
<rect x="314.16" y="137.65" width="28.51" height="4.58" fill="#ee5a23"/>
<rect x="342.08" y="137.65" width="6.18" height="4.58" fill="#f3821e"/>
<rect x="347.66" y="137.65" width="6.18" height="4.58" fill="#f5aaa0"/>
<rect x="353.24" y="137.65" width="17.35" height="4.58" fill="#e42d23"/>
<rect x="369.99" y="137.65" width="6.18" height="4.58" fill="#e1e12d"/>
<rect x="375.57" y="137.65" width="6.18" height="4.58" fill="#f5aaa0"/>
<rect x="381.15" y="137.65" width="6.18" height="4.58" fill="#e42d23"/>
<rect x="386.74" y="137.65" width="6.18" height="4.58" fill="#a5d22d"/>
<rect x="392.32" y="137.65" width="6.18" height="4.58" fill="#e1e12d"/>
<rect x="397.90" y="137.65" width="6.18" height="4.58" fill="#f3821e"/>
<rect x="403.48" y="137.65" width="6.18" height="4.58" fill="#e1e12d"/>
<rect x="409.06" y="137.65" width="6.18" height="4.58" fill="#f3821e"/>
<rect x="414.65" y="137.65" width="6.18" height="4.58" fill="#ee5a23"/>
<rect x="420.23" y="137.65" width="6.18" height="4.58" fill="#e1e12d"/>
<rect x="425.81" y="137.65" width="6.18" height="4.58" fill="#a5d22d"/>
<rect x="431.39" y="137.65" width="11.76" height="4.58" fill="#e1e12d"/>
<rect x="442.56" y="137.65" width="6.18" height="4.58" fill="#cdcdc8"/>
<rect x="448.14" y="137.65" width="11.76" height="4.58" fill="#e42d23"/>
<rect x="459.31" y="137.65" width="6.18" height="4.58" fill="#f5aaa0"/>
<rect x="464.89" y="137.65" width="11.76" height="4.58" fill="#e42d23"/>
<rect x="476.05" y="137.65" width="6.18" height="4.58" fill="#f5aaa0"/>
<rect x="481.64" y="137.65" width="6.18" height="4.58" fill="#e42d23"/>
<rect x="487.22" y="137.65" width="5.58" height="4.58" fill="#f5aa23"/>
<rect x="303.00" y="141.63" width="6.18" height="4.58" fill="#6eb932"/>
<rect x="308.58" y="141.63" width="6.18" height="4.58" fill="#3ca037"/>
<rect x="314.16" y="141.63" width="6.18" height="4.58" fill="#a5d22d"/>
<rect x="319.75" y="141.63" width="28.51" height="4.58" fill="#238c41"/>
<rect x="347.66" y="141.63" width="6.18" height="4.58" fill="#cdcdc8"/>
<rect x="353.24" y="141.63" width="17.35" height="4.58" fill="#238c41"/>
<rect x="369.99" y="141.63" width="6.18" height="4.58" fill="#3ca037"/>
<rect x="375.57" y="141.63" width="6.18" height="4.58" fill="#969696"/>
<rect x="381.15" y="141.63" width="6.18" height="4.58" fill="#3ca037"/>
<rect x="386.74" y="141.63" width="6.18" height="4.58" fill="#969696"/>
<rect x="392.32" y="141.63" width="6.18" height="4.58" fill="#6eb932"/>
<rect x="397.90" y="141.63" width="6.18" height="4.58" fill="#969696"/>
<rect x="403.48" y="141.63" width="39.68" height="4.58" fill="#238c41"/>
<rect x="442.56" y="141.63" width="11.76" height="4.58" fill="#969696"/>
<rect x="453.72" y="141.63" width="34.09" height="4.58" fill="#3ca037"/>
<rect x="487.22" y="141.63" width="5.58" height="4.58" fill="#969696"/>
<rect x="303.00" y="145.61" width="6.18" height="4.58" fill="#6eb932"/>
<rect x="308.58" y="145.61" width="6.18" height="4.58" fill="#969696"/>
<rect x="314.16" y="145.61" width="6.18" height="4.58" fill="#3ca037"/>
<rect x="319.75" y="145.61" width="28.51" height="4.58" fill="#238c41"/>
<rect x="347.66" y="145.61" width="6.18" height="4.58" fill="#969696"/>
<rect x="353.24" y="145.61" width="11.76" height="4.58" fill="#238c41"/>
<rect x="364.41" y="145.61" width="11.76" height="4.58" fill="#3ca037"/>
<rect x="375.57" y="145.61" width="6.18" height="4.58" fill="#969696"/>
<rect x="381.15" y="145.61" width="6.18" height="4.58" fill="#3ca037"/>
<rect x="386.74" y="145.61" width="17.35" height="4.58" fill="#969696"/>
<rect x="403.48" y="145.61" width="39.68" height="4.58" fill="#238c41"/>
<rect x="442.56" y="145.61" width="28.51" height="4.58" fill="#969696"/>
<rect x="470.47" y="145.61" width="6.18" height="4.58" fill="#3ca037"/>
<rect x="476.05" y="145.61" width="16.75" height="4.58" fill="#969696"/>
<rect x="303.00" y="149.59" width="6.18" height="4.58" fill="#969696"/>
<rect x="308.58" y="149.59" width="6.18" height="4.58" fill="#6eb932"/>
<rect x="314.16" y="149.59" width="6.18" height="4.58" fill="#a5d22d"/>
<rect x="319.75" y="149.59" width="28.51" height="4.58" fill="#238c41"/>
<rect x="347.66" y="149.59" width="6.18" height="4.58" fill="#969696"/>
<rect x="353.24" y="149.59" width="17.35" height="4.58" fill="#238c41"/>
<rect x="369.99" y="149.59" width="6.18" height="4.58" fill="#3ca037"/>
<rect x="375.57" y="149.59" width="6.18" height="4.58" fill="#969696"/>
<rect x="381.15" y="149.59" width="6.18" height="4.58" fill="#6eb932"/>
<rect x="386.74" y="149.59" width="6.18" height="4.58" fill="#969696"/>
<rect x="392.32" y="149.59" width="6.18" height="4.58" fill="#a5d22d"/>
<rect x="397.90" y="149.59" width="6.18" height="4.58" fill="#969696"/>
<rect x="403.48" y="149.59" width="39.68" height="4.58" fill="#238c41"/>
<rect x="442.56" y="149.59" width="6.18" height="4.58" fill="#cdcdc8"/>
<rect x="448.14" y="149.59" width="39.68" height="4.58" fill="#3ca037"/>
<rect x="487.22" y="149.59" width="5.58" height="4.58" fill="#969696"/>
<rect x="303.00" y="153.57" width="6.18" height="4.58" fill="#3ca037"/>
<rect x="308.58" y="153.57" width="6.18" height="4.58" fill="#969696"/>
<rect x="314.16" y="153.57" width="6.18" height="4.58" fill="#6eb932"/>
<rect x="319.75" y="153.57" width="28.51" height="4.58" fill="#238c41"/>
<rect x="347.66" y="153.57" width="6.18" height="4.58" fill="#3ca037"/>
<rect x="353.24" y="153.57" width="17.35" height="4.58" fill="#238c41"/>
<rect x="369.99" y="153.57" width="6.18" height="4.58" fill="#3ca037"/>
<rect x="375.57" y="153.57" width="6.18" height="4.58" fill="#cdcdc8"/>
<rect x="381.15" y="153.57" width="6.18" height="4.58" fill="#3ca037"/>
<rect x="386.74" y="153.57" width="17.35" height="4.58" fill="#969696"/>
<rect x="403.48" y="153.57" width="39.68" height="4.58" fill="#238c41"/>
<rect x="442.56" y="153.57" width="11.76" height="4.58" fill="#969696"/>
<rect x="453.72" y="153.57" width="28.51" height="4.58" fill="#3ca037"/>
<rect x="481.64" y="153.57" width="6.18" height="4.58" fill="#cdcdc8"/>
<rect x="487.22" y="153.57" width="5.58" height="4.58" fill="#969696"/>
<rect x="303.00" y="157.55" width="6.18" height="4.58" fill="#6eb932"/>
<rect x="308.58" y="157.55" width="6.18" height="4.58" fill="#969696"/>
<rect x="314.16" y="157.55" width="6.18" height="4.58" fill="#3ca037"/>
<rect x="319.75" y="157.55" width="28.51" height="4.58" fill="#238c41"/>
<rect x="347.66" y="157.55" width="6.18" height="4.58" fill="#969696"/>
<rect x="353.24" y="157.55" width="11.76" height="4.58" fill="#238c41"/>
<rect x="364.41" y="157.55" width="11.76" height="4.58" fill="#3ca037"/>
<rect x="375.57" y="157.55" width="6.18" height="4.58" fill="#969696"/>
<rect x="381.15" y="157.55" width="6.18" height="4.58" fill="#6eb932"/>
<rect x="386.74" y="157.55" width="6.18" height="4.58" fill="#969696"/>
<rect x="392.32" y="157.55" width="6.18" height="4.58" fill="#3ca037"/>
<rect x="397.90" y="157.55" width="6.18" height="4.58" fill="#969696"/>
<rect x="403.48" y="157.55" width="39.68" height="4.58" fill="#238c41"/>
<rect x="442.56" y="157.55" width="22.93" height="4.58" fill="#969696"/>
<rect x="464.89" y="157.55" width="6.18" height="4.58" fill="#3ca037"/>
<rect x="470.47" y="157.55" width="22.33" height="4.58" fill="#969696"/>
<rect x="303.00" y="161.53" width="6.18" height="4.58" fill="#969696"/>
<rect x="308.58" y="161.53" width="6.18" height="4.58" fill="#a5d22d"/>
<rect x="314.16" y="161.53" width="6.18" height="4.58" fill="#6eb932"/>
<rect x="319.75" y="161.53" width="11.76" height="4.58" fill="#238c41"/>
<rect x="330.91" y="161.53" width="11.76" height="4.58" fill="#a5d22d"/>
<rect x="342.08" y="161.53" width="6.18" height="4.58" fill="#238c41"/>
<rect x="347.66" y="161.53" width="6.18" height="4.58" fill="#969696"/>
<rect x="353.24" y="161.53" width="6.18" height="4.58" fill="#3ca037"/>
<rect x="358.82" y="161.53" width="6.18" height="4.58" fill="#238c41"/>
<rect x="364.41" y="161.53" width="11.76" height="4.58" fill="#3ca037"/>
<rect x="375.57" y="161.53" width="6.18" height="4.58" fill="#969696"/>
<rect x="381.15" y="161.53" width="6.18" height="4.58" fill="#a5d22d"/>
<rect x="386.74" y="161.53" width="17.35" height="4.58" fill="#969696"/>
<rect x="403.48" y="161.53" width="39.68" height="4.58" fill="#238c41"/>
<rect x="442.56" y="161.53" width="6.18" height="4.58" fill="#cdcdc8"/>
<rect x="448.14" y="161.53" width="6.18" height="4.58" fill="#969696"/>
<rect x="453.72" y="161.53" width="6.18" height="4.58" fill="#f3821e"/>
<rect x="459.31" y="161.53" width="6.18" height="4.58" fill="#ee5a23"/>
<rect x="464.89" y="161.53" width="6.18" height="4.58" fill="#969696"/>
<rect x="470.47" y="161.53" width="6.18" height="4.58" fill="#e42d23"/>
<rect x="476.05" y="161.53" width="6.18" height="4.58" fill="#969696"/>
<rect x="481.64" y="161.53" width="6.18" height="4.58" fill="#e1e12d"/>
<rect x="487.22" y="161.53" width="5.58" height="4.58" fill="#969696"/>
<rect x="303.00" y="165.52" width="6.18" height="4.58" fill="#3ca037"/>
<rect x="308.58" y="165.52" width="6.18" height="4.58" fill="#969696"/>
<rect x="314.16" y="165.52" width="6.18" height="4.58" fill="#3ca037"/>
<rect x="319.75" y="165.52" width="28.51" height="4.58" fill="#238c41"/>
<rect x="347.66" y="165.52" width="6.18" height="4.58" fill="#969696"/>
<rect x="353.24" y="165.52" width="17.35" height="4.58" fill="#238c41"/>
<rect x="369.99" y="165.52" width="6.18" height="4.58" fill="#3ca037"/>
<rect x="375.57" y="165.52" width="6.18" height="4.58" fill="#969696"/>
<rect x="381.15" y="165.52" width="6.18" height="4.58" fill="#3ca037"/>
<rect x="386.74" y="165.52" width="6.18" height="4.58" fill="#969696"/>
<rect x="392.32" y="165.52" width="6.18" height="4.58" fill="#a5d22d"/>
<rect x="397.90" y="165.52" width="6.18" height="4.58" fill="#969696"/>
<rect x="403.48" y="165.52" width="39.68" height="4.58" fill="#238c41"/>
<rect x="442.56" y="165.52" width="11.76" height="4.58" fill="#969696"/>
<rect x="453.72" y="165.52" width="28.51" height="4.58" fill="#3ca037"/>
<rect x="481.64" y="165.52" width="11.16" height="4.58" fill="#969696"/>
<rect x="303.00" y="169.50" width="6.18" height="4.58" fill="#6eb932"/>
<rect x="308.58" y="169.50" width="6.18" height="4.58" fill="#969696"/>
<rect x="314.16" y="169.50" width="6.18" height="4.58" fill="#6eb932"/>
<rect x="319.75" y="169.50" width="28.51" height="4.58" fill="#238c41"/>
<rect x="347.66" y="169.50" width="6.18" height="4.58" fill="#969696"/>
<rect x="353.24" y="169.50" width="11.76" height="4.58" fill="#238c41"/>
<rect x="364.41" y="169.50" width="11.76" height="4.58" fill="#3ca037"/>
<rect x="375.57" y="169.50" width="6.18" height="4.58" fill="#969696"/>
<rect x="381.15" y="169.50" width="6.18" height="4.58" fill="#6eb932"/>
<rect x="386.74" y="169.50" width="17.35" height="4.58" fill="#969696"/>
<rect x="403.48" y="169.50" width="39.68" height="4.58" fill="#238c41"/>
<rect x="442.56" y="169.50" width="17.35" height="4.58" fill="#969696"/>
<rect x="459.31" y="169.50" width="6.18" height="4.58" fill="#3ca037"/>
<rect x="464.89" y="169.50" width="6.18" height="4.58" fill="#e1e12d"/>
<rect x="470.47" y="169.50" width="6.18" height="4.58" fill="#969696"/>
<rect x="476.05" y="169.50" width="6.18" height="4.58" fill="#f3821e"/>
<rect x="481.64" y="169.50" width="11.16" height="4.58" fill="#969696"/>
<rect x="303.00" y="173.48" width="6.18" height="4.58" fill="#969696"/>
<rect x="308.58" y="173.48" width="6.18" height="4.58" fill="#3ca037"/>
<rect x="314.16" y="173.48" width="6.18" height="4.58" fill="#6eb932"/>
<rect x="319.75" y="173.48" width="28.51" height="4.58" fill="#238c41"/>
<rect x="347.66" y="173.48" width="6.18" height="4.58" fill="#969696"/>
<rect x="353.24" y="173.48" width="17.35" height="4.58" fill="#238c41"/>
<rect x="369.99" y="173.48" width="6.18" height="4.58" fill="#3ca037"/>
<rect x="375.57" y="173.48" width="6.18" height="4.58" fill="#969696"/>
<rect x="381.15" y="173.48" width="6.18" height="4.58" fill="#3ca037"/>
<rect x="386.74" y="173.48" width="6.18" height="4.58" fill="#969696"/>
<rect x="392.32" y="173.48" width="6.18" height="4.58" fill="#a5d22d"/>
<rect x="397.90" y="173.48" width="6.18" height="4.58" fill="#969696"/>
<rect x="403.48" y="173.48" width="39.68" height="4.58" fill="#238c41"/>
<rect x="442.56" y="173.48" width="6.18" height="4.58" fill="#969696"/>
<rect x="448.14" y="173.48" width="6.18" height="4.58" fill="#e1e12d"/>
<rect x="453.72" y="173.48" width="6.18" height="4.58" fill="#3ca037"/>
<rect x="459.31" y="173.48" width="6.18" height="4.58" fill="#969696"/>
<rect x="464.89" y="173.48" width="17.35" height="4.58" fill="#3ca037"/>
<rect x="481.64" y="173.48" width="6.18" height="4.58" fill="#969696"/>
<rect x="487.22" y="173.48" width="5.58" height="4.58" fill="#e1e12d"/>
<rect x="303.00" y="177.46" width="6.18" height="4.58" fill="#969696"/>
<rect x="308.58" y="177.46" width="6.18" height="4.58" fill="#3ca037"/>
<rect x="314.16" y="177.46" width="6.18" height="4.58" fill="#969696"/>
<rect x="319.75" y="177.46" width="28.51" height="4.58" fill="#238c41"/>
<rect x="347.66" y="177.46" width="6.18" height="4.58" fill="#969696"/>
<rect x="353.24" y="177.46" width="17.35" height="4.58" fill="#238c41"/>
<rect x="369.99" y="177.46" width="6.18" height="4.58" fill="#3ca037"/>
<rect x="375.57" y="177.46" width="6.18" height="4.58" fill="#969696"/>
<rect x="381.15" y="177.46" width="6.18" height="4.58" fill="#3ca037"/>
<rect x="386.74" y="177.46" width="17.35" height="4.58" fill="#969696"/>
<rect x="403.48" y="177.46" width="39.68" height="4.58" fill="#238c41"/>
<rect x="442.56" y="177.46" width="17.35" height="4.58" fill="#969696"/>
<rect x="459.31" y="177.46" width="6.18" height="4.58" fill="#cdcdc8"/>
<rect x="464.89" y="177.46" width="17.35" height="4.58" fill="#969696"/>
<rect x="481.64" y="177.46" width="6.18" height="4.58" fill="#3ca037"/>
<rect x="487.22" y="177.46" width="5.58" height="4.58" fill="#969696"/>
<rect x="303.00" y="181.44" width="6.18" height="4.58" fill="#3ca037"/>
<rect x="308.58" y="181.44" width="6.18" height="4.58" fill="#969696"/>
<rect x="314.16" y="181.44" width="6.18" height="4.58" fill="#3ca037"/>
<rect x="319.75" y="181.44" width="28.51" height="4.58" fill="#238c41"/>
<rect x="347.66" y="181.44" width="6.18" height="4.58" fill="#3ca037"/>
<rect x="353.24" y="181.44" width="17.35" height="4.58" fill="#238c41"/>
<rect x="369.99" y="181.44" width="11.76" height="4.58" fill="#3ca037"/>
<rect x="381.15" y="181.44" width="11.76" height="4.58" fill="#969696"/>
<rect x="392.32" y="181.44" width="6.18" height="4.58" fill="#3ca037"/>
<rect x="397.90" y="181.44" width="6.18" height="4.58" fill="#969696"/>
<rect x="403.48" y="181.44" width="39.68" height="4.58" fill="#238c41"/>
<rect x="442.56" y="181.44" width="11.76" height="4.58" fill="#969696"/>
<rect x="453.72" y="181.44" width="11.76" height="4.58" fill="#3ca037"/>
<rect x="464.89" y="181.44" width="6.18" height="4.58" fill="#a5d22d"/>
<rect x="470.47" y="181.44" width="6.18" height="4.58" fill="#3ca037"/>
<rect x="476.05" y="181.44" width="6.18" height="4.58" fill="#cdcdc8"/>
<rect x="481.64" y="181.44" width="6.18" height="4.58" fill="#3ca037"/>
<rect x="487.22" y="181.44" width="5.58" height="4.58" fill="#969696"/>
<rect x="303.00" y="185.42" width="6.18" height="4.58" fill="#969696"/>
<rect x="308.58" y="185.42" width="6.18" height="4.58" fill="#3ca037"/>
<rect x="314.16" y="185.42" width="6.18" height="4.58" fill="#969696"/>
<rect x="319.75" y="185.42" width="28.51" height="4.58" fill="#238c41"/>
<rect x="347.66" y="185.42" width="6.18" height="4.58" fill="#969696"/>
<rect x="353.24" y="185.42" width="17.35" height="4.58" fill="#238c41"/>
<rect x="369.99" y="185.42" width="6.18" height="4.58" fill="#3ca037"/>
<rect x="375.57" y="185.42" width="6.18" height="4.58" fill="#969696"/>
<rect x="381.15" y="185.42" width="6.18" height="4.58" fill="#3ca037"/>
<rect x="386.74" y="185.42" width="17.35" height="4.58" fill="#969696"/>
<rect x="403.48" y="185.42" width="11.76" height="4.58" fill="#238c41"/>
<rect x="414.65" y="185.42" width="6.18" height="4.58" fill="#3ca037"/>
<rect x="420.23" y="185.42" width="22.93" height="4.58" fill="#238c41"/>
<rect x="442.56" y="185.42" width="28.51" height="4.58" fill="#969696"/>
<rect x="470.47" y="185.42" width="6.18" height="4.58" fill="#3ca037"/>
<rect x="476.05" y="185.42" width="6.18" height="4.58" fill="#969696"/>
<rect x="481.64" y="185.42" width="6.18" height="4.58" fill="#cdcdc8"/>
<rect x="487.22" y="185.42" width="5.58" height="4.58" fill="#969696"/>
<rect x="303.00" y="189.40" width="6.18" height="4.58" fill="#f3821e"/>
<rect x="308.58" y="189.40" width="6.18" height="4.58" fill="#969696"/>
<rect x="314.16" y="189.40" width="6.18" height="4.58" fill="#3ca037"/>
<rect x="319.75" y="189.40" width="28.51" height="4.58" fill="#238c41"/>
<rect x="347.66" y="189.40" width="6.18" height="4.58" fill="#969696"/>
<rect x="353.24" y="189.40" width="22.93" height="4.58" fill="#238c41"/>
<rect x="375.57" y="189.40" width="6.18" height="4.58" fill="#969696"/>
<rect x="381.15" y="189.40" width="6.18" height="4.58" fill="#e1e12d"/>
<rect x="386.74" y="189.40" width="6.18" height="4.58" fill="#969696"/>
<rect x="392.32" y="189.40" width="6.18" height="4.58" fill="#3ca037"/>
<rect x="397.90" y="189.40" width="6.18" height="4.58" fill="#ee5a23"/>
<rect x="403.48" y="189.40" width="39.68" height="4.58" fill="#3ca037"/>
<rect x="442.56" y="189.40" width="6.18" height="4.58" fill="#969696"/>
<rect x="448.14" y="189.40" width="11.76" height="4.58" fill="#e42d23"/>
<rect x="459.31" y="189.40" width="6.18" height="4.58" fill="#e1e12d"/>
<rect x="464.89" y="189.40" width="6.18" height="4.58" fill="#a5d22d"/>
<rect x="470.47" y="189.40" width="6.18" height="4.58" fill="#969696"/>
<rect x="476.05" y="189.40" width="6.18" height="4.58" fill="#3ca037"/>
<rect x="481.64" y="189.40" width="6.18" height="4.58" fill="#969696"/>
<rect x="487.22" y="189.40" width="5.58" height="4.58" fill="#f5aa23"/>
<rect x="303.00" y="193.39" width="6.18" height="4.58" fill="#969696"/>
<rect x="308.58" y="193.39" width="6.18" height="4.58" fill="#3ca037"/>
<rect x="314.16" y="193.39" width="84.34" height="4.58" fill="#a5d22d"/>
<rect x="397.90" y="193.39" width="6.18" height="4.58" fill="#f3821e"/>
<rect x="403.48" y="193.39" width="6.18" height="4.58" fill="#238c41"/>
<rect x="409.06" y="193.39" width="6.18" height="4.58" fill="#3ca037"/>
<rect x="414.65" y="193.39" width="17.35" height="4.58" fill="#238c41"/>
<rect x="431.39" y="193.39" width="6.18" height="4.58" fill="#3ca037"/>
<rect x="436.98" y="193.39" width="6.18" height="4.58" fill="#238c41"/>
<rect x="442.56" y="193.39" width="6.18" height="4.58" fill="#969696"/>
<rect x="448.14" y="193.39" width="11.76" height="4.58" fill="#e42d23"/>
<rect x="459.31" y="193.39" width="6.18" height="4.58" fill="#e1e12d"/>
<rect x="464.89" y="193.39" width="6.18" height="4.58" fill="#a5d22d"/>
<rect x="470.47" y="193.39" width="6.18" height="4.58" fill="#969696"/>
<rect x="476.05" y="193.39" width="6.18" height="4.58" fill="#3ca037"/>
<rect x="481.64" y="193.39" width="6.18" height="4.58" fill="#969696"/>
<rect x="487.22" y="193.39" width="5.58" height="4.58" fill="#ee5a23"/>
<rect x="303.00" y="197.37" width="6.18" height="4.58" fill="#3ca037"/>
<rect x="308.58" y="197.37" width="6.18" height="4.58" fill="#969696"/>
<rect x="314.16" y="197.37" width="6.18" height="4.58" fill="#3ca037"/>
<rect x="319.75" y="197.37" width="28.51" height="4.58" fill="#238c41"/>
<rect x="347.66" y="197.37" width="6.18" height="4.58" fill="#969696"/>
<rect x="353.24" y="197.37" width="22.93" height="4.58" fill="#238c41"/>
<rect x="375.57" y="197.37" width="6.18" height="4.58" fill="#969696"/>
<rect x="381.15" y="197.37" width="6.18" height="4.58" fill="#3ca037"/>
<rect x="386.74" y="197.37" width="17.35" height="4.58" fill="#969696"/>
<rect x="403.48" y="197.37" width="39.68" height="4.58" fill="#238c41"/>
<rect x="442.56" y="197.37" width="6.18" height="4.58" fill="#cdcdc8"/>
<rect x="448.14" y="197.37" width="11.76" height="4.58" fill="#f3821e"/>
<rect x="459.31" y="197.37" width="11.76" height="4.58" fill="#3ca037"/>
<rect x="470.47" y="197.37" width="6.18" height="4.58" fill="#969696"/>
<rect x="476.05" y="197.37" width="6.18" height="4.58" fill="#3ca037"/>
<rect x="481.64" y="197.37" width="6.18" height="4.58" fill="#969696"/>
<rect x="487.22" y="197.37" width="5.58" height="4.58" fill="#a5d22d"/>
<rect x="303.00" y="201.35" width="6.18" height="4.58" fill="#3ca037"/>
<rect x="308.58" y="201.35" width="6.18" height="4.58" fill="#969696"/>
<rect x="314.16" y="201.35" width="6.18" height="4.58" fill="#3ca037"/>
<rect x="319.75" y="201.35" width="56.42" height="4.58" fill="#238c41"/>
<rect x="375.57" y="201.35" width="28.51" height="4.58" fill="#3ca037"/>
<rect x="403.48" y="201.35" width="39.68" height="4.58" fill="#238c41"/>
<rect x="442.56" y="201.35" width="6.18" height="4.58" fill="#969696"/>
<rect x="448.14" y="201.35" width="6.18" height="4.58" fill="#e42d23"/>
<rect x="453.72" y="201.35" width="6.18" height="4.58" fill="#f3821e"/>
<rect x="459.31" y="201.35" width="6.18" height="4.58" fill="#969696"/>
<rect x="464.89" y="201.35" width="6.18" height="4.58" fill="#3ca037"/>
<rect x="470.47" y="201.35" width="6.18" height="4.58" fill="#969696"/>
<rect x="476.05" y="201.35" width="6.18" height="4.58" fill="#3ca037"/>
<rect x="481.64" y="201.35" width="6.18" height="4.58" fill="#a5d22d"/>
<rect x="487.22" y="201.35" width="5.58" height="4.58" fill="#3ca037"/>
<rect x="303.00" y="205.33" width="6.18" height="4.58" fill="#969696"/>
<rect x="308.58" y="205.33" width="6.18" height="4.58" fill="#6eb932"/>
<rect x="314.16" y="205.33" width="6.18" height="4.58" fill="#3ca037"/>
<rect x="319.75" y="205.33" width="56.42" height="4.58" fill="#238c41"/>
<rect x="375.57" y="205.33" width="6.18" height="4.58" fill="#3ca037"/>
<rect x="381.15" y="205.33" width="6.18" height="4.58" fill="#e1e12d"/>
<rect x="386.74" y="205.33" width="6.18" height="4.58" fill="#969696"/>
<rect x="392.32" y="205.33" width="11.76" height="4.58" fill="#3ca037"/>
<rect x="403.48" y="205.33" width="39.68" height="4.58" fill="#238c41"/>
<rect x="442.56" y="205.33" width="6.18" height="4.58" fill="#cdcdc8"/>
<rect x="448.14" y="205.33" width="6.18" height="4.58" fill="#e42d23"/>
<rect x="453.72" y="205.33" width="6.18" height="4.58" fill="#f3821e"/>
<rect x="459.31" y="205.33" width="6.18" height="4.58" fill="#3ca037"/>
<rect x="464.89" y="205.33" width="6.18" height="4.58" fill="#969696"/>
<rect x="470.47" y="205.33" width="6.18" height="4.58" fill="#3ca037"/>
<rect x="476.05" y="205.33" width="6.18" height="4.58" fill="#969696"/>
<rect x="481.64" y="205.33" width="6.18" height="4.58" fill="#3ca037"/>
<rect x="487.22" y="205.33" width="5.58" height="4.58" fill="#969696"/>
<rect x="303.00" y="209.31" width="6.18" height="4.58" fill="#3ca037"/>
<rect x="308.58" y="209.31" width="6.18" height="4.58" fill="#969696"/>
<rect x="314.16" y="209.31" width="34.09" height="4.58" fill="#238c41"/>
<rect x="347.66" y="209.31" width="6.18" height="4.58" fill="#3ca037"/>
<rect x="353.24" y="209.31" width="22.93" height="4.58" fill="#238c41"/>
<rect x="375.57" y="209.31" width="6.18" height="4.58" fill="#969696"/>
<rect x="381.15" y="209.31" width="11.76" height="4.58" fill="#3ca037"/>
<rect x="392.32" y="209.31" width="11.76" height="4.58" fill="#969696"/>
<rect x="403.48" y="209.31" width="39.68" height="4.58" fill="#238c41"/>
<rect x="442.56" y="209.31" width="6.18" height="4.58" fill="#969696"/>
<rect x="448.14" y="209.31" width="6.18" height="4.58" fill="#f3821e"/>
<rect x="453.72" y="209.31" width="6.18" height="4.58" fill="#f5aa23"/>
<rect x="459.31" y="209.31" width="6.18" height="4.58" fill="#969696"/>
<rect x="464.89" y="209.31" width="6.18" height="4.58" fill="#3ca037"/>
<rect x="470.47" y="209.31" width="6.18" height="4.58" fill="#969696"/>
<rect x="476.05" y="209.31" width="11.76" height="4.58" fill="#3ca037"/>
<rect x="487.22" y="209.31" width="5.58" height="4.58" fill="#969696"/>
<rect x="303.00" y="213.29" width="6.18" height="4.58" fill="#3ca037"/>
<rect x="308.58" y="213.29" width="11.76" height="4.58" fill="#969696"/>
<rect x="319.75" y="213.29" width="28.51" height="4.58" fill="#238c41"/>
<rect x="347.66" y="213.29" width="6.18" height="4.58" fill="#969696"/>
<rect x="353.24" y="213.29" width="22.93" height="4.58" fill="#238c41"/>
<rect x="375.57" y="213.29" width="28.51" height="4.58" fill="#969696"/>
<rect x="403.48" y="213.29" width="6.18" height="4.58" fill="#3ca037"/>
<rect x="409.06" y="213.29" width="6.18" height="4.58" fill="#238c41"/>
<rect x="414.65" y="213.29" width="6.18" height="4.58" fill="#3ca037"/>
<rect x="420.23" y="213.29" width="6.18" height="4.58" fill="#238c41"/>
<rect x="425.81" y="213.29" width="6.18" height="4.58" fill="#3ca037"/>
<rect x="431.39" y="213.29" width="6.18" height="4.58" fill="#238c41"/>
<rect x="436.98" y="213.29" width="6.18" height="4.58" fill="#3ca037"/>
<rect x="442.56" y="213.29" width="11.76" height="4.58" fill="#969696"/>
<rect x="453.72" y="213.29" width="6.18" height="4.58" fill="#3ca037"/>
<rect x="459.31" y="213.29" width="6.18" height="4.58" fill="#969696"/>
<rect x="464.89" y="213.29" width="6.18" height="4.58" fill="#3ca037"/>
<rect x="470.47" y="213.29" width="11.76" height="4.58" fill="#969696"/>
<rect x="481.64" y="213.29" width="6.18" height="4.58" fill="#3ca037"/>
<rect x="487.22" y="213.29" width="5.58" height="4.58" fill="#969696"/>
<rect x="303.00" y="217.27" width="6.18" height="4.58" fill="#3ca037"/>
<rect x="308.58" y="217.27" width="6.18" height="4.58" fill="#969696"/>
<rect x="314.16" y="217.27" width="11.76" height="4.58" fill="#3ca037"/>
<rect x="325.33" y="217.27" width="11.76" height="4.58" fill="#238c41"/>
<rect x="336.49" y="217.27" width="11.76" height="4.58" fill="#3ca037"/>
<rect x="347.66" y="217.27" width="6.18" height="4.58" fill="#969696"/>
<rect x="353.24" y="217.27" width="22.93" height="4.58" fill="#3ca037"/>
<rect x="375.57" y="217.27" width="6.18" height="4.58" fill="#969696"/>
<rect x="381.15" y="217.27" width="6.18" height="4.58" fill="#3ca037"/>
<rect x="386.74" y="217.27" width="17.35" height="4.58" fill="#969696"/>
<rect x="403.48" y="217.27" width="6.18" height="4.58" fill="#3ca037"/>
<rect x="409.06" y="217.27" width="6.18" height="4.58" fill="#238c41"/>
<rect x="414.65" y="217.27" width="17.35" height="4.58" fill="#3ca037"/>
<rect x="431.39" y="217.27" width="6.18" height="4.58" fill="#238c41"/>
<rect x="436.98" y="217.27" width="6.18" height="4.58" fill="#3ca037"/>
<rect x="442.56" y="217.27" width="11.76" height="4.58" fill="#969696"/>
<rect x="453.72" y="217.27" width="6.18" height="4.58" fill="#3ca037"/>
<rect x="459.31" y="217.27" width="11.76" height="4.58" fill="#969696"/>
<rect x="470.47" y="217.27" width="6.18" height="4.58" fill="#3ca037"/>
<rect x="476.05" y="217.27" width="6.18" height="4.58" fill="#969696"/>
<rect x="481.64" y="217.27" width="6.18" height="4.58" fill="#3ca037"/>
<rect x="487.22" y="217.27" width="5.58" height="4.58" fill="#969696"/>
<rect x="303.00" y="221.26" width="6.18" height="4.58" fill="#cdcdc8"/>
<rect x="308.58" y="221.26" width="6.18" height="4.58" fill="#e1e12d"/>
<rect x="314.16" y="221.26" width="62.01" height="4.58" fill="#a5d22d"/>
<rect x="375.57" y="221.26" width="6.18" height="4.58" fill="#cdcdc8"/>
<rect x="381.15" y="221.26" width="11.76" height="4.58" fill="#a5d22d"/>
<rect x="392.32" y="221.26" width="6.18" height="4.58" fill="#cdcdc8"/>
<rect x="397.90" y="221.26" width="11.76" height="4.58" fill="#a5d22d"/>
<rect x="409.06" y="221.26" width="6.18" height="4.58" fill="#e1e12d"/>
<rect x="414.65" y="221.26" width="6.18" height="4.58" fill="#a5d22d"/>
<rect x="420.23" y="221.26" width="6.18" height="4.58" fill="#e1e12d"/>
<rect x="425.81" y="221.26" width="6.18" height="4.58" fill="#a5d22d"/>
<rect x="431.39" y="221.26" width="6.18" height="4.58" fill="#e1e12d"/>
<rect x="436.98" y="221.26" width="6.18" height="4.58" fill="#a5d22d"/>
<rect x="442.56" y="221.26" width="6.18" height="4.58" fill="#cdcdc8"/>
<rect x="448.14" y="221.26" width="6.18" height="4.58" fill="#f5aaa0"/>
<rect x="453.72" y="221.26" width="6.18" height="4.58" fill="#cdcdc8"/>
<rect x="459.31" y="221.26" width="6.18" height="4.58" fill="#f5aaa0"/>
<rect x="464.89" y="221.26" width="6.18" height="4.58" fill="#cdcdc8"/>
<rect x="470.47" y="221.26" width="6.18" height="4.58" fill="#f5aaa0"/>
<rect x="476.05" y="221.26" width="6.18" height="4.58" fill="#cdcdc8"/>
<rect x="481.64" y="221.26" width="6.18" height="4.58" fill="#f5aaa0"/>
<rect x="487.22" y="221.26" width="5.58" height="4.58" fill="#cdcdc8"/>
<rect x="303.00" y="225.24" width="6.18" height="4.58" fill="#6eb932"/>
<rect x="308.58" y="225.24" width="22.93" height="4.58" fill="#3ca037"/>
<rect x="330.91" y="225.24" width="22.93" height="4.58" fill="#a5d22d"/>
<rect x="353.24" y="225.24" width="6.18" height="4.58" fill="#e1e12d"/>
<rect x="358.82" y="225.24" width="6.18" height="4.58" fill="#a5d22d"/>
<rect x="364.41" y="225.24" width="11.76" height="4.58" fill="#3ca037"/>
<rect x="375.57" y="225.24" width="6.18" height="4.58" fill="#969696"/>
<rect x="381.15" y="225.24" width="6.18" height="4.58" fill="#3ca037"/>
<rect x="386.74" y="225.24" width="6.18" height="4.58" fill="#969696"/>
<rect x="392.32" y="225.24" width="6.18" height="4.58" fill="#cdcdc8"/>
<rect x="397.90" y="225.24" width="11.76" height="4.58" fill="#3ca037"/>
<rect x="409.06" y="225.24" width="6.18" height="4.58" fill="#a5d22d"/>
<rect x="414.65" y="225.24" width="6.18" height="4.58" fill="#3ca037"/>
<rect x="420.23" y="225.24" width="6.18" height="4.58" fill="#a5d22d"/>
<rect x="425.81" y="225.24" width="6.18" height="4.58" fill="#3ca037"/>
<rect x="431.39" y="225.24" width="6.18" height="4.58" fill="#a5d22d"/>
<rect x="436.98" y="225.24" width="6.18" height="4.58" fill="#3ca037"/>
<rect x="442.56" y="225.24" width="6.18" height="4.58" fill="#cdcdc8"/>
<rect x="448.14" y="225.24" width="6.18" height="4.58" fill="#f5aa23"/>
<rect x="453.72" y="225.24" width="6.18" height="4.58" fill="#e1e12d"/>
<rect x="459.31" y="225.24" width="6.18" height="4.58" fill="#969696"/>
<rect x="464.89" y="225.24" width="6.18" height="4.58" fill="#a5d22d"/>
<rect x="470.47" y="225.24" width="6.18" height="4.58" fill="#969696"/>
<rect x="476.05" y="225.24" width="6.18" height="4.58" fill="#e1e12d"/>
<rect x="481.64" y="225.24" width="6.18" height="4.58" fill="#969696"/>
<rect x="487.22" y="225.24" width="5.58" height="4.58" fill="#a5d22d"/>
<rect x="303.00" y="229.22" width="6.18" height="4.58" fill="#cdcdc8"/>
<rect x="308.58" y="229.22" width="6.18" height="4.58" fill="#e1e12d"/>
<rect x="314.16" y="229.22" width="62.01" height="4.58" fill="#3ca037"/>
<rect x="375.57" y="229.22" width="22.93" height="4.58" fill="#969696"/>
<rect x="397.90" y="229.22" width="6.18" height="4.58" fill="#e42d23"/>
<rect x="403.48" y="229.22" width="6.18" height="4.58" fill="#e1e12d"/>
<rect x="409.06" y="229.22" width="6.18" height="4.58" fill="#3ca037"/>
<rect x="414.65" y="229.22" width="6.18" height="4.58" fill="#ee5a23"/>
<rect x="420.23" y="229.22" width="6.18" height="4.58" fill="#3ca037"/>
<rect x="425.81" y="229.22" width="6.18" height="4.58" fill="#a5d22d"/>
<rect x="431.39" y="229.22" width="6.18" height="4.58" fill="#e42d23"/>
<rect x="436.98" y="229.22" width="11.76" height="4.58" fill="#3ca037"/>
<rect x="448.14" y="229.22" width="22.93" height="4.58" fill="#e42d23"/>
<rect x="470.47" y="229.22" width="6.18" height="4.58" fill="#f3821e"/>
<rect x="476.05" y="229.22" width="6.18" height="4.58" fill="#f5aaa0"/>
<rect x="481.64" y="229.22" width="6.18" height="4.58" fill="#e42d23"/>
<rect x="487.22" y="229.22" width="5.58" height="4.58" fill="#a5d22d"/>
<rect x="303.00" y="233.20" width="11.76" height="4.58" fill="#f5aaa0"/>
<rect x="314.16" y="233.20" width="6.18" height="4.58" fill="#e42d23"/>
<rect x="319.75" y="233.20" width="11.76" height="4.58" fill="#ee5a23"/>
<rect x="330.91" y="233.20" width="6.18" height="4.58" fill="#e42d23"/>
<rect x="336.49" y="233.20" width="6.18" height="4.58" fill="#ee5a23"/>
<rect x="342.08" y="233.20" width="11.76" height="4.58" fill="#f3821e"/>
<rect x="353.24" y="233.20" width="11.76" height="4.58" fill="#e1e12d"/>
<rect x="364.41" y="233.20" width="6.18" height="4.58" fill="#ee5a23"/>
<rect x="369.99" y="233.20" width="6.18" height="4.58" fill="#f3821e"/>
<rect x="375.57" y="233.20" width="6.18" height="4.58" fill="#ee5a23"/>
<rect x="381.15" y="233.20" width="17.35" height="4.58" fill="#cdcdc8"/>
<rect x="397.90" y="233.20" width="6.18" height="4.58" fill="#ee5a23"/>
<rect x="403.48" y="233.20" width="6.18" height="4.58" fill="#3ca037"/>
<rect x="409.06" y="233.20" width="6.18" height="4.58" fill="#e1e12d"/>
<rect x="414.65" y="233.20" width="6.18" height="4.58" fill="#3ca037"/>
<rect x="420.23" y="233.20" width="6.18" height="4.58" fill="#e1e12d"/>
<rect x="425.81" y="233.20" width="17.35" height="4.58" fill="#3ca037"/>
<rect x="442.56" y="233.20" width="6.18" height="4.58" fill="#a5d22d"/>
<rect x="448.14" y="233.20" width="22.93" height="4.58" fill="#e42d23"/>
<rect x="470.47" y="233.20" width="6.18" height="4.58" fill="#f5aaa0"/>
<rect x="476.05" y="233.20" width="6.18" height="4.58" fill="#e42d23"/>
<rect x="481.64" y="233.20" width="6.18" height="4.58" fill="#f5aaa0"/>
<rect x="487.22" y="233.20" width="5.58" height="4.58" fill="#e42d23"/>
<rect x="303.00" y="237.18" width="28.51" height="4.58" fill="#e1e12d"/>
<rect x="330.91" y="237.18" width="11.76" height="4.58" fill="#a5d22d"/>
<rect x="342.08" y="237.18" width="28.51" height="4.58" fill="#3ca037"/>
<rect x="369.99" y="237.18" width="6.18" height="4.58" fill="#e1e12d"/>
<rect x="375.57" y="237.18" width="11.76" height="4.58" fill="#3ca037"/>
<rect x="386.74" y="237.18" width="11.76" height="4.58" fill="#e1e12d"/>
<rect x="397.90" y="237.18" width="6.18" height="4.58" fill="#a5d22d"/>
<rect x="403.48" y="237.18" width="39.68" height="4.58" fill="#238c41"/>
<rect x="442.56" y="237.18" width="6.18" height="4.58" fill="#cdcdc8"/>
<rect x="448.14" y="237.18" width="11.76" height="4.58" fill="#e42d23"/>
<rect x="459.31" y="237.18" width="11.76" height="4.58" fill="#f3821e"/>
<rect x="470.47" y="237.18" width="11.76" height="4.58" fill="#e42d23"/>
<rect x="481.64" y="237.18" width="6.18" height="4.58" fill="#e1e12d"/>
<rect x="487.22" y="237.18" width="5.58" height="4.58" fill="#e42d23"/>
<rect x="303.00" y="241.16" width="6.18" height="4.58" fill="#f5aaa0"/>
<rect x="308.58" y="241.16" width="6.18" height="4.58" fill="#e1e12d"/>
<rect x="314.16" y="241.16" width="28.51" height="4.58" fill="#f3821e"/>
<rect x="342.08" y="241.16" width="28.51" height="4.58" fill="#ee5a23"/>
<rect x="369.99" y="241.16" width="6.18" height="4.58" fill="#f5cd28"/>
<rect x="375.57" y="241.16" width="6.18" height="4.58" fill="#f5aa23"/>
<rect x="381.15" y="241.16" width="6.18" height="4.58" fill="#f5cd28"/>
<rect x="386.74" y="241.16" width="6.18" height="4.58" fill="#cdcdc8"/>
<rect x="392.32" y="241.16" width="6.18" height="4.58" fill="#f5cd28"/>
<rect x="397.90" y="241.16" width="11.76" height="4.58" fill="#e1e12d"/>
<rect x="409.06" y="241.16" width="6.18" height="4.58" fill="#f3821e"/>
<rect x="414.65" y="241.16" width="6.18" height="4.58" fill="#a5d22d"/>
<rect x="420.23" y="241.16" width="6.18" height="4.58" fill="#f3821e"/>
<rect x="425.81" y="241.16" width="6.18" height="4.58" fill="#a5d22d"/>
<rect x="431.39" y="241.16" width="6.18" height="4.58" fill="#f3821e"/>
<rect x="436.98" y="241.16" width="6.18" height="4.58" fill="#e1e12d"/>
<rect x="442.56" y="241.16" width="6.18" height="4.58" fill="#cdcdc8"/>
<rect x="448.14" y="241.16" width="6.18" height="4.58" fill="#e42d23"/>
<rect x="453.72" y="241.16" width="6.18" height="4.58" fill="#f5aaa0"/>
<rect x="459.31" y="241.16" width="6.18" height="4.58" fill="#e42d23"/>
<rect x="464.89" y="241.16" width="6.18" height="4.58" fill="#f5aaa0"/>
<rect x="470.47" y="241.16" width="6.18" height="4.58" fill="#e42d23"/>
<rect x="476.05" y="241.16" width="6.18" height="4.58" fill="#f5aaa0"/>
<rect x="481.64" y="241.16" width="6.18" height="4.58" fill="#e42d23"/>
<rect x="487.22" y="241.16" width="5.58" height="4.58" fill="#f5aaa0"/>
<rect x="303.00" y="245.14" width="6.18" height="4.58" fill="#969696"/>
<rect x="308.58" y="245.14" width="22.93" height="4.58" fill="#f5aaa0"/>
<rect x="330.91" y="245.14" width="6.18" height="4.58" fill="#f3821e"/>
<rect x="336.49" y="245.14" width="22.93" height="4.58" fill="#f5aaa0"/>
<rect x="358.82" y="245.14" width="6.18" height="4.58" fill="#e42d23"/>
<rect x="364.41" y="245.14" width="17.35" height="4.58" fill="#f5aaa0"/>
<rect x="381.15" y="245.14" width="6.18" height="4.58" fill="#cdcdc8"/>
<rect x="386.74" y="245.14" width="17.35" height="4.58" fill="#f5aaa0"/>
<rect x="403.48" y="245.14" width="11.76" height="4.58" fill="#f5cd28"/>
<rect x="414.65" y="245.14" width="6.18" height="4.58" fill="#e42d23"/>
<rect x="420.23" y="245.14" width="11.76" height="4.58" fill="#e1e12d"/>
<rect x="431.39" y="245.14" width="11.76" height="4.58" fill="#f5cd28"/>
<rect x="442.56" y="245.14" width="6.18" height="4.58" fill="#cdcdc8"/>
<rect x="448.14" y="245.14" width="11.76" height="4.58" fill="#e42d23"/>
<rect x="459.31" y="245.14" width="6.18" height="4.58" fill="#f5aaa0"/>
<rect x="464.89" y="245.14" width="6.18" height="4.58" fill="#e42d23"/>
<rect x="470.47" y="245.14" width="17.35" height="4.58" fill="#f5aaa0"/>
<rect x="487.22" y="245.14" width="5.58" height="4.58" fill="#cdcdc8"/>
<rect x="303.00" y="249.13" width="6.18" height="4.58" fill="#cdcdc8"/>
<rect x="308.58" y="249.13" width="6.18" height="4.58" fill="#a5d22d"/>
<rect x="314.16" y="249.13" width="6.18" height="4.58" fill="#e1e12d"/>
<rect x="319.75" y="249.13" width="6.18" height="4.58" fill="#a5d22d"/>
<rect x="325.33" y="249.13" width="6.18" height="4.58" fill="#e1e12d"/>
<rect x="330.91" y="249.13" width="6.18" height="4.58" fill="#a5d22d"/>
<rect x="336.49" y="249.13" width="6.18" height="4.58" fill="#e1e12d"/>
<rect x="342.08" y="249.13" width="6.18" height="4.58" fill="#a5d22d"/>
<rect x="347.66" y="249.13" width="6.18" height="4.58" fill="#e1e12d"/>
<rect x="353.24" y="249.13" width="6.18" height="4.58" fill="#a5d22d"/>
<rect x="358.82" y="249.13" width="6.18" height="4.58" fill="#e1e12d"/>
<rect x="364.41" y="249.13" width="6.18" height="4.58" fill="#a5d22d"/>
<rect x="369.99" y="249.13" width="6.18" height="4.58" fill="#e1e12d"/>
<rect x="375.57" y="249.13" width="6.18" height="4.58" fill="#a5d22d"/>
<rect x="381.15" y="249.13" width="6.18" height="4.58" fill="#cdcdc8"/>
<rect x="386.74" y="249.13" width="6.18" height="4.58" fill="#a5d22d"/>
<rect x="392.32" y="249.13" width="6.18" height="4.58" fill="#cdcdc8"/>
<rect x="397.90" y="249.13" width="28.51" height="4.58" fill="#a5d22d"/>
<rect x="425.81" y="249.13" width="11.76" height="4.58" fill="#3ca037"/>
<rect x="436.98" y="249.13" width="6.18" height="4.58" fill="#a5d22d"/>
<rect x="442.56" y="249.13" width="6.18" height="4.58" fill="#cdcdc8"/>
<rect x="448.14" y="249.13" width="11.76" height="4.58" fill="#f5aaa0"/>
<rect x="459.31" y="249.13" width="6.18" height="4.58" fill="#e42d23"/>
<rect x="464.89" y="249.13" width="11.76" height="4.58" fill="#f5aaa0"/>
<rect x="476.05" y="249.13" width="6.18" height="4.58" fill="#cdcdc8"/>
<rect x="481.64" y="249.13" width="6.18" height="4.58" fill="#f5aaa0"/>
<rect x="487.22" y="249.13" width="5.58" height="4.58" fill="#cdcdc8"/>
<rect x="303.00" y="253.11" width="6.18" height="4.58" fill="#969696"/>
<rect x="308.58" y="253.11" width="11.76" height="4.58" fill="#3ca037"/>
<rect x="319.75" y="253.11" width="56.42" height="4.58" fill="#238c41"/>
<rect x="375.57" y="253.11" width="6.18" height="4.58" fill="#3ca037"/>
<rect x="381.15" y="253.11" width="11.76" height="4.58" fill="#969696"/>
<rect x="392.32" y="253.11" width="11.76" height="4.58" fill="#3ca037"/>
<rect x="403.48" y="253.11" width="39.68" height="4.58" fill="#238c41"/>
<rect x="442.56" y="253.11" width="6.18" height="4.58" fill="#cdcdc8"/>
<rect x="448.14" y="253.11" width="6.18" height="4.58" fill="#e1e12d"/>
<rect x="453.72" y="253.11" width="6.18" height="4.58" fill="#a5d22d"/>
<rect x="459.31" y="253.11" width="6.18" height="4.58" fill="#3ca037"/>
<rect x="464.89" y="253.11" width="6.18" height="4.58" fill="#a5d22d"/>
<rect x="470.47" y="253.11" width="6.18" height="4.58" fill="#e42d23"/>
<rect x="476.05" y="253.11" width="6.18" height="4.58" fill="#e1e12d"/>
<rect x="481.64" y="253.11" width="6.18" height="4.58" fill="#3ca037"/>
<rect x="487.22" y="253.11" width="5.58" height="4.58" fill="#cdcdc8"/>
<rect x="303.00" y="257.09" width="11.76" height="4.58" fill="#f5aaa0"/>
<rect x="314.16" y="257.09" width="17.35" height="4.58" fill="#f3821e"/>
<rect x="330.91" y="257.09" width="6.18" height="4.58" fill="#e42d23"/>
<rect x="336.49" y="257.09" width="39.68" height="4.58" fill="#ee5a23"/>
<rect x="375.57" y="257.09" width="6.18" height="4.58" fill="#e42d23"/>
<rect x="381.15" y="257.09" width="17.35" height="4.58" fill="#f5aaa0"/>
<rect x="397.90" y="257.09" width="11.76" height="4.58" fill="#e42d23"/>
<rect x="409.06" y="257.09" width="6.18" height="4.58" fill="#ee5a23"/>
<rect x="414.65" y="257.09" width="6.18" height="4.58" fill="#e42d23"/>
<rect x="420.23" y="257.09" width="6.18" height="4.58" fill="#ee5a23"/>
<rect x="425.81" y="257.09" width="6.18" height="4.58" fill="#e42d23"/>
<rect x="431.39" y="257.09" width="11.76" height="4.58" fill="#ee5a23"/>
<rect x="442.56" y="257.09" width="6.18" height="4.58" fill="#f5aaa0"/>
<rect x="448.14" y="257.09" width="11.76" height="4.58" fill="#e42d23"/>
<rect x="459.31" y="257.09" width="6.18" height="4.58" fill="#f5aaa0"/>
<rect x="464.89" y="257.09" width="11.76" height="4.58" fill="#e42d23"/>
<rect x="476.05" y="257.09" width="6.18" height="4.58" fill="#f5aaa0"/>
<rect x="481.64" y="257.09" width="6.18" height="4.58" fill="#e42d23"/>
<rect x="487.22" y="257.09" width="5.58" height="4.58" fill="#f5aaa0"/>
<rect x="303.00" y="261.07" width="11.76" height="4.58" fill="#cdcdc8"/>
<rect x="314.16" y="261.07" width="6.18" height="4.58" fill="#e42d23"/>
<rect x="319.75" y="261.07" width="11.76" height="4.58" fill="#ee5a23"/>
<rect x="330.91" y="261.07" width="6.18" height="4.58" fill="#e42d23"/>
<rect x="336.49" y="261.07" width="39.68" height="4.58" fill="#ee5a23"/>
<rect x="375.57" y="261.07" width="11.76" height="4.58" fill="#e42d23"/>
<rect x="386.74" y="261.07" width="11.76" height="4.58" fill="#cdcdc8"/>
<rect x="397.90" y="261.07" width="6.18" height="4.58" fill="#e1e12d"/>
<rect x="403.48" y="261.07" width="6.18" height="4.58" fill="#a5d22d"/>
<rect x="409.06" y="261.07" width="6.18" height="4.58" fill="#f3821e"/>
<rect x="414.65" y="261.07" width="6.18" height="4.58" fill="#e1e12d"/>
<rect x="420.23" y="261.07" width="6.18" height="4.58" fill="#f3821e"/>
<rect x="425.81" y="261.07" width="6.18" height="4.58" fill="#f5aa23"/>
<rect x="431.39" y="261.07" width="6.18" height="4.58" fill="#a5d22d"/>
<rect x="436.98" y="261.07" width="6.18" height="4.58" fill="#f3821e"/>
<rect x="442.56" y="261.07" width="6.18" height="4.58" fill="#f5aa23"/>
<rect x="448.14" y="261.07" width="6.18" height="4.58" fill="#f3821e"/>
<rect x="453.72" y="261.07" width="6.18" height="4.58" fill="#f5aaa0"/>
<rect x="459.31" y="261.07" width="6.18" height="4.58" fill="#f3821e"/>
<rect x="464.89" y="261.07" width="6.18" height="4.58" fill="#f5aaa0"/>
<rect x="470.47" y="261.07" width="6.18" height="4.58" fill="#f3821e"/>
<rect x="476.05" y="261.07" width="6.18" height="4.58" fill="#f5aaa0"/>
<rect x="481.64" y="261.07" width="6.18" height="4.58" fill="#f3821e"/>
<rect x="487.22" y="261.07" width="5.58" height="4.58" fill="#f5aaa0"/>
<rect x="303.00" y="265.05" width="6.18" height="4.58" fill="#f5aaa0"/>
<rect x="308.58" y="265.05" width="6.18" height="4.58" fill="#cdcdc8"/>
<rect x="314.16" y="265.05" width="6.18" height="4.58" fill="#e1e12d"/>
<rect x="319.75" y="265.05" width="22.93" height="4.58" fill="#a5d22d"/>
<rect x="342.08" y="265.05" width="11.76" height="4.58" fill="#f5cd28"/>
<rect x="353.24" y="265.05" width="6.18" height="4.58" fill="#f5aa23"/>
<rect x="358.82" y="265.05" width="6.18" height="4.58" fill="#f5cd28"/>
<rect x="364.41" y="265.05" width="6.18" height="4.58" fill="#f5aa23"/>
<rect x="369.99" y="265.05" width="6.18" height="4.58" fill="#e1e12d"/>
<rect x="375.57" y="265.05" width="6.18" height="4.58" fill="#969696"/>
<rect x="381.15" y="265.05" width="6.18" height="4.58" fill="#e1e12d"/>
<rect x="386.74" y="265.05" width="11.76" height="4.58" fill="#969696"/>
<rect x="397.90" y="265.05" width="45.26" height="4.58" fill="#3ca037"/>
<rect x="442.56" y="265.05" width="6.18" height="4.58" fill="#cdcdc8"/>
<rect x="448.14" y="265.05" width="6.18" height="4.58" fill="#e42d23"/>
<rect x="453.72" y="265.05" width="6.18" height="4.58" fill="#f3821e"/>
<rect x="459.31" y="265.05" width="6.18" height="4.58" fill="#969696"/>
<rect x="464.89" y="265.05" width="6.18" height="4.58" fill="#3ca037"/>
<rect x="470.47" y="265.05" width="6.18" height="4.58" fill="#969696"/>
<rect x="476.05" y="265.05" width="6.18" height="4.58" fill="#e1e12d"/>
<rect x="481.64" y="265.05" width="6.18" height="4.58" fill="#969696"/>
<rect x="487.22" y="265.05" width="5.58" height="4.58" fill="#e42d23"/>
<rect x="303.00" y="269.03" width="6.18" height="4.58" fill="#969696"/>
<rect x="308.58" y="269.03" width="6.18" height="4.58" fill="#e1e12d"/>
<rect x="314.16" y="269.03" width="6.18" height="4.58" fill="#969696"/>
<rect x="319.75" y="269.03" width="56.42" height="4.58" fill="#3ca037"/>
<rect x="375.57" y="269.03" width="6.18" height="4.58" fill="#969696"/>
<rect x="381.15" y="269.03" width="6.18" height="4.58" fill="#cdcdc8"/>
<rect x="386.74" y="269.03" width="11.76" height="4.58" fill="#969696"/>
<rect x="397.90" y="269.03" width="45.26" height="4.58" fill="#3ca037"/>
<rect x="442.56" y="269.03" width="6.18" height="4.58" fill="#cdcdc8"/>
<rect x="448.14" y="269.03" width="6.18" height="4.58" fill="#969696"/>
<rect x="453.72" y="269.03" width="6.18" height="4.58" fill="#3ca037"/>
<rect x="459.31" y="269.03" width="6.18" height="4.58" fill="#969696"/>
<rect x="464.89" y="269.03" width="6.18" height="4.58" fill="#3ca037"/>
<rect x="470.47" y="269.03" width="6.18" height="4.58" fill="#969696"/>
<rect x="476.05" y="269.03" width="6.18" height="4.58" fill="#3ca037"/>
<rect x="481.64" y="269.03" width="6.18" height="4.58" fill="#969696"/>
<rect x="487.22" y="269.03" width="5.58" height="4.58" fill="#3ca037"/>
<rect x="303.00" y="273.01" width="6.18" height="4.58" fill="#f5aaa0"/>
<rect x="308.58" y="273.01" width="6.18" height="4.58" fill="#969696"/>
<rect x="314.16" y="273.01" width="6.18" height="4.58" fill="#e1e12d"/>
<rect x="319.75" y="273.01" width="22.93" height="4.58" fill="#f3821e"/>
<rect x="342.08" y="273.01" width="6.18" height="4.58" fill="#e42d23"/>
<rect x="347.66" y="273.01" width="11.76" height="4.58" fill="#f3821e"/>
<rect x="358.82" y="273.01" width="17.35" height="4.58" fill="#f5aa23"/>
<rect x="375.57" y="273.01" width="6.18" height="4.58" fill="#f3821e"/>
<rect x="381.15" y="273.01" width="6.18" height="4.58" fill="#e1e12d"/>
<rect x="386.74" y="273.01" width="11.76" height="4.58" fill="#f5aaa0"/>
<rect x="397.90" y="273.01" width="6.18" height="4.58" fill="#e1e12d"/>
<rect x="403.48" y="273.01" width="11.76" height="4.58" fill="#f3821e"/>
<rect x="414.65" y="273.01" width="6.18" height="4.58" fill="#ee5a23"/>
<rect x="420.23" y="273.01" width="22.93" height="4.58" fill="#e42d23"/>
<rect x="442.56" y="273.01" width="6.18" height="4.58" fill="#cdcdc8"/>
<rect x="448.14" y="273.01" width="11.76" height="4.58" fill="#ee5a23"/>
<rect x="459.31" y="273.01" width="6.18" height="4.58" fill="#e42d23"/>
<rect x="464.89" y="273.01" width="6.18" height="4.58" fill="#ee5a23"/>
<rect x="470.47" y="273.01" width="11.76" height="4.58" fill="#f3821e"/>
<rect x="481.64" y="273.01" width="6.18" height="4.58" fill="#f5aaa0"/>
<rect x="487.22" y="273.01" width="5.58" height="4.58" fill="#f3821e"/>
<rect x="303.00" y="277.00" width="6.18" height="4.58" fill="#3ca037"/>
<rect x="308.58" y="277.00" width="6.18" height="4.58" fill="#969696"/>
<rect x="314.16" y="277.00" width="6.18" height="4.58" fill="#cdcdc8"/>
<rect x="319.75" y="277.00" width="56.42" height="4.58" fill="#238c41"/>
<rect x="375.57" y="277.00" width="6.18" height="4.58" fill="#969696"/>
<rect x="381.15" y="277.00" width="6.18" height="4.58" fill="#3ca037"/>
<rect x="386.74" y="277.00" width="17.35" height="4.58" fill="#969696"/>
<rect x="403.48" y="277.00" width="39.68" height="4.58" fill="#238c41"/>
<rect x="442.56" y="277.00" width="28.51" height="4.58" fill="#969696"/>
<rect x="470.47" y="277.00" width="6.18" height="4.58" fill="#f3821e"/>
<rect x="476.05" y="277.00" width="16.75" height="4.58" fill="#969696"/>
<rect x="303.00" y="280.98" width="6.18" height="4.58" fill="#969696"/>
<rect x="308.58" y="280.98" width="6.18" height="4.58" fill="#3ca037"/>
<rect x="314.16" y="280.98" width="6.18" height="4.58" fill="#969696"/>
<rect x="319.75" y="280.98" width="22.93" height="4.58" fill="#238c41"/>
<rect x="342.08" y="280.98" width="11.76" height="4.58" fill="#6eb932"/>
<rect x="353.24" y="280.98" width="22.93" height="4.58" fill="#238c41"/>
<rect x="375.57" y="280.98" width="6.18" height="4.58" fill="#3ca037"/>
<rect x="381.15" y="280.98" width="17.35" height="4.58" fill="#969696"/>
<rect x="397.90" y="280.98" width="6.18" height="4.58" fill="#3ca037"/>
<rect x="403.48" y="280.98" width="39.68" height="4.58" fill="#238c41"/>
<rect x="442.56" y="280.98" width="6.18" height="4.58" fill="#969696"/>
<rect x="448.14" y="280.98" width="11.76" height="4.58" fill="#a5d22d"/>
<rect x="459.31" y="280.98" width="6.18" height="4.58" fill="#969696"/>
<rect x="464.89" y="280.98" width="6.18" height="4.58" fill="#a5d22d"/>
<rect x="470.47" y="280.98" width="6.18" height="4.58" fill="#969696"/>
<rect x="476.05" y="280.98" width="6.18" height="4.58" fill="#cdcdc8"/>
<rect x="481.64" y="280.98" width="6.18" height="4.58" fill="#a5d22d"/>
<rect x="487.22" y="280.98" width="5.58" height="4.58" fill="#969696"/>
<rect x="303.00" y="284.96" width="6.18" height="4.58" fill="#cdcdc8"/>
<rect x="308.58" y="284.96" width="6.18" height="4.58" fill="#3ca037"/>
<rect x="314.16" y="284.96" width="6.18" height="4.58" fill="#969696"/>
<rect x="319.75" y="284.96" width="56.42" height="4.58" fill="#238c41"/>
<rect x="375.57" y="284.96" width="6.18" height="4.58" fill="#969696"/>
<rect x="381.15" y="284.96" width="6.18" height="4.58" fill="#3ca037"/>
<rect x="386.74" y="284.96" width="17.35" height="4.58" fill="#969696"/>
<rect x="403.48" y="284.96" width="6.18" height="4.58" fill="#238c41"/>
<rect x="409.06" y="284.96" width="11.76" height="4.58" fill="#a5d22d"/>
<rect x="420.23" y="284.96" width="22.93" height="4.58" fill="#238c41"/>
<rect x="442.56" y="284.96" width="6.18" height="4.58" fill="#cdcdc8"/>
<rect x="448.14" y="284.96" width="6.18" height="4.58" fill="#969696"/>
<rect x="453.72" y="284.96" width="6.18" height="4.58" fill="#f3821e"/>
<rect x="459.31" y="284.96" width="17.35" height="4.58" fill="#969696"/>
<rect x="476.05" y="284.96" width="6.18" height="4.58" fill="#3ca037"/>
<rect x="481.64" y="284.96" width="11.16" height="4.58" fill="#969696"/>
<rect x="303.00" y="288.94" width="6.18" height="4.58" fill="#3ca037"/>
<rect x="308.58" y="288.94" width="6.18" height="4.58" fill="#969696"/>
<rect x="314.16" y="288.94" width="6.18" height="4.58" fill="#3ca037"/>
<rect x="319.75" y="288.94" width="6.18" height="4.58" fill="#6eb932"/>
<rect x="325.33" y="288.94" width="6.18" height="4.58" fill="#238c41"/>
<rect x="330.91" y="288.94" width="6.18" height="4.58" fill="#6eb932"/>
<rect x="336.49" y="288.94" width="6.18" height="4.58" fill="#238c41"/>
<rect x="342.08" y="288.94" width="17.35" height="4.58" fill="#6eb932"/>
<rect x="358.82" y="288.94" width="17.35" height="4.58" fill="#238c41"/>
<rect x="375.57" y="288.94" width="11.76" height="4.58" fill="#969696"/>
<rect x="386.74" y="288.94" width="6.18" height="4.58" fill="#3ca037"/>
<rect x="392.32" y="288.94" width="11.76" height="4.58" fill="#969696"/>
<rect x="403.48" y="288.94" width="39.68" height="4.58" fill="#238c41"/>
<rect x="442.56" y="288.94" width="6.18" height="4.58" fill="#969696"/>
<rect x="448.14" y="288.94" width="11.76" height="4.58" fill="#cdcdc8"/>
<rect x="459.31" y="288.94" width="6.18" height="4.58" fill="#f5aaa0"/>
<rect x="464.89" y="288.94" width="6.18" height="4.58" fill="#cdcdc8"/>
<rect x="470.47" y="288.94" width="6.18" height="4.58" fill="#a5d22d"/>
<rect x="476.05" y="288.94" width="6.18" height="4.58" fill="#cdcdc8"/>
<rect x="481.64" y="288.94" width="6.18" height="4.58" fill="#3ca037"/>
<rect x="487.22" y="288.94" width="5.58" height="4.58" fill="#cdcdc8"/>
<rect x="303.00" y="292.92" width="6.18" height="4.58" fill="#969696"/>
<rect x="308.58" y="292.92" width="6.18" height="4.58" fill="#3ca037"/>
<rect x="314.16" y="292.92" width="6.18" height="4.58" fill="#cdcdc8"/>
<rect x="319.75" y="292.92" width="39.68" height="4.58" fill="#3ca037"/>
<rect x="358.82" y="292.92" width="6.18" height="4.58" fill="#f3821e"/>
<rect x="364.41" y="292.92" width="11.76" height="4.58" fill="#3ca037"/>
<rect x="375.57" y="292.92" width="6.18" height="4.58" fill="#969696"/>
<rect x="381.15" y="292.92" width="6.18" height="4.58" fill="#3ca037"/>
<rect x="386.74" y="292.92" width="11.76" height="4.58" fill="#969696"/>
<rect x="397.90" y="292.92" width="11.76" height="4.58" fill="#a5d22d"/>
<rect x="409.06" y="292.92" width="6.18" height="4.58" fill="#3ca037"/>
<rect x="414.65" y="292.92" width="6.18" height="4.58" fill="#a5d22d"/>
<rect x="420.23" y="292.92" width="6.18" height="4.58" fill="#3ca037"/>
<rect x="425.81" y="292.92" width="6.18" height="4.58" fill="#a5d22d"/>
<rect x="431.39" y="292.92" width="6.18" height="4.58" fill="#3ca037"/>
<rect x="436.98" y="292.92" width="6.18" height="4.58" fill="#a5d22d"/>
<rect x="442.56" y="292.92" width="11.76" height="4.58" fill="#969696"/>
<rect x="453.72" y="292.92" width="6.18" height="4.58" fill="#a5d22d"/>
<rect x="459.31" y="292.92" width="11.76" height="4.58" fill="#969696"/>
<rect x="470.47" y="292.92" width="6.18" height="4.58" fill="#a5d22d"/>
<rect x="476.05" y="292.92" width="11.76" height="4.58" fill="#969696"/>
<rect x="487.22" y="292.92" width="5.58" height="4.58" fill="#a5d22d"/>
<rect x="303.00" y="296.90" width="6.18" height="4.58" fill="#cdcdc8"/>
<rect x="308.58" y="296.90" width="6.18" height="4.58" fill="#969696"/>
<rect x="314.16" y="296.90" width="6.18" height="4.58" fill="#e1e12d"/>
<rect x="319.75" y="296.90" width="6.18" height="4.58" fill="#a5d22d"/>
<rect x="325.33" y="296.90" width="6.18" height="4.58" fill="#cdcdc8"/>
<rect x="330.91" y="296.90" width="6.18" height="4.58" fill="#a5d22d"/>
<rect x="336.49" y="296.90" width="6.18" height="4.58" fill="#cdcdc8"/>
<rect x="342.08" y="296.90" width="6.18" height="4.58" fill="#a5d22d"/>
<rect x="347.66" y="296.90" width="6.18" height="4.58" fill="#cdcdc8"/>
<rect x="353.24" y="296.90" width="6.18" height="4.58" fill="#a5d22d"/>
<rect x="358.82" y="296.90" width="6.18" height="4.58" fill="#cdcdc8"/>
<rect x="364.41" y="296.90" width="6.18" height="4.58" fill="#a5d22d"/>
<rect x="369.99" y="296.90" width="6.18" height="4.58" fill="#3ca037"/>
<rect x="375.57" y="296.90" width="6.18" height="4.58" fill="#969696"/>
<rect x="381.15" y="296.90" width="6.18" height="4.58" fill="#e1e12d"/>
<rect x="386.74" y="296.90" width="11.76" height="4.58" fill="#cdcdc8"/>
<rect x="397.90" y="296.90" width="11.76" height="4.58" fill="#e1e12d"/>
<rect x="409.06" y="296.90" width="6.18" height="4.58" fill="#f5aaa0"/>
<rect x="414.65" y="296.90" width="6.18" height="4.58" fill="#e1e12d"/>
<rect x="420.23" y="296.90" width="6.18" height="4.58" fill="#cdcdc8"/>
<rect x="425.81" y="296.90" width="6.18" height="4.58" fill="#e1e12d"/>
<rect x="431.39" y="296.90" width="6.18" height="4.58" fill="#f5aaa0"/>
<rect x="436.98" y="296.90" width="11.76" height="4.58" fill="#e1e12d"/>
<rect x="448.14" y="296.90" width="6.18" height="4.58" fill="#f5aaa0"/>
<rect x="453.72" y="296.90" width="6.18" height="4.58" fill="#cdcdc8"/>
<rect x="459.31" y="296.90" width="6.18" height="4.58" fill="#f5aaa0"/>
<rect x="464.89" y="296.90" width="6.18" height="4.58" fill="#e1e12d"/>
<rect x="470.47" y="296.90" width="6.18" height="4.58" fill="#cdcdc8"/>
<rect x="476.05" y="296.90" width="6.18" height="4.58" fill="#e1e12d"/>
<rect x="481.64" y="296.90" width="6.18" height="4.58" fill="#f5aaa0"/>
<rect x="487.22" y="296.90" width="5.58" height="4.58" fill="#cdcdc8"/>
<rect x="303.00" y="300.88" width="6.18" height="4.58" fill="#f5aaa0"/>
<rect x="308.58" y="300.88" width="6.18" height="4.58" fill="#f3821e"/>
<rect x="314.16" y="300.88" width="11.76" height="4.58" fill="#f5aa23"/>
<rect x="325.33" y="300.88" width="6.18" height="4.58" fill="#f5cd28"/>
<rect x="330.91" y="300.88" width="6.18" height="4.58" fill="#f5aa23"/>
<rect x="336.49" y="300.88" width="6.18" height="4.58" fill="#f5cd28"/>
<rect x="342.08" y="300.88" width="6.18" height="4.58" fill="#a5d22d"/>
<rect x="347.66" y="300.88" width="6.18" height="4.58" fill="#f5cd28"/>
<rect x="353.24" y="300.88" width="6.18" height="4.58" fill="#a5d22d"/>
<rect x="358.82" y="300.88" width="6.18" height="4.58" fill="#f5cd28"/>
<rect x="364.41" y="300.88" width="11.76" height="4.58" fill="#a5d22d"/>
<rect x="375.57" y="300.88" width="6.18" height="4.58" fill="#f3821e"/>
<rect x="381.15" y="300.88" width="6.18" height="4.58" fill="#f5aa23"/>
<rect x="386.74" y="300.88" width="11.76" height="4.58" fill="#cdcdc8"/>
<rect x="397.90" y="300.88" width="6.18" height="4.58" fill="#f3821e"/>
<rect x="403.48" y="300.88" width="6.18" height="4.58" fill="#e42d23"/>
<rect x="409.06" y="300.88" width="6.18" height="4.58" fill="#ee5a23"/>
<rect x="414.65" y="300.88" width="17.35" height="4.58" fill="#e42d23"/>
<rect x="431.39" y="300.88" width="6.18" height="4.58" fill="#ee5a23"/>
<rect x="436.98" y="300.88" width="6.18" height="4.58" fill="#e42d23"/>
<rect x="442.56" y="300.88" width="17.35" height="4.58" fill="#a5d22d"/>
<rect x="459.31" y="300.88" width="6.18" height="4.58" fill="#cdcdc8"/>
<rect x="464.89" y="300.88" width="11.76" height="4.58" fill="#a5d22d"/>
<rect x="476.05" y="300.88" width="6.18" height="4.58" fill="#6eb932"/>
<rect x="481.64" y="300.88" width="11.16" height="4.58" fill="#a5d22d"/>
<rect x="303.00" y="304.87" width="6.18" height="4.58" fill="#f5cd28"/>
<rect x="308.58" y="304.87" width="6.18" height="4.58" fill="#e1e12d"/>
<rect x="314.16" y="304.87" width="6.18" height="4.58" fill="#a5d22d"/>
<rect x="319.75" y="304.87" width="6.18" height="4.58" fill="#e1e12d"/>
<rect x="325.33" y="304.87" width="6.18" height="4.58" fill="#a5d22d"/>
<rect x="330.91" y="304.87" width="6.18" height="4.58" fill="#e1e12d"/>
<rect x="336.49" y="304.87" width="17.35" height="4.58" fill="#a5d22d"/>
<rect x="353.24" y="304.87" width="6.18" height="4.58" fill="#e1e12d"/>
<rect x="358.82" y="304.87" width="6.18" height="4.58" fill="#a5d22d"/>
<rect x="364.41" y="304.87" width="6.18" height="4.58" fill="#e1e12d"/>
<rect x="369.99" y="304.87" width="6.18" height="4.58" fill="#3ca037"/>
<rect x="375.57" y="304.87" width="6.18" height="4.58" fill="#e1e12d"/>
<rect x="381.15" y="304.87" width="6.18" height="4.58" fill="#a5d22d"/>
<rect x="386.74" y="304.87" width="11.76" height="4.58" fill="#e1e12d"/>
<rect x="397.90" y="304.87" width="6.18" height="4.58" fill="#f3821e"/>
<rect x="403.48" y="304.87" width="11.76" height="4.58" fill="#e42d23"/>
<rect x="414.65" y="304.87" width="6.18" height="4.58" fill="#ee5a23"/>
<rect x="420.23" y="304.87" width="6.18" height="4.58" fill="#e42d23"/>
<rect x="425.81" y="304.87" width="6.18" height="4.58" fill="#ee5a23"/>
<rect x="431.39" y="304.87" width="11.76" height="4.58" fill="#e42d23"/>
<rect x="442.56" y="304.87" width="6.18" height="4.58" fill="#e1e12d"/>
<rect x="448.14" y="304.87" width="6.18" height="4.58" fill="#6eb932"/>
<rect x="453.72" y="304.87" width="6.18" height="4.58" fill="#a5d22d"/>
<rect x="459.31" y="304.87" width="6.18" height="4.58" fill="#6eb932"/>
<rect x="464.89" y="304.87" width="6.18" height="4.58" fill="#a5d22d"/>
<rect x="470.47" y="304.87" width="6.18" height="4.58" fill="#6eb932"/>
<rect x="476.05" y="304.87" width="6.18" height="4.58" fill="#a5d22d"/>
<rect x="481.64" y="304.87" width="6.18" height="4.58" fill="#6eb932"/>
<rect x="487.22" y="304.87" width="5.58" height="4.58" fill="#a5d22d"/>
<rect x="303.00" y="308.85" width="6.18" height="4.58" fill="#ee5a23"/>
<rect x="308.58" y="308.85" width="6.18" height="4.58" fill="#f3821e"/>
<rect x="314.16" y="308.85" width="11.76" height="4.58" fill="#e1e12d"/>
<rect x="325.33" y="308.85" width="6.18" height="4.58" fill="#3ca037"/>
<rect x="330.91" y="308.85" width="6.18" height="4.58" fill="#ee5a23"/>
<rect x="336.49" y="308.85" width="11.76" height="4.58" fill="#f3821e"/>
<rect x="347.66" y="308.85" width="22.93" height="4.58" fill="#ee5a23"/>
<rect x="369.99" y="308.85" width="6.18" height="4.58" fill="#3ca037"/>
<rect x="375.57" y="308.85" width="6.18" height="4.58" fill="#f3821e"/>
<rect x="381.15" y="308.85" width="17.35" height="4.58" fill="#e42d23"/>
<rect x="397.90" y="308.85" width="6.18" height="4.58" fill="#ee5a23"/>
<rect x="403.48" y="308.85" width="6.18" height="4.58" fill="#e42d23"/>
<rect x="409.06" y="308.85" width="6.18" height="4.58" fill="#ee5a23"/>
<rect x="414.65" y="308.85" width="28.51" height="4.58" fill="#e42d23"/>
<rect x="442.56" y="308.85" width="11.76" height="4.58" fill="#a5d22d"/>
<rect x="453.72" y="308.85" width="6.18" height="4.58" fill="#3ca037"/>
<rect x="459.31" y="308.85" width="6.18" height="4.58" fill="#a5d22d"/>
<rect x="464.89" y="308.85" width="6.18" height="4.58" fill="#3ca037"/>
<rect x="470.47" y="308.85" width="6.18" height="4.58" fill="#a5d22d"/>
<rect x="476.05" y="308.85" width="6.18" height="4.58" fill="#3ca037"/>
<rect x="481.64" y="308.85" width="6.18" height="4.58" fill="#a5d22d"/>
<rect x="487.22" y="308.85" width="5.58" height="4.58" fill="#e42d23"/>
<rect x="303.00" y="312.83" width="6.18" height="4.58" fill="#f3821e"/>
<rect x="308.58" y="312.83" width="6.18" height="4.58" fill="#a5d22d"/>
<rect x="314.16" y="312.83" width="6.18" height="4.58" fill="#e1e12d"/>
<rect x="319.75" y="312.83" width="11.76" height="4.58" fill="#a5d22d"/>
<rect x="330.91" y="312.83" width="6.18" height="4.58" fill="#3ca037"/>
<rect x="336.49" y="312.83" width="6.18" height="4.58" fill="#a5d22d"/>
<rect x="342.08" y="312.83" width="22.93" height="4.58" fill="#6eb932"/>
<rect x="364.41" y="312.83" width="6.18" height="4.58" fill="#e1e12d"/>
<rect x="369.99" y="312.83" width="6.18" height="4.58" fill="#238c41"/>
<rect x="375.57" y="312.83" width="6.18" height="4.58" fill="#a5d22d"/>
<rect x="381.15" y="312.83" width="6.18" height="4.58" fill="#f5cd28"/>
<rect x="386.74" y="312.83" width="11.76" height="4.58" fill="#ee5a23"/>
<rect x="397.90" y="312.83" width="6.18" height="4.58" fill="#e1e12d"/>
<rect x="403.48" y="312.83" width="6.18" height="4.58" fill="#a5d22d"/>
<rect x="409.06" y="312.83" width="11.76" height="4.58" fill="#ee5a23"/>
<rect x="420.23" y="312.83" width="6.18" height="4.58" fill="#e1e12d"/>
<rect x="425.81" y="312.83" width="6.18" height="4.58" fill="#a5d22d"/>
<rect x="431.39" y="312.83" width="6.18" height="4.58" fill="#f3821e"/>
<rect x="436.98" y="312.83" width="6.18" height="4.58" fill="#f5aa23"/>
<rect x="442.56" y="312.83" width="6.18" height="4.58" fill="#f5cd28"/>
<rect x="448.14" y="312.83" width="11.76" height="4.58" fill="#238c41"/>
<rect x="459.31" y="312.83" width="11.76" height="4.58" fill="#3ca037"/>
<rect x="470.47" y="312.83" width="6.18" height="4.58" fill="#238c41"/>
<rect x="476.05" y="312.83" width="11.76" height="4.58" fill="#a5d22d"/>
<rect x="487.22" y="312.83" width="5.58" height="4.58" fill="#e42d23"/>
<rect x="303.00" y="316.81" width="6.18" height="4.58" fill="#f5cd28"/>
<rect x="308.58" y="316.81" width="6.18" height="4.58" fill="#a5d22d"/>
<rect x="314.16" y="316.81" width="6.18" height="4.58" fill="#e1e12d"/>
<rect x="319.75" y="316.81" width="11.76" height="4.58" fill="#a5d22d"/>
<rect x="330.91" y="316.81" width="6.18" height="4.58" fill="#3ca037"/>
<rect x="336.49" y="316.81" width="6.18" height="4.58" fill="#a5d22d"/>
<rect x="342.08" y="316.81" width="11.76" height="4.58" fill="#3ca037"/>
<rect x="353.24" y="316.81" width="6.18" height="4.58" fill="#6eb932"/>
<rect x="358.82" y="316.81" width="6.18" height="4.58" fill="#3ca037"/>
<rect x="364.41" y="316.81" width="6.18" height="4.58" fill="#a5d22d"/>
<rect x="369.99" y="316.81" width="6.18" height="4.58" fill="#238c41"/>
<rect x="375.57" y="316.81" width="6.18" height="4.58" fill="#a5d22d"/>
<rect x="381.15" y="316.81" width="6.18" height="4.58" fill="#e1e12d"/>
<rect x="386.74" y="316.81" width="11.76" height="4.58" fill="#ee5a23"/>
<rect x="397.90" y="316.81" width="6.18" height="4.58" fill="#e1e12d"/>
<rect x="403.48" y="316.81" width="6.18" height="4.58" fill="#a5d22d"/>
<rect x="409.06" y="316.81" width="11.76" height="4.58" fill="#ee5a23"/>
<rect x="420.23" y="316.81" width="6.18" height="4.58" fill="#e1e12d"/>
<rect x="425.81" y="316.81" width="6.18" height="4.58" fill="#a5d22d"/>
<rect x="431.39" y="316.81" width="6.18" height="4.58" fill="#f3821e"/>
<rect x="436.98" y="316.81" width="6.18" height="4.58" fill="#f5aa23"/>
<rect x="442.56" y="316.81" width="6.18" height="4.58" fill="#e1e12d"/>
<rect x="448.14" y="316.81" width="11.76" height="4.58" fill="#238c41"/>
<rect x="459.31" y="316.81" width="11.76" height="4.58" fill="#3ca037"/>
<rect x="470.47" y="316.81" width="6.18" height="4.58" fill="#238c41"/>
<rect x="476.05" y="316.81" width="11.76" height="4.58" fill="#a5d22d"/>
<rect x="487.22" y="316.81" width="5.58" height="4.58" fill="#f5aa23"/>
<rect x="303.00" y="320.79" width="6.18" height="4.58" fill="#f5aa23"/>
<rect x="308.58" y="320.79" width="6.18" height="4.58" fill="#a5d22d"/>
<rect x="314.16" y="320.79" width="6.18" height="4.58" fill="#e1e12d"/>
<rect x="319.75" y="320.79" width="11.76" height="4.58" fill="#a5d22d"/>
<rect x="330.91" y="320.79" width="6.18" height="4.58" fill="#3ca037"/>
<rect x="336.49" y="320.79" width="6.18" height="4.58" fill="#a5d22d"/>
<rect x="342.08" y="320.79" width="17.35" height="4.58" fill="#6eb932"/>
<rect x="358.82" y="320.79" width="6.18" height="4.58" fill="#3ca037"/>
<rect x="364.41" y="320.79" width="6.18" height="4.58" fill="#a5d22d"/>
<rect x="369.99" y="320.79" width="6.18" height="4.58" fill="#238c41"/>
<rect x="375.57" y="320.79" width="6.18" height="4.58" fill="#a5d22d"/>
<rect x="381.15" y="320.79" width="6.18" height="4.58" fill="#e1e12d"/>
<rect x="386.74" y="320.79" width="6.18" height="4.58" fill="#ee5a23"/>
<rect x="392.32" y="320.79" width="6.18" height="4.58" fill="#f3821e"/>
<rect x="397.90" y="320.79" width="6.18" height="4.58" fill="#e1e12d"/>
<rect x="403.48" y="320.79" width="6.18" height="4.58" fill="#a5d22d"/>
<rect x="409.06" y="320.79" width="11.76" height="4.58" fill="#ee5a23"/>
<rect x="420.23" y="320.79" width="6.18" height="4.58" fill="#e1e12d"/>
<rect x="425.81" y="320.79" width="6.18" height="4.58" fill="#a5d22d"/>
<rect x="431.39" y="320.79" width="6.18" height="4.58" fill="#f3821e"/>
<rect x="436.98" y="320.79" width="6.18" height="4.58" fill="#f5aa23"/>
<rect x="442.56" y="320.79" width="6.18" height="4.58" fill="#e1e12d"/>
<rect x="448.14" y="320.79" width="11.76" height="4.58" fill="#238c41"/>
<rect x="459.31" y="320.79" width="11.76" height="4.58" fill="#3ca037"/>
<rect x="470.47" y="320.79" width="6.18" height="4.58" fill="#238c41"/>
<rect x="476.05" y="320.79" width="11.76" height="4.58" fill="#a5d22d"/>
<rect x="487.22" y="320.79" width="5.58" height="4.58" fill="#f5cd28"/>
<rect x="303.00" y="324.77" width="6.18" height="4.58" fill="#f5cd28"/>
<rect x="308.58" y="324.77" width="6.18" height="4.58" fill="#a5d22d"/>
<rect x="314.16" y="324.77" width="6.18" height="4.58" fill="#e1e12d"/>
<rect x="319.75" y="324.77" width="11.76" height="4.58" fill="#a5d22d"/>
<rect x="330.91" y="324.77" width="6.18" height="4.58" fill="#3ca037"/>
<rect x="336.49" y="324.77" width="6.18" height="4.58" fill="#a5d22d"/>
<rect x="342.08" y="324.77" width="17.35" height="4.58" fill="#3ca037"/>
<rect x="358.82" y="324.77" width="6.18" height="4.58" fill="#6eb932"/>
<rect x="364.41" y="324.77" width="6.18" height="4.58" fill="#a5d22d"/>
<rect x="369.99" y="324.77" width="6.18" height="4.58" fill="#238c41"/>
<rect x="375.57" y="324.77" width="6.18" height="4.58" fill="#a5d22d"/>
<rect x="381.15" y="324.77" width="6.18" height="4.58" fill="#e1e12d"/>
<rect x="386.74" y="324.77" width="11.76" height="4.58" fill="#f5aa23"/>
<rect x="397.90" y="324.77" width="6.18" height="4.58" fill="#e1e12d"/>
<rect x="403.48" y="324.77" width="6.18" height="4.58" fill="#a5d22d"/>
<rect x="409.06" y="324.77" width="11.76" height="4.58" fill="#f3821e"/>
<rect x="420.23" y="324.77" width="6.18" height="4.58" fill="#e1e12d"/>
<rect x="425.81" y="324.77" width="6.18" height="4.58" fill="#a5d22d"/>
<rect x="431.39" y="324.77" width="11.76" height="4.58" fill="#f5aa23"/>
<rect x="442.56" y="324.77" width="6.18" height="4.58" fill="#f5cd28"/>
<rect x="448.14" y="324.77" width="11.76" height="4.58" fill="#238c41"/>
<rect x="459.31" y="324.77" width="11.76" height="4.58" fill="#3ca037"/>
<rect x="470.47" y="324.77" width="6.18" height="4.58" fill="#238c41"/>
<rect x="476.05" y="324.77" width="11.76" height="4.58" fill="#a5d22d"/>
<rect x="487.22" y="324.77" width="5.58" height="4.58" fill="#f5cd28"/>
<rect x="303.00" y="328.75" width="6.18" height="4.58" fill="#f5aa23"/>
<rect x="308.58" y="328.75" width="6.18" height="4.58" fill="#a5d22d"/>
<rect x="314.16" y="328.75" width="6.18" height="4.58" fill="#e1e12d"/>
<rect x="319.75" y="328.75" width="6.18" height="4.58" fill="#a5d22d"/>
<rect x="325.33" y="328.75" width="6.18" height="4.58" fill="#6eb932"/>
<rect x="330.91" y="328.75" width="6.18" height="4.58" fill="#3ca037"/>
<rect x="336.49" y="328.75" width="6.18" height="4.58" fill="#a5d22d"/>
<rect x="342.08" y="328.75" width="17.35" height="4.58" fill="#6eb932"/>
<rect x="358.82" y="328.75" width="6.18" height="4.58" fill="#3ca037"/>
<rect x="364.41" y="328.75" width="6.18" height="4.58" fill="#a5d22d"/>
<rect x="369.99" y="328.75" width="6.18" height="4.58" fill="#238c41"/>
<rect x="375.57" y="328.75" width="6.18" height="4.58" fill="#a5d22d"/>
<rect x="381.15" y="328.75" width="6.18" height="4.58" fill="#e1e12d"/>
<rect x="386.74" y="328.75" width="6.18" height="4.58" fill="#f5cd28"/>
<rect x="392.32" y="328.75" width="6.18" height="4.58" fill="#f5aa23"/>
<rect x="397.90" y="328.75" width="6.18" height="4.58" fill="#e1e12d"/>
<rect x="403.48" y="328.75" width="6.18" height="4.58" fill="#a5d22d"/>
<rect x="409.06" y="328.75" width="11.76" height="4.58" fill="#f3821e"/>
<rect x="420.23" y="328.75" width="6.18" height="4.58" fill="#e1e12d"/>
<rect x="425.81" y="328.75" width="6.18" height="4.58" fill="#a5d22d"/>
<rect x="431.39" y="328.75" width="6.18" height="4.58" fill="#f5aa23"/>
<rect x="436.98" y="328.75" width="6.18" height="4.58" fill="#f5cd28"/>
<rect x="442.56" y="328.75" width="6.18" height="4.58" fill="#e1e12d"/>
<rect x="448.14" y="328.75" width="6.18" height="4.58" fill="#3ca037"/>
<rect x="453.72" y="328.75" width="6.18" height="4.58" fill="#238c41"/>
<rect x="459.31" y="328.75" width="11.76" height="4.58" fill="#3ca037"/>
<rect x="470.47" y="328.75" width="6.18" height="4.58" fill="#238c41"/>
<rect x="476.05" y="328.75" width="6.18" height="4.58" fill="#a5d22d"/>
<rect x="481.64" y="328.75" width="6.18" height="4.58" fill="#e1e12d"/>
<rect x="487.22" y="328.75" width="5.58" height="4.58" fill="#f5cd28"/>
<rect x="303.00" y="332.73" width="11.76" height="4.58" fill="#e1e12d"/>
<rect x="314.16" y="332.73" width="6.18" height="4.58" fill="#f3821e"/>
<rect x="319.75" y="332.73" width="11.76" height="4.58" fill="#a5d22d"/>
<rect x="330.91" y="332.73" width="6.18" height="4.58" fill="#3ca037"/>
<rect x="336.49" y="332.73" width="6.18" height="4.58" fill="#e1e12d"/>
<rect x="342.08" y="332.73" width="6.18" height="4.58" fill="#a5d22d"/>
<rect x="347.66" y="332.73" width="6.18" height="4.58" fill="#e1e12d"/>
<rect x="353.24" y="332.73" width="6.18" height="4.58" fill="#a5d22d"/>
<rect x="358.82" y="332.73" width="6.18" height="4.58" fill="#f5aa23"/>
<rect x="364.41" y="332.73" width="6.18" height="4.58" fill="#f3821e"/>
<rect x="369.99" y="332.73" width="6.18" height="4.58" fill="#238c41"/>
<rect x="375.57" y="332.73" width="6.18" height="4.58" fill="#f3821e"/>
<rect x="381.15" y="332.73" width="11.76" height="4.58" fill="#f5aa23"/>
<rect x="392.32" y="332.73" width="6.18" height="4.58" fill="#e1e12d"/>
<rect x="397.90" y="332.73" width="11.76" height="4.58" fill="#f3821e"/>
<rect x="409.06" y="332.73" width="6.18" height="4.58" fill="#ee5a23"/>
<rect x="414.65" y="332.73" width="6.18" height="4.58" fill="#f3821e"/>
<rect x="420.23" y="332.73" width="6.18" height="4.58" fill="#ee5a23"/>
<rect x="425.81" y="332.73" width="6.18" height="4.58" fill="#f3821e"/>
<rect x="431.39" y="332.73" width="6.18" height="4.58" fill="#ee5a23"/>
<rect x="436.98" y="332.73" width="6.18" height="4.58" fill="#e42d23"/>
<rect x="442.56" y="332.73" width="6.18" height="4.58" fill="#f5cd28"/>
<rect x="448.14" y="332.73" width="34.09" height="4.58" fill="#3ca037"/>
<rect x="481.64" y="332.73" width="6.18" height="4.58" fill="#e1e12d"/>
<rect x="487.22" y="332.73" width="5.58" height="4.58" fill="#3ca037"/>
<rect x="303.00" y="336.72" width="6.18" height="4.58" fill="#a5d22d"/>
<rect x="308.58" y="336.72" width="6.18" height="4.58" fill="#f5aaa0"/>
<rect x="314.16" y="336.72" width="17.35" height="4.58" fill="#f3821e"/>
<rect x="330.91" y="336.72" width="6.18" height="4.58" fill="#a5d22d"/>
<rect x="336.49" y="336.72" width="6.18" height="4.58" fill="#f3821e"/>
<rect x="342.08" y="336.72" width="6.18" height="4.58" fill="#e1e12d"/>
<rect x="347.66" y="336.72" width="6.18" height="4.58" fill="#f5cd28"/>
<rect x="353.24" y="336.72" width="6.18" height="4.58" fill="#f5aa23"/>
<rect x="358.82" y="336.72" width="6.18" height="4.58" fill="#f5cd28"/>
<rect x="364.41" y="336.72" width="6.18" height="4.58" fill="#f5aa23"/>
<rect x="369.99" y="336.72" width="6.18" height="4.58" fill="#238c41"/>
<rect x="375.57" y="336.72" width="6.18" height="4.58" fill="#f5aa23"/>
<rect x="381.15" y="336.72" width="6.18" height="4.58" fill="#f3821e"/>
<rect x="386.74" y="336.72" width="6.18" height="4.58" fill="#f5aaa0"/>
<rect x="392.32" y="336.72" width="6.18" height="4.58" fill="#f3821e"/>
<rect x="397.90" y="336.72" width="11.76" height="4.58" fill="#ee5a23"/>
<rect x="409.06" y="336.72" width="6.18" height="4.58" fill="#f3821e"/>
<rect x="414.65" y="336.72" width="6.18" height="4.58" fill="#ee5a23"/>
<rect x="420.23" y="336.72" width="6.18" height="4.58" fill="#f3821e"/>
<rect x="425.81" y="336.72" width="6.18" height="4.58" fill="#ee5a23"/>
<rect x="431.39" y="336.72" width="6.18" height="4.58" fill="#f3821e"/>
<rect x="436.98" y="336.72" width="6.18" height="4.58" fill="#ee5a23"/>
<rect x="442.56" y="336.72" width="6.18" height="4.58" fill="#cdcdc8"/>
<rect x="448.14" y="336.72" width="6.18" height="4.58" fill="#e1e12d"/>
<rect x="453.72" y="336.72" width="6.18" height="4.58" fill="#a5d22d"/>
<rect x="459.31" y="336.72" width="6.18" height="4.58" fill="#e1e12d"/>
<rect x="464.89" y="336.72" width="6.18" height="4.58" fill="#a5d22d"/>
<rect x="470.47" y="336.72" width="17.35" height="4.58" fill="#e1e12d"/>
<rect x="487.22" y="336.72" width="5.58" height="4.58" fill="#a5d22d"/>
<rect x="303.00" y="340.70" width="6.18" height="4.58" fill="#cdcdc8"/>
<rect x="308.58" y="340.70" width="6.18" height="4.58" fill="#e1e12d"/>
<rect x="314.16" y="340.70" width="17.35" height="4.58" fill="#f3821e"/>
<rect x="330.91" y="340.70" width="6.18" height="4.58" fill="#f5aa23"/>
<rect x="336.49" y="340.70" width="6.18" height="4.58" fill="#f3821e"/>
<rect x="342.08" y="340.70" width="11.76" height="4.58" fill="#e1e12d"/>
<rect x="353.24" y="340.70" width="6.18" height="4.58" fill="#f5aa23"/>
<rect x="358.82" y="340.70" width="6.18" height="4.58" fill="#e1e12d"/>
<rect x="364.41" y="340.70" width="6.18" height="4.58" fill="#f5aa23"/>
<rect x="369.99" y="340.70" width="6.18" height="4.58" fill="#969696"/>
<rect x="375.57" y="340.70" width="6.18" height="4.58" fill="#f5aa23"/>
<rect x="381.15" y="340.70" width="6.18" height="4.58" fill="#f3821e"/>
<rect x="386.74" y="340.70" width="6.18" height="4.58" fill="#969696"/>
<rect x="392.32" y="340.70" width="6.18" height="4.58" fill="#f5aa23"/>
<rect x="397.90" y="340.70" width="6.18" height="4.58" fill="#f3821e"/>
<rect x="403.48" y="340.70" width="6.18" height="4.58" fill="#ee5a23"/>
<rect x="409.06" y="340.70" width="6.18" height="4.58" fill="#e42d23"/>
<rect x="414.65" y="340.70" width="6.18" height="4.58" fill="#ee5a23"/>
<rect x="420.23" y="340.70" width="6.18" height="4.58" fill="#e42d23"/>
<rect x="425.81" y="340.70" width="6.18" height="4.58" fill="#ee5a23"/>
<rect x="431.39" y="340.70" width="6.18" height="4.58" fill="#f3821e"/>
<rect x="436.98" y="340.70" width="6.18" height="4.58" fill="#e42d23"/>
<rect x="442.56" y="340.70" width="6.18" height="4.58" fill="#f5cd28"/>
<rect x="448.14" y="340.70" width="6.18" height="4.58" fill="#3ca037"/>
<rect x="453.72" y="340.70" width="6.18" height="4.58" fill="#a5d22d"/>
<rect x="459.31" y="340.70" width="6.18" height="4.58" fill="#3ca037"/>
<rect x="464.89" y="340.70" width="6.18" height="4.58" fill="#a5d22d"/>
<rect x="470.47" y="340.70" width="6.18" height="4.58" fill="#3ca037"/>
<rect x="476.05" y="340.70" width="6.18" height="4.58" fill="#a5d22d"/>
<rect x="481.64" y="340.70" width="6.18" height="4.58" fill="#e1e12d"/>
<rect x="487.22" y="340.70" width="5.58" height="4.58" fill="#3ca037"/>
<rect x="303.00" y="344.68" width="6.18" height="4.58" fill="#969696"/>
<rect x="308.58" y="344.68" width="6.18" height="4.58" fill="#cdcdc8"/>
<rect x="314.16" y="344.68" width="11.76" height="4.58" fill="#f5aa23"/>
<rect x="325.33" y="344.68" width="6.18" height="4.58" fill="#f3821e"/>
<rect x="330.91" y="344.68" width="11.76" height="4.58" fill="#f5aa23"/>
<rect x="342.08" y="344.68" width="11.76" height="4.58" fill="#a5d22d"/>
<rect x="353.24" y="344.68" width="6.18" height="4.58" fill="#e1e12d"/>
<rect x="358.82" y="344.68" width="6.18" height="4.58" fill="#a5d22d"/>
<rect x="364.41" y="344.68" width="6.18" height="4.58" fill="#e1e12d"/>
<rect x="369.99" y="344.68" width="6.18" height="4.58" fill="#969696"/>
<rect x="375.57" y="344.68" width="6.18" height="4.58" fill="#f3821e"/>
<rect x="381.15" y="344.68" width="11.76" height="4.58" fill="#f5aa23"/>
<rect x="392.32" y="344.68" width="6.18" height="4.58" fill="#969696"/>
<rect x="397.90" y="344.68" width="6.18" height="4.58" fill="#ee5a23"/>
<rect x="403.48" y="344.68" width="6.18" height="4.58" fill="#f3821e"/>
<rect x="409.06" y="344.68" width="6.18" height="4.58" fill="#ee5a23"/>
<rect x="414.65" y="344.68" width="6.18" height="4.58" fill="#f3821e"/>
<rect x="420.23" y="344.68" width="6.18" height="4.58" fill="#ee5a23"/>
<rect x="425.81" y="344.68" width="6.18" height="4.58" fill="#f3821e"/>
<rect x="431.39" y="344.68" width="6.18" height="4.58" fill="#ee5a23"/>
<rect x="436.98" y="344.68" width="6.18" height="4.58" fill="#e42d23"/>
<rect x="442.56" y="344.68" width="6.18" height="4.58" fill="#f5aaa0"/>
<rect x="448.14" y="344.68" width="11.76" height="4.58" fill="#3ca037"/>
<rect x="459.31" y="344.68" width="6.18" height="4.58" fill="#e1e12d"/>
<rect x="464.89" y="344.68" width="17.35" height="4.58" fill="#3ca037"/>
<rect x="481.64" y="344.68" width="6.18" height="4.58" fill="#a5d22d"/>
<rect x="487.22" y="344.68" width="5.58" height="4.58" fill="#3ca037"/>
<rect x="303.00" y="348.66" width="11.76" height="4.58" fill="#969696"/>
<rect x="314.16" y="348.66" width="11.76" height="4.58" fill="#f5cd28"/>
<rect x="325.33" y="348.66" width="6.18" height="4.58" fill="#f5aa23"/>
<rect x="330.91" y="348.66" width="6.18" height="4.58" fill="#f5cd28"/>
<rect x="336.49" y="348.66" width="6.18" height="4.58" fill="#f5aa23"/>
<rect x="342.08" y="348.66" width="11.76" height="4.58" fill="#f5cd28"/>
<rect x="353.24" y="348.66" width="6.18" height="4.58" fill="#f5aa23"/>
<rect x="358.82" y="348.66" width="6.18" height="4.58" fill="#f5cd28"/>
<rect x="364.41" y="348.66" width="6.18" height="4.58" fill="#f5aa23"/>
<rect x="369.99" y="348.66" width="6.18" height="4.58" fill="#e1e12d"/>
<rect x="375.57" y="348.66" width="22.93" height="4.58" fill="#f5cd28"/>
<rect x="397.90" y="348.66" width="11.76" height="4.58" fill="#ee5a23"/>
<rect x="409.06" y="348.66" width="6.18" height="4.58" fill="#e42d23"/>
<rect x="414.65" y="348.66" width="6.18" height="4.58" fill="#ee5a23"/>
<rect x="420.23" y="348.66" width="6.18" height="4.58" fill="#e42d23"/>
<rect x="425.81" y="348.66" width="6.18" height="4.58" fill="#ee5a23"/>
<rect x="431.39" y="348.66" width="6.18" height="4.58" fill="#e42d23"/>
<rect x="436.98" y="348.66" width="6.18" height="4.58" fill="#ee5a23"/>
<rect x="442.56" y="348.66" width="6.18" height="4.58" fill="#e1e12d"/>
<rect x="448.14" y="348.66" width="6.18" height="4.58" fill="#a5d22d"/>
<rect x="453.72" y="348.66" width="6.18" height="4.58" fill="#3ca037"/>
<rect x="459.31" y="348.66" width="6.18" height="4.58" fill="#a5d22d"/>
<rect x="464.89" y="348.66" width="6.18" height="4.58" fill="#3ca037"/>
<rect x="470.47" y="348.66" width="6.18" height="4.58" fill="#a5d22d"/>
<rect x="476.05" y="348.66" width="6.18" height="4.58" fill="#3ca037"/>
<rect x="481.64" y="348.66" width="6.18" height="4.58" fill="#e1e12d"/>
<rect x="487.22" y="348.66" width="5.58" height="4.58" fill="#3ca037"/>
<rect x="303.00" y="352.64" width="73.17" height="4.58" fill="#e42d23"/>
<rect x="375.57" y="352.64" width="6.18" height="4.58" fill="#ee5a23"/>
<rect x="381.15" y="352.64" width="62.01" height="4.58" fill="#e42d23"/>
<rect x="442.56" y="352.64" width="6.18" height="4.58" fill="#e1e12d"/>
<rect x="448.14" y="352.64" width="17.35" height="4.58" fill="#238c41"/>
<rect x="464.89" y="352.64" width="6.18" height="4.58" fill="#3ca037"/>
<rect x="470.47" y="352.64" width="11.76" height="4.58" fill="#e42d23"/>
<rect x="481.64" y="352.64" width="6.18" height="4.58" fill="#a5d22d"/>
<rect x="487.22" y="352.64" width="5.58" height="4.58" fill="#3ca037"/>
<rect x="303.00" y="356.62" width="6.18" height="4.58" fill="#e42d23"/>
<rect x="308.58" y="356.62" width="6.18" height="4.58" fill="#ee5a23"/>
<rect x="314.16" y="356.62" width="11.76" height="4.58" fill="#e42d23"/>
<rect x="325.33" y="356.62" width="6.18" height="4.58" fill="#ee5a23"/>
<rect x="330.91" y="356.62" width="17.35" height="4.58" fill="#e42d23"/>
<rect x="347.66" y="356.62" width="6.18" height="4.58" fill="#ee5a23"/>
<rect x="353.24" y="356.62" width="11.76" height="4.58" fill="#e42d23"/>
<rect x="364.41" y="356.62" width="6.18" height="4.58" fill="#ee5a23"/>
<rect x="369.99" y="356.62" width="6.18" height="4.58" fill="#e42d23"/>
<rect x="375.57" y="356.62" width="6.18" height="4.58" fill="#f5cd28"/>
<rect x="381.15" y="356.62" width="28.51" height="4.58" fill="#e42d23"/>
<rect x="409.06" y="356.62" width="6.18" height="4.58" fill="#ee5a23"/>
<rect x="414.65" y="356.62" width="11.76" height="4.58" fill="#e42d23"/>
<rect x="425.81" y="356.62" width="6.18" height="4.58" fill="#ee5a23"/>
<rect x="431.39" y="356.62" width="6.18" height="4.58" fill="#e42d23"/>
<rect x="436.98" y="356.62" width="22.93" height="4.58" fill="#3ca037"/>
<rect x="459.31" y="356.62" width="22.93" height="4.58" fill="#e42d23"/>
<rect x="481.64" y="356.62" width="6.18" height="4.58" fill="#e1e12d"/>
<rect x="487.22" y="356.62" width="5.58" height="4.58" fill="#3ca037"/>
<rect x="303.00" y="360.60" width="6.18" height="4.58" fill="#f5aaa0"/>
<rect x="308.58" y="360.60" width="17.35" height="4.58" fill="#e42d23"/>
<rect x="325.33" y="360.60" width="6.18" height="4.58" fill="#ee5a23"/>
<rect x="330.91" y="360.60" width="28.51" height="4.58" fill="#e42d23"/>
<rect x="358.82" y="360.60" width="6.18" height="4.58" fill="#ee5a23"/>
<rect x="364.41" y="360.60" width="22.93" height="4.58" fill="#e42d23"/>
<rect x="386.74" y="360.60" width="6.18" height="4.58" fill="#f5aaa0"/>
<rect x="392.32" y="360.60" width="45.26" height="4.58" fill="#e42d23"/>
<rect x="436.98" y="360.60" width="17.35" height="4.58" fill="#3ca037"/>
<rect x="453.72" y="360.60" width="6.18" height="4.58" fill="#a5d22d"/>
<rect x="459.31" y="360.60" width="22.93" height="4.58" fill="#ee5a23"/>
<rect x="481.64" y="360.60" width="6.18" height="4.58" fill="#e1e12d"/>
<rect x="487.22" y="360.60" width="5.58" height="4.58" fill="#a5d22d"/>
<rect x="303.00" y="364.59" width="39.68" height="4.58" fill="#e42d23"/>
<rect x="342.08" y="364.59" width="6.18" height="4.58" fill="#ee5a23"/>
<rect x="347.66" y="364.59" width="95.50" height="4.58" fill="#e42d23"/>
<rect x="442.56" y="364.59" width="6.18" height="4.58" fill="#3ca037"/>
<rect x="448.14" y="364.59" width="11.76" height="4.58" fill="#e42d23"/>
<rect x="459.31" y="364.59" width="6.18" height="4.58" fill="#f5aaa0"/>
<rect x="464.89" y="364.59" width="6.18" height="4.58" fill="#e1e12d"/>
<rect x="470.47" y="364.59" width="6.18" height="4.58" fill="#f3821e"/>
<rect x="476.05" y="364.59" width="6.18" height="4.58" fill="#e1e12d"/>
<rect x="481.64" y="364.59" width="6.18" height="4.58" fill="#f3821e"/>
<rect x="487.22" y="364.59" width="5.58" height="4.58" fill="#e1e12d"/>
<rect x="303.00" y="368.57" width="11.76" height="4.58" fill="#a5d22d"/>
<rect x="314.16" y="368.57" width="11.76" height="4.58" fill="#f3821e"/>
<rect x="325.33" y="368.57" width="6.18" height="4.58" fill="#f5aa23"/>
<rect x="330.91" y="368.57" width="6.18" height="4.58" fill="#f3821e"/>
<rect x="336.49" y="368.57" width="17.35" height="4.58" fill="#f5aa23"/>
<rect x="353.24" y="368.57" width="6.18" height="4.58" fill="#f3821e"/>
<rect x="358.82" y="368.57" width="6.18" height="4.58" fill="#f5aa23"/>
<rect x="364.41" y="368.57" width="6.18" height="4.58" fill="#f3821e"/>
<rect x="369.99" y="368.57" width="11.76" height="4.58" fill="#e1e12d"/>
<rect x="381.15" y="368.57" width="17.35" height="4.58" fill="#a5d22d"/>
<rect x="397.90" y="368.57" width="6.18" height="4.58" fill="#ee5a23"/>
<rect x="403.48" y="368.57" width="6.18" height="4.58" fill="#f3821e"/>
<rect x="409.06" y="368.57" width="6.18" height="4.58" fill="#ee5a23"/>
<rect x="414.65" y="368.57" width="6.18" height="4.58" fill="#f3821e"/>
<rect x="420.23" y="368.57" width="6.18" height="4.58" fill="#ee5a23"/>
<rect x="425.81" y="368.57" width="6.18" height="4.58" fill="#f3821e"/>
<rect x="431.39" y="368.57" width="6.18" height="4.58" fill="#ee5a23"/>
<rect x="436.98" y="368.57" width="6.18" height="4.58" fill="#f3821e"/>
<rect x="442.56" y="368.57" width="6.18" height="4.58" fill="#e1e12d"/>
<rect x="448.14" y="368.57" width="6.18" height="4.58" fill="#a5d22d"/>
<rect x="453.72" y="368.57" width="6.18" height="4.58" fill="#3ca037"/>
<rect x="459.31" y="368.57" width="11.76" height="4.58" fill="#238c41"/>
<rect x="470.47" y="368.57" width="6.18" height="4.58" fill="#e1e12d"/>
<rect x="476.05" y="368.57" width="6.18" height="4.58" fill="#a5d22d"/>
<rect x="481.64" y="368.57" width="6.18" height="4.58" fill="#e1e12d"/>
<rect x="487.22" y="368.57" width="5.58" height="4.58" fill="#a5d22d"/>
<rect x="303.00" y="372.55" width="6.18" height="4.58" fill="#e1e12d"/>
<rect x="308.58" y="372.55" width="6.18" height="4.58" fill="#f5aa23"/>
<rect x="314.16" y="372.55" width="17.35" height="4.58" fill="#ee5a23"/>
<rect x="330.91" y="372.55" width="6.18" height="4.58" fill="#f3821e"/>
<rect x="336.49" y="372.55" width="6.18" height="4.58" fill="#ee5a23"/>
<rect x="342.08" y="372.55" width="6.18" height="4.58" fill="#e1e12d"/>
<rect x="347.66" y="372.55" width="6.18" height="4.58" fill="#f3821e"/>
<rect x="353.24" y="372.55" width="6.18" height="4.58" fill="#a5d22d"/>
<rect x="358.82" y="372.55" width="6.18" height="4.58" fill="#e1e12d"/>
<rect x="364.41" y="372.55" width="6.18" height="4.58" fill="#f5aa23"/>
<rect x="369.99" y="372.55" width="11.76" height="4.58" fill="#f3821e"/>
<rect x="381.15" y="372.55" width="6.18" height="4.58" fill="#6eb932"/>
<rect x="386.74" y="372.55" width="6.18" height="4.58" fill="#a5d22d"/>
<rect x="392.32" y="372.55" width="6.18" height="4.58" fill="#6eb932"/>
<rect x="397.90" y="372.55" width="6.18" height="4.58" fill="#f3821e"/>
<rect x="403.48" y="372.55" width="6.18" height="4.58" fill="#e1e12d"/>
<rect x="409.06" y="372.55" width="6.18" height="4.58" fill="#f3821e"/>
<rect x="414.65" y="372.55" width="6.18" height="4.58" fill="#e1e12d"/>
<rect x="420.23" y="372.55" width="6.18" height="4.58" fill="#f3821e"/>
<rect x="425.81" y="372.55" width="6.18" height="4.58" fill="#e1e12d"/>
<rect x="431.39" y="372.55" width="6.18" height="4.58" fill="#f3821e"/>
<rect x="436.98" y="372.55" width="17.35" height="4.58" fill="#e1e12d"/>
<rect x="453.72" y="372.55" width="6.18" height="4.58" fill="#3ca037"/>
<rect x="459.31" y="372.55" width="11.76" height="4.58" fill="#238c41"/>
<rect x="470.47" y="372.55" width="6.18" height="4.58" fill="#a5d22d"/>
<rect x="476.05" y="372.55" width="6.18" height="4.58" fill="#e1e12d"/>
<rect x="481.64" y="372.55" width="6.18" height="4.58" fill="#a5d22d"/>
<rect x="487.22" y="372.55" width="5.58" height="4.58" fill="#e1e12d"/>
<rect x="303.00" y="376.53" width="6.18" height="4.58" fill="#f3821e"/>
<rect x="308.58" y="376.53" width="6.18" height="4.58" fill="#cdcdc8"/>
<rect x="314.16" y="376.53" width="11.76" height="4.58" fill="#f3821e"/>
<rect x="325.33" y="376.53" width="6.18" height="4.58" fill="#ee5a23"/>
<rect x="330.91" y="376.53" width="6.18" height="4.58" fill="#f3821e"/>
<rect x="336.49" y="376.53" width="6.18" height="4.58" fill="#ee5a23"/>
<rect x="342.08" y="376.53" width="6.18" height="4.58" fill="#f3821e"/>
<rect x="347.66" y="376.53" width="6.18" height="4.58" fill="#f5aaa0"/>
<rect x="353.24" y="376.53" width="6.18" height="4.58" fill="#ee5a23"/>
<rect x="358.82" y="376.53" width="6.18" height="4.58" fill="#f5aaa0"/>
<rect x="364.41" y="376.53" width="17.35" height="4.58" fill="#ee5a23"/>
<rect x="381.15" y="376.53" width="6.18" height="4.58" fill="#f5aaa0"/>
<rect x="386.74" y="376.53" width="6.18" height="4.58" fill="#e1e12d"/>
<rect x="392.32" y="376.53" width="6.18" height="4.58" fill="#f5aaa0"/>
<rect x="397.90" y="376.53" width="11.76" height="4.58" fill="#ee5a23"/>
<rect x="409.06" y="376.53" width="6.18" height="4.58" fill="#f3821e"/>
<rect x="414.65" y="376.53" width="11.76" height="4.58" fill="#ee5a23"/>
<rect x="425.81" y="376.53" width="6.18" height="4.58" fill="#e42d23"/>
<rect x="431.39" y="376.53" width="6.18" height="4.58" fill="#ee5a23"/>
<rect x="436.98" y="376.53" width="6.18" height="4.58" fill="#f3821e"/>
<rect x="442.56" y="376.53" width="6.18" height="4.58" fill="#e1e12d"/>
<rect x="448.14" y="376.53" width="6.18" height="4.58" fill="#a5d22d"/>
<rect x="453.72" y="376.53" width="11.76" height="4.58" fill="#3ca037"/>
<rect x="464.89" y="376.53" width="6.18" height="4.58" fill="#238c41"/>
<rect x="470.47" y="376.53" width="6.18" height="4.58" fill="#e1e12d"/>
<rect x="476.05" y="376.53" width="6.18" height="4.58" fill="#f3821e"/>
<rect x="481.64" y="376.53" width="6.18" height="4.58" fill="#e1e12d"/>
<rect x="487.22" y="376.53" width="5.58" height="4.58" fill="#a5d22d"/>
<rect x="303.00" y="380.51" width="6.18" height="4.58" fill="#f5aaa0"/>
<rect x="308.58" y="380.51" width="6.18" height="4.58" fill="#cdcdc8"/>
<rect x="314.16" y="380.51" width="6.18" height="4.58" fill="#f3821e"/>
<rect x="319.75" y="380.51" width="6.18" height="4.58" fill="#f5aa23"/>
<rect x="325.33" y="380.51" width="6.18" height="4.58" fill="#a5d22d"/>
<rect x="330.91" y="380.51" width="6.18" height="4.58" fill="#e1e12d"/>
<rect x="336.49" y="380.51" width="6.18" height="4.58" fill="#f5aa23"/>
<rect x="342.08" y="380.51" width="6.18" height="4.58" fill="#f3821e"/>
<rect x="347.66" y="380.51" width="11.76" height="4.58" fill="#ee5a23"/>
<rect x="358.82" y="380.51" width="6.18" height="4.58" fill="#f3821e"/>
<rect x="364.41" y="380.51" width="17.35" height="4.58" fill="#ee5a23"/>
<rect x="381.15" y="380.51" width="17.35" height="4.58" fill="#e1e12d"/>
<rect x="397.90" y="380.51" width="11.76" height="4.58" fill="#e42d23"/>
<rect x="409.06" y="380.51" width="6.18" height="4.58" fill="#ee5a23"/>
<rect x="414.65" y="380.51" width="6.18" height="4.58" fill="#e42d23"/>
<rect x="420.23" y="380.51" width="6.18" height="4.58" fill="#ee5a23"/>
<rect x="425.81" y="380.51" width="6.18" height="4.58" fill="#e42d23"/>
<rect x="431.39" y="380.51" width="6.18" height="4.58" fill="#ee5a23"/>
<rect x="436.98" y="380.51" width="6.18" height="4.58" fill="#e42d23"/>
<rect x="442.56" y="380.51" width="6.18" height="4.58" fill="#f5cd28"/>
<rect x="448.14" y="380.51" width="6.18" height="4.58" fill="#3ca037"/>
<rect x="453.72" y="380.51" width="11.76" height="4.58" fill="#a5d22d"/>
<rect x="464.89" y="380.51" width="6.18" height="4.58" fill="#3ca037"/>
<rect x="470.47" y="380.51" width="6.18" height="4.58" fill="#f3821e"/>
<rect x="476.05" y="380.51" width="6.18" height="4.58" fill="#e1e12d"/>
<rect x="481.64" y="380.51" width="6.18" height="4.58" fill="#3ca037"/>
<rect x="487.22" y="380.51" width="5.58" height="4.58" fill="#e1e12d"/>
<rect x="303.00" y="384.49" width="6.18" height="4.58" fill="#cdcdc8"/>
<rect x="308.58" y="384.49" width="6.18" height="4.58" fill="#f5aaa0"/>
<rect x="314.16" y="384.49" width="6.18" height="4.58" fill="#f5aa23"/>
<rect x="319.75" y="384.49" width="6.18" height="4.58" fill="#f3821e"/>
<rect x="325.33" y="384.49" width="6.18" height="4.58" fill="#a5d22d"/>
<rect x="330.91" y="384.49" width="6.18" height="4.58" fill="#e1e12d"/>
<rect x="336.49" y="384.49" width="6.18" height="4.58" fill="#a5d22d"/>
<rect x="342.08" y="384.49" width="11.76" height="4.58" fill="#ee5a23"/>
<rect x="353.24" y="384.49" width="6.18" height="4.58" fill="#3ca037"/>
<rect x="358.82" y="384.49" width="6.18" height="4.58" fill="#ee5a23"/>
<rect x="364.41" y="384.49" width="6.18" height="4.58" fill="#f5aa23"/>
<rect x="369.99" y="384.49" width="6.18" height="4.58" fill="#f3821e"/>
<rect x="375.57" y="384.49" width="6.18" height="4.58" fill="#e1e12d"/>
<rect x="381.15" y="384.49" width="6.18" height="4.58" fill="#3ca037"/>
<rect x="386.74" y="384.49" width="6.18" height="4.58" fill="#a5d22d"/>
<rect x="392.32" y="384.49" width="6.18" height="4.58" fill="#e1e12d"/>
<rect x="397.90" y="384.49" width="11.76" height="4.58" fill="#ee5a23"/>
<rect x="409.06" y="384.49" width="6.18" height="4.58" fill="#e42d23"/>
<rect x="414.65" y="384.49" width="6.18" height="4.58" fill="#ee5a23"/>
<rect x="420.23" y="384.49" width="6.18" height="4.58" fill="#e42d23"/>
<rect x="425.81" y="384.49" width="6.18" height="4.58" fill="#ee5a23"/>
<rect x="431.39" y="384.49" width="6.18" height="4.58" fill="#e42d23"/>
<rect x="436.98" y="384.49" width="6.18" height="4.58" fill="#ee5a23"/>
<rect x="442.56" y="384.49" width="6.18" height="4.58" fill="#f5cd28"/>
<rect x="448.14" y="384.49" width="6.18" height="4.58" fill="#969696"/>
<rect x="453.72" y="384.49" width="6.18" height="4.58" fill="#3ca037"/>
<rect x="459.31" y="384.49" width="6.18" height="4.58" fill="#cdcdc8"/>
<rect x="464.89" y="384.49" width="6.18" height="4.58" fill="#3ca037"/>
<rect x="470.47" y="384.49" width="6.18" height="4.58" fill="#969696"/>
<rect x="476.05" y="384.49" width="6.18" height="4.58" fill="#a5d22d"/>
<rect x="481.64" y="384.49" width="6.18" height="4.58" fill="#cdcdc8"/>
<rect x="487.22" y="384.49" width="5.58" height="4.58" fill="#3ca037"/>
<rect x="303.00" y="388.47" width="6.18" height="4.58" fill="#e1e12d"/>
<rect x="308.58" y="388.47" width="6.18" height="4.58" fill="#cdcdc8"/>
<rect x="314.16" y="388.47" width="6.18" height="4.58" fill="#e42d23"/>
<rect x="319.75" y="388.47" width="6.18" height="4.58" fill="#f3821e"/>
<rect x="325.33" y="388.47" width="6.18" height="4.58" fill="#a5d22d"/>
<rect x="330.91" y="388.47" width="6.18" height="4.58" fill="#e1e12d"/>
<rect x="336.49" y="388.47" width="6.18" height="4.58" fill="#a5d22d"/>
<rect x="342.08" y="388.47" width="6.18" height="4.58" fill="#3ca037"/>
<rect x="347.66" y="388.47" width="6.18" height="4.58" fill="#a5d22d"/>
<rect x="353.24" y="388.47" width="6.18" height="4.58" fill="#3ca037"/>
<rect x="358.82" y="388.47" width="6.18" height="4.58" fill="#a5d22d"/>
<rect x="364.41" y="388.47" width="6.18" height="4.58" fill="#3ca037"/>
<rect x="369.99" y="388.47" width="6.18" height="4.58" fill="#e1e12d"/>
<rect x="375.57" y="388.47" width="6.18" height="4.58" fill="#f3821e"/>
<rect x="381.15" y="388.47" width="11.76" height="4.58" fill="#3ca037"/>
<rect x="392.32" y="388.47" width="6.18" height="4.58" fill="#f3821e"/>
<rect x="397.90" y="388.47" width="6.18" height="4.58" fill="#f5aa23"/>
<rect x="403.48" y="388.47" width="6.18" height="4.58" fill="#e1e12d"/>
<rect x="409.06" y="388.47" width="6.18" height="4.58" fill="#f3821e"/>
<rect x="414.65" y="388.47" width="6.18" height="4.58" fill="#e1e12d"/>
<rect x="420.23" y="388.47" width="6.18" height="4.58" fill="#f3821e"/>
<rect x="425.81" y="388.47" width="6.18" height="4.58" fill="#e1e12d"/>
<rect x="431.39" y="388.47" width="6.18" height="4.58" fill="#f3821e"/>
<rect x="436.98" y="388.47" width="6.18" height="4.58" fill="#e1e12d"/>
<rect x="442.56" y="388.47" width="6.18" height="4.58" fill="#a5d22d"/>
<rect x="448.14" y="388.47" width="6.18" height="4.58" fill="#e1e12d"/>
<rect x="453.72" y="388.47" width="6.18" height="4.58" fill="#a5d22d"/>
<rect x="459.31" y="388.47" width="6.18" height="4.58" fill="#e1e12d"/>
<rect x="464.89" y="388.47" width="6.18" height="4.58" fill="#a5d22d"/>
<rect x="470.47" y="388.47" width="6.18" height="4.58" fill="#969696"/>
<rect x="476.05" y="388.47" width="6.18" height="4.58" fill="#f3821e"/>
<rect x="481.64" y="388.47" width="6.18" height="4.58" fill="#e1e12d"/>
<rect x="487.22" y="388.47" width="5.58" height="4.58" fill="#f3821e"/>
<rect x="303.00" y="392.46" width="6.18" height="4.58" fill="#969696"/>
<rect x="308.58" y="392.46" width="6.18" height="4.58" fill="#3ca037"/>
<rect x="314.16" y="392.46" width="6.18" height="4.58" fill="#f3821e"/>
<rect x="319.75" y="392.46" width="6.18" height="4.58" fill="#3ca037"/>
<rect x="325.33" y="392.46" width="6.18" height="4.58" fill="#f3821e"/>
<rect x="330.91" y="392.46" width="6.18" height="4.58" fill="#3ca037"/>
<rect x="336.49" y="392.46" width="6.18" height="4.58" fill="#f3821e"/>
<rect x="342.08" y="392.46" width="6.18" height="4.58" fill="#a5d22d"/>
<rect x="347.66" y="392.46" width="6.18" height="4.58" fill="#f3821e"/>
<rect x="353.24" y="392.46" width="6.18" height="4.58" fill="#a5d22d"/>
<rect x="358.82" y="392.46" width="6.18" height="4.58" fill="#f3821e"/>
<rect x="364.41" y="392.46" width="6.18" height="4.58" fill="#a5d22d"/>
<rect x="369.99" y="392.46" width="17.35" height="4.58" fill="#3ca037"/>
<rect x="386.74" y="392.46" width="6.18" height="4.58" fill="#a5d22d"/>
<rect x="392.32" y="392.46" width="6.18" height="4.58" fill="#e1e12d"/>
<rect x="397.90" y="392.46" width="11.76" height="4.58" fill="#ee5a23"/>
<rect x="409.06" y="392.46" width="6.18" height="4.58" fill="#e42d23"/>
<rect x="414.65" y="392.46" width="6.18" height="4.58" fill="#ee5a23"/>
<rect x="420.23" y="392.46" width="6.18" height="4.58" fill="#e42d23"/>
<rect x="425.81" y="392.46" width="6.18" height="4.58" fill="#3ca037"/>
<rect x="431.39" y="392.46" width="6.18" height="4.58" fill="#e42d23"/>
<rect x="436.98" y="392.46" width="6.18" height="4.58" fill="#ee5a23"/>
<rect x="442.56" y="392.46" width="6.18" height="4.58" fill="#a5d22d"/>
<rect x="448.14" y="392.46" width="6.18" height="4.58" fill="#e1e12d"/>
<rect x="453.72" y="392.46" width="6.18" height="4.58" fill="#a5d22d"/>
<rect x="459.31" y="392.46" width="6.18" height="4.58" fill="#e1e12d"/>
<rect x="464.89" y="392.46" width="6.18" height="4.58" fill="#3ca037"/>
<rect x="470.47" y="392.46" width="6.18" height="4.58" fill="#f5aa23"/>
<rect x="476.05" y="392.46" width="6.18" height="4.58" fill="#969696"/>
<rect x="481.64" y="392.46" width="6.18" height="4.58" fill="#3ca037"/>
<rect x="487.22" y="392.46" width="5.58" height="4.58" fill="#e1e12d"/>
<rect x="303.00" y="396.44" width="6.18" height="4.58" fill="#3ca037"/>
<rect x="308.58" y="396.44" width="6.18" height="4.58" fill="#969696"/>
<rect x="314.16" y="396.44" width="6.18" height="4.58" fill="#f3821e"/>
<rect x="319.75" y="396.44" width="6.18" height="4.58" fill="#3ca037"/>
<rect x="325.33" y="396.44" width="6.18" height="4.58" fill="#f3821e"/>
<rect x="330.91" y="396.44" width="6.18" height="4.58" fill="#3ca037"/>
<rect x="336.49" y="396.44" width="6.18" height="4.58" fill="#f3821e"/>
<rect x="342.08" y="396.44" width="6.18" height="4.58" fill="#e1e12d"/>
<rect x="347.66" y="396.44" width="6.18" height="4.58" fill="#a5d22d"/>
<rect x="353.24" y="396.44" width="6.18" height="4.58" fill="#e1e12d"/>
<rect x="358.82" y="396.44" width="6.18" height="4.58" fill="#a5d22d"/>
<rect x="364.41" y="396.44" width="6.18" height="4.58" fill="#e1e12d"/>
<rect x="369.99" y="396.44" width="17.35" height="4.58" fill="#3ca037"/>
<rect x="386.74" y="396.44" width="6.18" height="4.58" fill="#a5d22d"/>
<rect x="392.32" y="396.44" width="6.18" height="4.58" fill="#cdcdc8"/>
<rect x="397.90" y="396.44" width="11.76" height="4.58" fill="#f3821e"/>
<rect x="409.06" y="396.44" width="6.18" height="4.58" fill="#3ca037"/>
<rect x="414.65" y="396.44" width="6.18" height="4.58" fill="#ee5a23"/>
<rect x="420.23" y="396.44" width="6.18" height="4.58" fill="#3ca037"/>
<rect x="425.81" y="396.44" width="6.18" height="4.58" fill="#f3821e"/>
<rect x="431.39" y="396.44" width="6.18" height="4.58" fill="#3ca037"/>
<rect x="436.98" y="396.44" width="6.18" height="4.58" fill="#ee5a23"/>
<rect x="442.56" y="396.44" width="11.76" height="4.58" fill="#3ca037"/>
<rect x="453.72" y="396.44" width="6.18" height="4.58" fill="#969696"/>
<rect x="459.31" y="396.44" width="6.18" height="4.58" fill="#3ca037"/>
<rect x="464.89" y="396.44" width="6.18" height="4.58" fill="#cdcdc8"/>
<rect x="470.47" y="396.44" width="6.18" height="4.58" fill="#a5d22d"/>
<rect x="476.05" y="396.44" width="6.18" height="4.58" fill="#969696"/>
<rect x="481.64" y="396.44" width="6.18" height="4.58" fill="#3ca037"/>
<rect x="487.22" y="396.44" width="5.58" height="4.58" fill="#a5d22d"/>
<rect x="303.00" y="400.42" width="6.18" height="3.98" fill="#969696"/>
<rect x="308.58" y="400.42" width="6.18" height="3.98" fill="#3ca037"/>
<rect x="314.16" y="400.42" width="6.18" height="3.98" fill="#f3821e"/>
<rect x="319.75" y="400.42" width="6.18" height="3.98" fill="#3ca037"/>
<rect x="325.33" y="400.42" width="6.18" height="3.98" fill="#f3821e"/>
<rect x="330.91" y="400.42" width="6.18" height="3.98" fill="#3ca037"/>
<rect x="336.49" y="400.42" width="6.18" height="3.98" fill="#f3821e"/>
<rect x="342.08" y="400.42" width="6.18" height="3.98" fill="#a5d22d"/>
<rect x="347.66" y="400.42" width="6.18" height="3.98" fill="#3ca037"/>
<rect x="353.24" y="400.42" width="6.18" height="3.98" fill="#a5d22d"/>
<rect x="358.82" y="400.42" width="6.18" height="3.98" fill="#3ca037"/>
<rect x="364.41" y="400.42" width="6.18" height="3.98" fill="#a5d22d"/>
<rect x="369.99" y="400.42" width="17.35" height="3.98" fill="#3ca037"/>
<rect x="386.74" y="400.42" width="6.18" height="3.98" fill="#a5d22d"/>
<rect x="392.32" y="400.42" width="6.18" height="3.98" fill="#3ca037"/>
<rect x="397.90" y="400.42" width="6.18" height="3.98" fill="#e1e12d"/>
<rect x="403.48" y="400.42" width="6.18" height="3.98" fill="#a5d22d"/>
<rect x="409.06" y="400.42" width="6.18" height="3.98" fill="#e1e12d"/>
<rect x="414.65" y="400.42" width="6.18" height="3.98" fill="#a5d22d"/>
<rect x="420.23" y="400.42" width="6.18" height="3.98" fill="#e1e12d"/>
<rect x="425.81" y="400.42" width="6.18" height="3.98" fill="#a5d22d"/>
<rect x="431.39" y="400.42" width="6.18" height="3.98" fill="#e1e12d"/>
<rect x="436.98" y="400.42" width="6.18" height="3.98" fill="#a5d22d"/>
<rect x="442.56" y="400.42" width="11.76" height="3.98" fill="#3ca037"/>
<rect x="453.72" y="400.42" width="6.18" height="3.98" fill="#969696"/>
<rect x="459.31" y="400.42" width="6.18" height="3.98" fill="#a5d22d"/>
<rect x="464.89" y="400.42" width="6.18" height="3.98" fill="#3ca037"/>
<rect x="470.47" y="400.42" width="6.18" height="3.98" fill="#a5d22d"/>
<rect x="476.05" y="400.42" width="6.18" height="3.98" fill="#3ca037"/>
<rect x="481.64" y="400.42" width="6.18" height="3.98" fill="#a5d22d"/>
<rect x="487.22" y="400.42" width="5.58" height="3.98" fill="#3ca037"/></g>
<line x1="493.5" y1="73.0" x2="501.8" y2="72.0" stroke="#444" stroke-width="0.45"/>
<text x="502.8" y="73.30" font-size="4.0" fill="#222" stroke="#444" stroke-width="0.1">SPRY2</text>
<line x1="493.5" y1="86.0" x2="501.8" y2="84.0" stroke="#444" stroke-width="0.45"/>
<text x="502.8" y="85.30" font-size="4.0" fill="#222" stroke="#444" stroke-width="0.1">SCARF2</text>
<line x1="493.5" y1="116.0" x2="501.8" y2="116.0" stroke="#444" stroke-width="0.45"/>
<text x="502.8" y="117.30" font-size="4.0" fill="#222" stroke="#444" stroke-width="0.1">LSP4</text>
<line x1="493.5" y1="131.0" x2="501.8" y2="131.0" stroke="#444" stroke-width="0.45"/>
<text x="502.8" y="132.30" font-size="4.0" fill="#222" stroke="#444" stroke-width="0.1">CSAR1</text>
<line x1="493.5" y1="173.5" x2="501.8" y2="173.5" stroke="#444" stroke-width="0.45"/>
<text x="502.8" y="174.80" font-size="4.0" fill="#222" stroke="#444" stroke-width="0.1">ADRB1</text>
<line x1="493.5" y1="199.0" x2="501.8" y2="197.0" stroke="#444" stroke-width="0.45"/>
<text x="502.8" y="198.30" font-size="4.0" fill="#222" stroke="#444" stroke-width="0.1">EDG8</text>
<line x1="493.5" y1="203.0" x2="501.8" y2="201.0" stroke="#444" stroke-width="0.45"/>
<text x="502.8" y="202.30" font-size="4.0" fill="#222" stroke="#444" stroke-width="0.1">FAQR8</text>
<line x1="493.5" y1="208.0" x2="501.8" y2="205.0" stroke="#444" stroke-width="0.45"/>
<text x="502.8" y="206.30" font-size="4.0" fill="#222" stroke="#444" stroke-width="0.1">EDG7</text>
<line x1="493.5" y1="211.0" x2="501.8" y2="209.0" stroke="#444" stroke-width="0.45"/>
<text x="502.8" y="210.30" font-size="4.0" fill="#222" stroke="#444" stroke-width="0.1">EDG7</text>
<line x1="493.5" y1="213.0" x2="501.8" y2="213.0" stroke="#444" stroke-width="0.45"/>
<text x="502.8" y="214.30" font-size="4.0" fill="#222" stroke="#444" stroke-width="0.1">ANXA8</text>
<line x1="493.5" y1="233.0" x2="501.8" y2="221.0" stroke="#444" stroke-width="0.45"/>
<text x="502.8" y="222.30" font-size="4.0" fill="#222" stroke="#444" stroke-width="0.1">MARCO</text>
<line x1="493.5" y1="236.0" x2="501.8" y2="225.0" stroke="#444" stroke-width="0.45"/>
<text x="502.8" y="226.30" font-size="4.0" fill="#222" stroke="#444" stroke-width="0.1">CD36</text>
<line x1="493.5" y1="239.0" x2="501.8" y2="229.0" stroke="#444" stroke-width="0.45"/>
<text x="502.8" y="230.30" font-size="4.0" fill="#222" stroke="#444" stroke-width="0.1">CD36</text>
<line x1="493.5" y1="241.0" x2="501.8" y2="233.0" stroke="#444" stroke-width="0.45"/>
<text x="502.8" y="234.30" font-size="4.0" fill="#222" stroke="#444" stroke-width="0.1">CXCL12</text>
<line x1="493.5" y1="243.0" x2="501.8" y2="237.0" stroke="#444" stroke-width="0.45"/>
<text x="502.8" y="238.30" font-size="4.0" fill="#222" stroke="#444" stroke-width="0.1">FCGR2A</text>
<line x1="493.5" y1="245.0" x2="501.8" y2="241.0" stroke="#444" stroke-width="0.45"/>
<text x="502.8" y="242.30" font-size="4.0" fill="#222" stroke="#444" stroke-width="0.1">FCGR3B</text>
<line x1="493.5" y1="247.0" x2="501.8" y2="245.0" stroke="#444" stroke-width="0.45"/>
<text x="502.8" y="246.30" font-size="4.0" fill="#222" stroke="#444" stroke-width="0.1">KIR2DL4</text>
<line x1="493.5" y1="249.0" x2="501.8" y2="249.0" stroke="#444" stroke-width="0.45"/>
<text x="502.8" y="250.30" font-size="4.0" fill="#222" stroke="#444" stroke-width="0.1">KIR2DL1</text>
<line x1="493.5" y1="251.0" x2="501.8" y2="252.5" stroke="#444" stroke-width="0.45"/>
<text x="502.8" y="253.80" font-size="4.0" fill="#222" stroke="#444" stroke-width="0.1">KIR2DL2</text>
<line x1="493.5" y1="253.0" x2="501.8" y2="256.0" stroke="#444" stroke-width="0.45"/>
<text x="502.8" y="257.30" font-size="4.0" fill="#222" stroke="#444" stroke-width="0.1">F13A</text>
<line x1="493.5" y1="255.0" x2="501.8" y2="260.0" stroke="#444" stroke-width="0.45"/>
<text x="502.8" y="261.30" font-size="4.0" fill="#222" stroke="#444" stroke-width="0.1">KLRC1</text>
<line x1="493.5" y1="257.0" x2="501.8" y2="264.0" stroke="#444" stroke-width="0.45"/>
<text x="502.8" y="265.30" font-size="4.0" fill="#222" stroke="#444" stroke-width="0.1">APOBEC3B</text>
<line x1="493.5" y1="259.0" x2="501.8" y2="268.0" stroke="#444" stroke-width="0.45"/>
<text x="502.8" y="269.30" font-size="4.0" fill="#222" stroke="#444" stroke-width="0.1">APOBEC3H</text>
<line x1="493.5" y1="261.0" x2="501.8" y2="272.0" stroke="#444" stroke-width="0.45"/>
<text x="502.8" y="273.30" font-size="4.0" fill="#222" stroke="#444" stroke-width="0.1">FKBP1B</text>
<line x1="493.5" y1="263.0" x2="501.8" y2="276.0" stroke="#444" stroke-width="0.45"/>
<text x="502.8" y="277.30" font-size="4.0" fill="#222" stroke="#444" stroke-width="0.1">KLRC2</text>
<line x1="493.5" y1="266.0" x2="501.8" y2="279.5" stroke="#444" stroke-width="0.45"/>
<text x="502.8" y="280.80" font-size="4.0" fill="#222" stroke="#444" stroke-width="0.1">KLRC4</text>
<line x1="493.5" y1="269.0" x2="501.8" y2="283.0" stroke="#444" stroke-width="0.45"/>
<text x="502.8" y="284.30" font-size="4.0" fill="#222" stroke="#444" stroke-width="0.1">NCR1</text>
<line x1="493.5" y1="272.0" x2="501.8" y2="287.0" stroke="#444" stroke-width="0.45"/>
<text x="502.8" y="288.30" font-size="4.0" fill="#222" stroke="#444" stroke-width="0.1">EPHA6</text>
<line x1="493.5" y1="276.0" x2="501.8" y2="291.0" stroke="#444" stroke-width="0.45"/>
<text x="502.8" y="292.30" font-size="4.0" fill="#222" stroke="#444" stroke-width="0.1">GPR37</text>
<line x1="493.5" y1="295.0" x2="501.8" y2="295.0" stroke="#444" stroke-width="0.45"/>
<text x="502.8" y="296.30" font-size="4.0" fill="#222" stroke="#444" stroke-width="0.1">FCRL6</text>
<line x1="493.5" y1="299.0" x2="501.8" y2="299.0" stroke="#444" stroke-width="0.45"/>
<text x="502.8" y="300.30" font-size="4.0" fill="#222" stroke="#444" stroke-width="0.1">HPGD</text>
<line x1="493.5" y1="326.0" x2="501.8" y2="326.6" stroke="#444" stroke-width="0.45"/>
<text x="502.8" y="327.90" font-size="4.0" fill="#222" stroke="#444" stroke-width="0.1">TMEM142A</text>
<line x1="493.5" y1="364.0" x2="501.8" y2="334.0" stroke="#444" stroke-width="0.45"/>
<text x="502.8" y="335.30" font-size="4.0" fill="#222" stroke="#444" stroke-width="0.1">SPOCK2</text>
<line x1="493.5" y1="365.0" x2="501.8" y2="342.4" stroke="#444" stroke-width="0.45"/>
<text x="502.8" y="343.70" font-size="4.0" fill="#222" stroke="#444" stroke-width="0.1">CCL18</text>
<line x1="493.5" y1="366.0" x2="501.8" y2="346.4" stroke="#444" stroke-width="0.45"/>
<text x="502.8" y="347.70" font-size="4.0" fill="#222" stroke="#444" stroke-width="0.1">CCL19</text>
<line x1="493.5" y1="367.0" x2="501.8" y2="350.4" stroke="#444" stroke-width="0.45"/>
<text x="502.8" y="351.70" font-size="4.0" fill="#222" stroke="#444" stroke-width="0.1">CCL17</text>
<line x1="493.5" y1="368.0" x2="501.8" y2="354.3" stroke="#444" stroke-width="0.45"/>
<text x="502.8" y="355.60" font-size="4.0" fill="#222" stroke="#444" stroke-width="0.1">MMP9</text>
<line x1="493.5" y1="369.0" x2="501.8" y2="358.0" stroke="#444" stroke-width="0.45"/>
<text x="502.8" y="359.30" font-size="4.0" fill="#222" stroke="#444" stroke-width="0.1">TNFRSF25</text>
<line x1="493.5" y1="370.0" x2="501.8" y2="362.0" stroke="#444" stroke-width="0.45"/>
<text x="502.8" y="363.30" font-size="4.0" fill="#222" stroke="#444" stroke-width="0.1">DLL4</text>
<line x1="493.5" y1="371.0" x2="501.8" y2="366.0" stroke="#444" stroke-width="0.45"/>
<text x="502.8" y="367.30" font-size="4.0" fill="#222" stroke="#444" stroke-width="0.1">ADAMDEC1</text>
<line x1="493.5" y1="372.0" x2="501.8" y2="369.5" stroke="#444" stroke-width="0.45"/>
<text x="502.8" y="370.80" font-size="4.0" fill="#222" stroke="#444" stroke-width="0.1">LMO2</text>
<line x1="493.5" y1="373.0" x2="501.8" y2="373.5" stroke="#444" stroke-width="0.45"/>
<text x="502.8" y="374.80" font-size="4.0" fill="#222" stroke="#444" stroke-width="0.1">APOE</text>
<line x1="493.5" y1="374.0" x2="501.8" y2="377.5" stroke="#444" stroke-width="0.45"/>
<text x="502.8" y="378.80" font-size="4.0" fill="#222" stroke="#444" stroke-width="0.1">CXCL10</text>
<line x1="493.5" y1="372.0" x2="501.8" y2="385.0" stroke="#444" stroke-width="0.45"/>
<text x="502.8" y="386.30" font-size="4.0" fill="#222" stroke="#444" stroke-width="0.1">C3</text>
<line x1="493.5" y1="373.0" x2="501.8" y2="389.5" stroke="#444" stroke-width="0.45"/>
<text x="502.8" y="390.80" font-size="4.0" fill="#222" stroke="#444" stroke-width="0.1">COL4A1</text>
<line x1="493.5" y1="374.0" x2="501.8" y2="393.5" stroke="#444" stroke-width="0.45"/>
<text x="502.8" y="394.80" font-size="4.0" fill="#222" stroke="#444" stroke-width="0.1">COL4A2</text>
<line x1="493.5" y1="375.0" x2="501.8" y2="397.0" stroke="#444" stroke-width="0.45"/>
<text x="502.8" y="398.30" font-size="4.0" fill="#222" stroke="#444" stroke-width="0.1">KCNE3</text>
<line x1="493.5" y1="405.0" x2="501.8" y2="405.0" stroke="#444" stroke-width="0.45"/>
<text x="502.8" y="406.30" font-size="4.0" fill="#222" stroke="#444" stroke-width="0.1">SH2D1B</text>
<rect x="303.00" y="416" width="189.80" height="7.4" fill="#e2dc1e"/>
<rect x="448.14" y="416" width="33.49" height="7.4" fill="#e0201c"/>
<rect x="487.22" y="416" width="5.58" height="7.4" fill="#e0201c"/>
<text transform="translate(307.29,426) rotate(-90)" text-anchor="end" font-size="4.3" fill="#111" stroke="#333" stroke-width="0.12">ATL1 (LN)</text>
<text transform="translate(312.87,426) rotate(-90)" text-anchor="end" font-size="4.3" fill="#111" stroke="#333" stroke-width="0.12">ATL8 (LN)</text>
<text transform="translate(318.46,426) rotate(-90)" text-anchor="end" font-size="4.3" fill="#111" stroke="#333" stroke-width="0.12">PTCL u6 (Stomach)</text>
<text transform="translate(324.04,426) rotate(-90)" text-anchor="end" font-size="4.3" fill="#111" stroke="#333" stroke-width="0.12">ATL10 (LN)</text>
<text transform="translate(329.62,426) rotate(-90)" text-anchor="end" font-size="4.3" fill="#111" stroke="#333" stroke-width="0.12">ATL5 (LN)</text>
<text transform="translate(335.20,426) rotate(-90)" text-anchor="end" font-size="4.3" fill="#111" stroke="#333" stroke-width="0.12">PTCL u10 (LN)</text>
<text transform="translate(340.79,426) rotate(-90)" text-anchor="end" font-size="4.3" fill="#111" stroke="#333" stroke-width="0.12">ATL2 (LN)</text>
<text transform="translate(346.37,426) rotate(-90)" text-anchor="end" font-size="4.3" fill="#111" stroke="#333" stroke-width="0.12">PTCL u6 (LN)</text>
<text transform="translate(351.95,426) rotate(-90)" text-anchor="end" font-size="4.3" fill="#111" stroke="#333" stroke-width="0.12">PTCL u3 (LN)</text>
<text transform="translate(357.53,426) rotate(-90)" text-anchor="end" font-size="4.3" fill="#111" stroke="#333" stroke-width="0.12">ATL9 (LN)</text>
<text transform="translate(363.11,426) rotate(-90)" text-anchor="end" font-size="4.3" fill="#111" stroke="#333" stroke-width="0.12">PTCL u4 (LN)</text>
<text transform="translate(368.70,426) rotate(-90)" text-anchor="end" font-size="4.3" fill="#111" stroke="#333" stroke-width="0.12">PTCL u11 (LN)</text>
<text transform="translate(374.28,426) rotate(-90)" text-anchor="end" font-size="4.3" fill="#111" stroke="#333" stroke-width="0.12">PTCL u1 (LN)</text>
<text transform="translate(379.86,426) rotate(-90)" text-anchor="end" font-size="4.3" fill="#111" stroke="#333" stroke-width="0.12">ATL6 (LN)</text>
<text transform="translate(385.44,426) rotate(-90)" text-anchor="end" font-size="4.3" fill="#111" stroke="#333" stroke-width="0.12">ATL3 (LN)</text>
<text transform="translate(391.03,426) rotate(-90)" text-anchor="end" font-size="4.3" fill="#111" stroke="#333" stroke-width="0.12">PTCL u2 (LN)</text>
<text transform="translate(396.61,426) rotate(-90)" text-anchor="end" font-size="4.3" fill="#111" stroke="#333" stroke-width="0.12">ATL4 (LN)</text>
<text transform="translate(402.19,426) rotate(-90)" text-anchor="end" font-size="4.3" fill="#111" stroke="#333" stroke-width="0.12">PTCL u7 (LN)</text>
<text transform="translate(407.77,426) rotate(-90)" text-anchor="end" font-size="4.3" fill="#111" stroke="#333" stroke-width="0.12">ATL11 (LN)</text>
<text transform="translate(413.36,426) rotate(-90)" text-anchor="end" font-size="4.3" fill="#111" stroke="#333" stroke-width="0.12">PTCL u8 (Stomach)</text>
<text transform="translate(418.94,426) rotate(-90)" text-anchor="end" font-size="4.3" fill="#111" stroke="#333" stroke-width="0.12">ATL13 (LN)</text>
<text transform="translate(424.52,426) rotate(-90)" text-anchor="end" font-size="4.3" fill="#111" stroke="#333" stroke-width="0.12">ATL12 (LN)</text>
<text transform="translate(430.10,426) rotate(-90)" text-anchor="end" font-size="4.3" fill="#111" stroke="#333" stroke-width="0.12">ATL15 (LN)</text>
<text transform="translate(435.69,426) rotate(-90)" text-anchor="end" font-size="4.3" fill="#111" stroke="#333" stroke-width="0.12">ATL14 (LN)</text>
<text transform="translate(441.27,426) rotate(-90)" text-anchor="end" font-size="4.3" fill="#111" stroke="#333" stroke-width="0.12">ATL7 (LN)</text>
<text transform="translate(446.85,426) rotate(-90)" text-anchor="end" font-size="4.3" fill="#111" stroke="#333" stroke-width="0.12">PTCL u5 (Tonsil)</text>
<text transform="translate(452.43,426) rotate(-90)" text-anchor="end" font-size="4.3" fill="#111" stroke="#333" stroke-width="0.12">GD-Hs1 (Spleen)</text>
<text transform="translate(458.01,426) rotate(-90)" text-anchor="end" font-size="4.3" fill="#111" stroke="#333" stroke-width="0.12">GD-Hs3 (Liver)</text>
<text transform="translate(463.60,426) rotate(-90)" text-anchor="end" font-size="4.3" fill="#111" stroke="#333" stroke-width="0.12">GD-Hs4 (Spleen)</text>
<text transform="translate(469.18,426) rotate(-90)" text-anchor="end" font-size="4.3" fill="#111" stroke="#333" stroke-width="0.12">GD-Hs2 (LN)</text>
<text transform="translate(474.76,426) rotate(-90)" text-anchor="end" font-size="4.3" fill="#111" stroke="#333" stroke-width="0.12">GD-nHs3 (Spleen)</text>
<text transform="translate(480.34,426) rotate(-90)" text-anchor="end" font-size="4.3" fill="#111" stroke="#333" stroke-width="0.12">GD-nHs6 (LN)</text>
<text transform="translate(485.93,426) rotate(-90)" text-anchor="end" font-size="4.3" fill="#111" stroke="#333" stroke-width="0.12">PTCL Hs12 (Spleen)</text>
<text transform="translate(491.51,426) rotate(-90)" text-anchor="end" font-size="4.3" fill="#111" stroke="#333" stroke-width="0.12">GD-nHs7 (Thyroid)</text>
</svg>
</body></html>
